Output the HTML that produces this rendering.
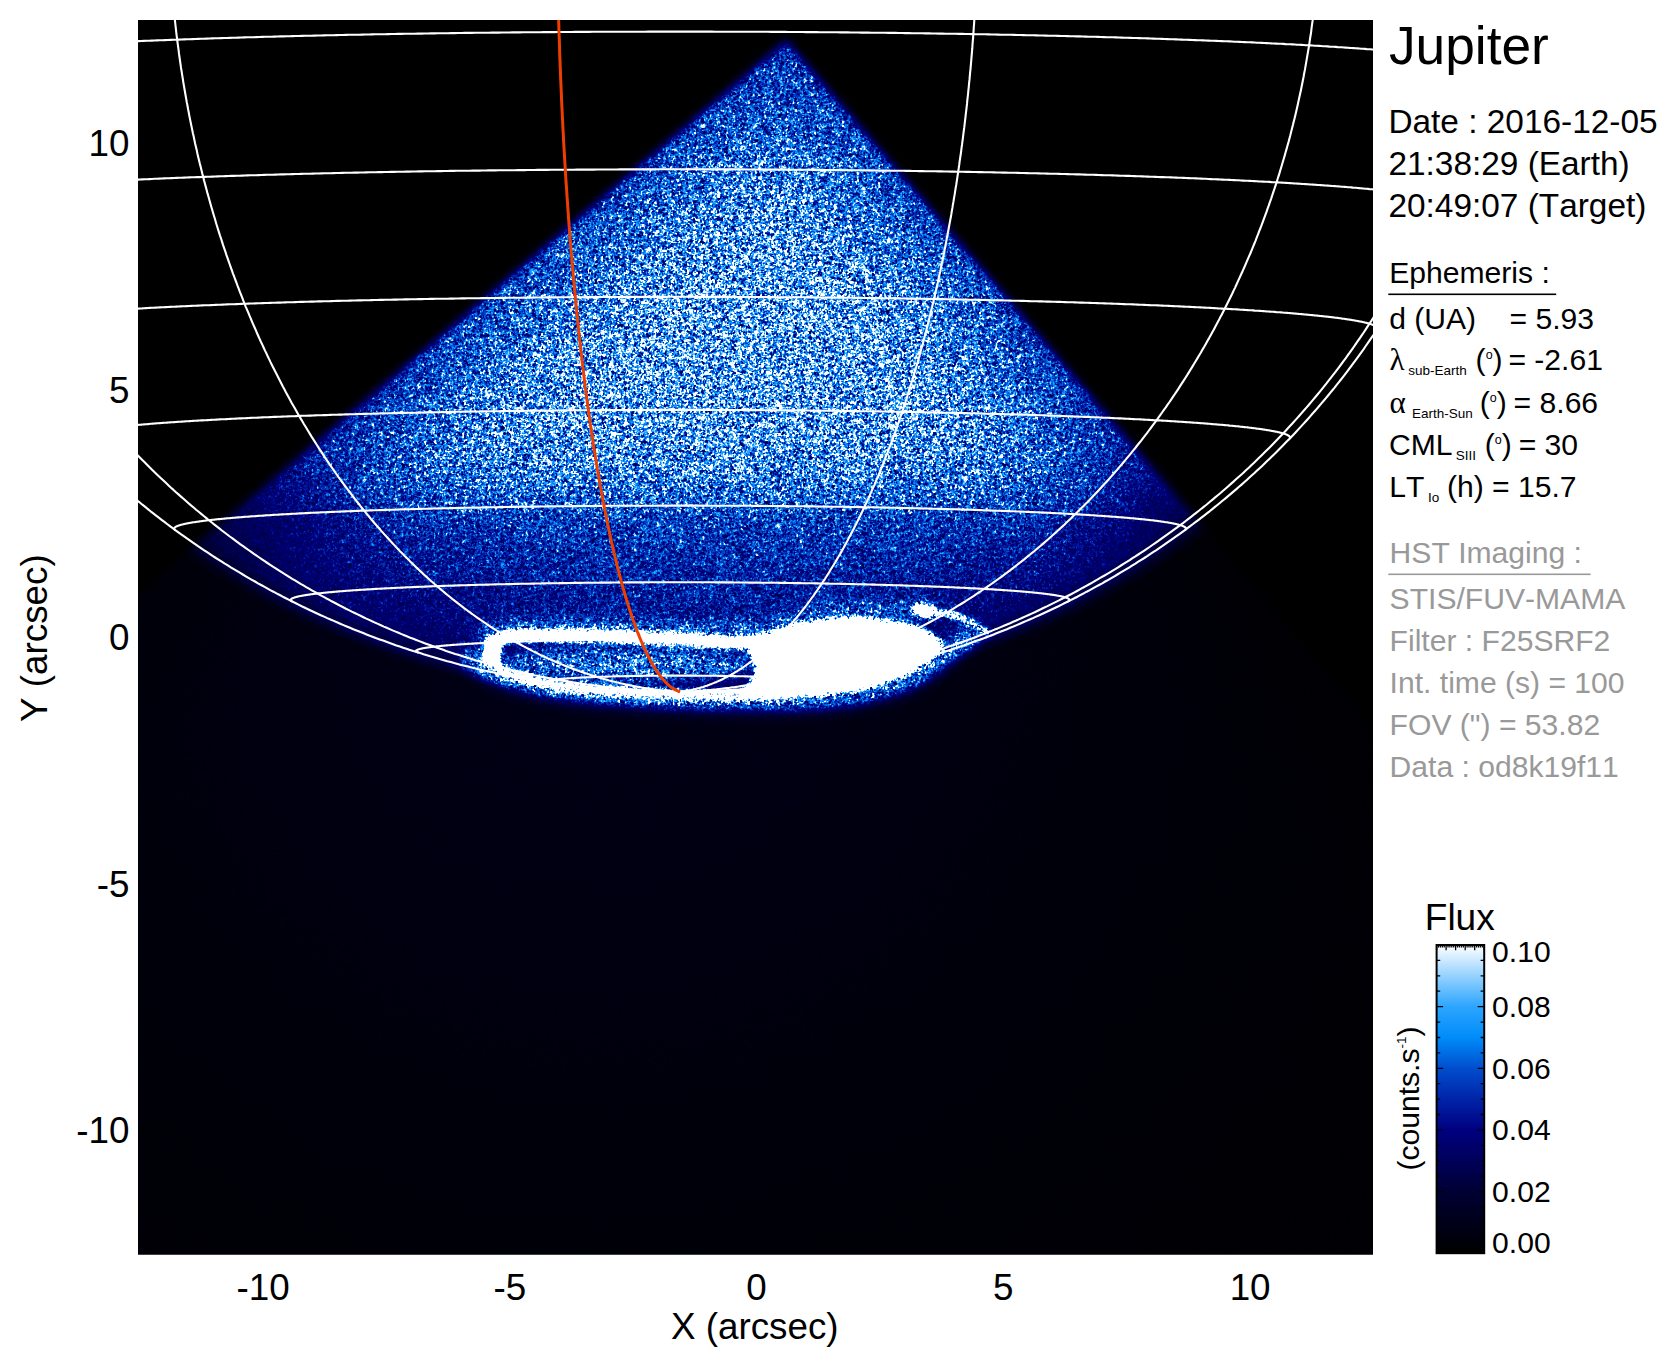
<!DOCTYPE html>
<html lang="en"><head><meta charset="utf-8"><title>Jupiter HST STIS FUV aurora</title>
<style>html,body{margin:0;padding:0;background:#fff;width:1676px;height:1367px}</style></head>
<body>
<svg width="1676" height="1367" viewBox="0 0 1676 1367" style="display:block;position:absolute;left:0;top:0">
<defs>
<clipPath id="plot"><rect x="138" y="20" width="1235" height="1234.5"/></clipPath>
<radialGradient id="disk" gradientUnits="userSpaceOnUse" cx="0" cy="0" r="781.7" gradientTransform="translate(680.09 -73.70) scale(1.06937 1)"><stop offset="0.0000" stop-color="#a9a9a9"/>
<stop offset="0.5882" stop-color="#a9a9a9"/>
<stop offset="0.7353" stop-color="#a7a7a7"/>
<stop offset="0.8333" stop-color="#a4a4a4"/>
<stop offset="0.8824" stop-color="#a1a1a1"/>
<stop offset="0.9314" stop-color="#9d9d9d"/>
<stop offset="0.9657" stop-color="#989898"/>
<stop offset="0.9804" stop-color="#8b8b8b"/>
<stop offset="1.0000" stop-color="#595959"/></radialGradient>
<radialGradient id="vig" gradientUnits="userSpaceOnUse" cx="790" cy="330" r="800"><stop offset="0.0000" stop-color="#000" stop-opacity="0.0000"/><stop offset="0.3750" stop-color="#000" stop-opacity="0.0000"/><stop offset="0.5625" stop-color="#000" stop-opacity="0.0153"/><stop offset="0.7500" stop-color="#000" stop-opacity="0.0315"/><stop offset="1.0000" stop-color="#000" stop-opacity="0.0543"/></radialGradient>
<linearGradient id="latg" gradientUnits="userSpaceOnUse" x1="0" y1="430" x2="0" y2="700"><stop offset="0.0000" stop-color="#000" stop-opacity="0.0000"/><stop offset="0.1481" stop-color="#000" stop-opacity="0.0102"/><stop offset="0.2593" stop-color="#000" stop-opacity="0.0398"/><stop offset="0.3333" stop-color="#000" stop-opacity="0.0663"/><stop offset="0.4815" stop-color="#000" stop-opacity="0.0821"/><stop offset="0.7037" stop-color="#000" stop-opacity="0.0919"/><stop offset="1.0000" stop-color="#000" stop-opacity="0.0987"/></linearGradient>
<filter id="b14" filterUnits="userSpaceOnUse" x="-62" y="-180" width="1635" height="1634.5"><feGaussianBlur stdDeviation="50"/></filter>
<radialGradient id="sky" gradientUnits="userSpaceOnUse" cx="600" cy="620" r="900"><stop offset="0.000" stop-color="#606060"/><stop offset="0.278" stop-color="#5d5d5d"/><stop offset="0.500" stop-color="#555555"/><stop offset="0.722" stop-color="#4b4b4b"/><stop offset="1.000" stop-color="#444444"/></radialGradient>
<filter id="b6" x="-5%" y="-5%" width="110%" height="110%"><feGaussianBlur stdDeviation="6.5"/></filter>
<filter id="b3" x="-10%" y="-10%" width="120%" height="120%"><feGaussianBlur stdDeviation="3"/></filter>
<filter id="b2" x="-20%" y="-50%" width="140%" height="200%"><feGaussianBlur stdDeviation="2"/></filter>
<filter id="b8" x="-20%" y="-60%" width="140%" height="220%"><feGaussianBlur stdDeviation="7"/></filter>
<mask id="detmask2" maskUnits="userSpaceOnUse" x="88" y="-30" width="1335" height="1334.5"><g filter="url(#b3)"><path d="M787.0 18.0 L1987.0 1419.6 L1987.0 1500.0 L-413.0 1500.0 L-413.0 1045.2 Z" fill="#fff"/></g></mask>
<mask id="detmask" maskUnits="userSpaceOnUse" x="88" y="-30" width="1335" height="1334.5"><g filter="url(#b6)"><path d="M787.0 30.0 L1987.0 1431.6 L1987.0 1500.0 L-413.0 1500.0 L-413.0 1057.2 Z" fill="#fff"/></g></mask>
<filter id="cm" filterUnits="userSpaceOnUse" x="138" y="20" width="1235" height="1234.5" color-interpolation-filters="sRGB">
<feTurbulence type="fractalNoise" baseFrequency="2.13" numOctaves="1" seed="7" result="t"/>
<feColorMatrix in="t" type="matrix" values="1.15 1.15 0 0 -0.65  1.15 1.15 0 0 -0.65  1.15 1.15 0 0 -0.65  0 0 0 0 1" result="g"/>
<feConvolveMatrix in="g" order="3" kernelMatrix="0.0784 0.28 0.0784 0.28 1 0.28 0.0784 0.28 0.0784" divisor="2.4336" edgeMode="duplicate" preserveAlpha="true" result="n"/>
<feTurbulence type="fractalNoise" baseFrequency="0.21" numOctaves="2" seed="11" result="t2"/>
<feColorMatrix in="t2" type="matrix" values="1 0 0 0 0  1 0 0 0 0  1 0 0 0 0  0 0 0 0 1" result="g2"/>
<feComposite in="n" in2="g2" operator="arithmetic" k1="0" k2="1" k3="0.15" k4="-0.075" result="n2"/>
<feComponentTransfer in="SourceGraphic" result="sp"><feFuncR type="table" tableValues="0.0200 0.0200 0.0200 0.0200 0.0200 0.0200 0.0200 0.0200 0.0200 0.0200 0.0200 0.0200 0.0200 0.0200 0.0200 0.0200 0.0200 0.0200 0.0200 0.0250 0.0300 0.0450 0.0600 0.0825 0.1050 0.1275 0.1500 0.1700 0.1900 0.1950 0.2000 0.2000 0.2000 0.1875 0.1750 0.1625 0.1500 0.1375 0.1250 0.1125 0.1000"/><feFuncG type="table" tableValues="0.0200 0.0200 0.0200 0.0200 0.0200 0.0200 0.0200 0.0200 0.0200 0.0200 0.0200 0.0200 0.0200 0.0200 0.0200 0.0200 0.0200 0.0200 0.0200 0.0250 0.0300 0.0450 0.0600 0.0825 0.1050 0.1275 0.1500 0.1700 0.1900 0.1950 0.2000 0.2000 0.2000 0.1875 0.1750 0.1625 0.1500 0.1375 0.1250 0.1125 0.1000"/><feFuncB type="table" tableValues="0.0200 0.0200 0.0200 0.0200 0.0200 0.0200 0.0200 0.0200 0.0200 0.0200 0.0200 0.0200 0.0200 0.0200 0.0200 0.0200 0.0200 0.0200 0.0200 0.0250 0.0300 0.0450 0.0600 0.0825 0.1050 0.1275 0.1500 0.1700 0.1900 0.1950 0.2000 0.2000 0.2000 0.1875 0.1750 0.1625 0.1500 0.1375 0.1250 0.1125 0.1000"/></feComponentTransfer>
<feComposite in="sp" in2="n2" operator="arithmetic" k1="4.5" k2="-2.25" k3="0" k4="0.5" result="an"/>
<feComposite in="SourceGraphic" in2="an" operator="arithmetic" k1="0" k2="1" k3="1" k4="-0.5" result="v"/>
<feComponentTransfer in="v"><feFuncR type="table" tableValues="0.000 0.000 0.000 0.000 0.000 0.000 0.000 0.000 0.000 0.000 0.000 0.000 0.000 0.000 0.000 0.000 0.000 0.000 0.000 0.000 0.000 0.000 0.000 0.000 0.000 0.000 0.000 0.000 0.000 0.000 0.000 0.000 0.000 0.000 0.000 0.000 0.000 0.000 0.000 0.000 0.000 0.000 0.000 0.000 0.000 0.000 0.000 0.000 0.000 0.000 0.000 0.000 0.000 0.000 0.000 0.000 0.000 0.000 0.000 0.000 0.000 0.000 0.000 0.000 0.000 0.000 0.000 0.000 0.000 0.000 0.000 0.000 0.000 0.000 0.000 0.000 0.000 0.000 0.025 0.091 0.159 0.302 0.474 0.652 0.837 1.000 1.000 1.000 1.000 1.000 1.000 1.000 1.000 1.000 1.000 1.000 1.000 1.000 1.000 1.000 1.000 1.000 1.000 1.000 1.000 1.000 1.000 1.000 1.000 1.000 1.000 1.000 1.000 1.000 1.000 1.000 1.000 1.000 1.000 1.000 1.000"/><feFuncG type="table" tableValues="0.000 0.000 0.000 0.000 0.000 0.000 0.000 0.000 0.000 0.000 0.000 0.000 0.000 0.000 0.000 0.000 0.000 0.000 0.000 0.000 0.000 0.000 0.000 0.000 0.000 0.000 0.000 0.000 0.000 0.000 0.000 0.000 0.000 0.000 0.000 0.000 0.000 0.000 0.000 0.000 0.000 0.000 0.000 0.000 0.000 0.000 0.000 0.000 0.000 0.000 0.000 0.000 0.000 0.000 0.000 0.000 0.000 0.000 0.000 0.000 0.000 0.000 0.000 0.000 0.000 0.000 0.000 0.000 0.018 0.053 0.089 0.127 0.171 0.220 0.270 0.331 0.412 0.496 0.563 0.599 0.637 0.701 0.774 0.851 0.930 1.000 1.000 1.000 1.000 1.000 1.000 1.000 1.000 1.000 1.000 1.000 1.000 1.000 1.000 1.000 1.000 1.000 1.000 1.000 1.000 1.000 1.000 1.000 1.000 1.000 1.000 1.000 1.000 1.000 1.000 1.000 1.000 1.000 1.000 1.000 1.000"/><feFuncB type="table" tableValues="0.000 0.000 0.000 0.000 0.000 0.000 0.000 0.000 0.000 0.000 0.000 0.000 0.000 0.001 0.001 0.001 0.001 0.002 0.002 0.003 0.003 0.004 0.005 0.006 0.007 0.008 0.009 0.010 0.012 0.014 0.016 0.018 0.021 0.023 0.026 0.030 0.033 0.037 0.041 0.046 0.050 0.056 0.061 0.067 0.074 0.081 0.088 0.096 0.104 0.113 0.123 0.133 0.144 0.155 0.167 0.180 0.193 0.209 0.231 0.254 0.278 0.304 0.331 0.359 0.388 0.419 0.451 0.485 0.521 0.560 0.601 0.643 0.686 0.728 0.773 0.822 0.881 0.942 0.983 0.990 0.998 1.000 1.000 1.000 1.000 1.000 1.000 1.000 1.000 1.000 1.000 1.000 1.000 1.000 1.000 1.000 1.000 1.000 1.000 1.000 1.000 1.000 1.000 1.000 1.000 1.000 1.000 1.000 1.000 1.000 1.000 1.000 1.000 1.000 1.000 1.000 1.000 1.000 1.000 1.000 1.000"/><feFuncA type="linear" slope="0" intercept="1"/></feComponentTransfer>
<feConvolveMatrix order="3" kernelMatrix="0 0 0 0 1 0 0 0 0" divisor="1" edgeMode="duplicate" preserveAlpha="true"/>
</filter>
</defs>
<rect width="1676" height="1367" fill="#fff"/>
<rect x="138" y="20" width="1235" height="1234.5" fill="#000"/>
<g clip-path="url(#plot)">
<g mask="url(#detmask2)">
<g filter="url(#cm)">
<rect x="138" y="20" width="1235" height="1234.5" fill="#000"/>
<g mask="url(#detmask)">
<rect x="138" y="20" width="1235" height="1234.5" fill="url(#sky)"/>
<ellipse cx="680.09" cy="-73.70" rx="835.9" ry="781.7" fill="url(#disk)"/>
<ellipse cx="680.09" cy="-73.70" rx="819.5" ry="766.3" fill="url(#vig)"/>
<ellipse cx="680.09" cy="-73.70" rx="819.5" ry="766.3" fill="url(#latg)"/>
<g filter="url(#b14)" opacity="0.12"><path d="M-413.0 1057.2 L787.0 30.0 L1987.0 1431.6" fill="none" stroke="#000" stroke-width="80"/></g>
<g filter="url(#b8)" fill="none"><path d="M468.0 650.0 C470.0 653.0 471.3 662.3 480.0 668.0 C488.7 673.7 505.0 679.7 520.0 684.0 C535.0 688.3 550.0 691.3 570.0 694.0 C590.0 696.7 615.0 698.5 640.0 700.0 C665.0 701.5 693.3 702.5 720.0 703.0 C746.7 703.5 776.7 704.0 800.0 703.0 C823.3 702.0 841.7 700.5 860.0 697.0 C878.3 693.5 895.0 689.0 910.0 682.0 C925.0 675.0 939.2 663.7 950.0 655.0 C960.8 646.3 970.8 634.2 975.0 630.0" stroke="#a8a8a8" stroke-width="20"/><path d="M480.0 636.0 C486.7 634.3 500.0 627.7 520.0 626.0 C540.0 624.3 570.0 625.5 600.0 626.0 C630.0 626.5 671.7 629.0 700.0 629.0 C728.3 629.0 750.0 628.8 770.0 626.0 C790.0 623.2 801.7 614.7 820.0 612.0 C838.3 609.3 861.7 611.0 880.0 610.0 C898.3 609.0 921.7 606.7 930.0 606.0" stroke="#a5a5a5" stroke-width="12"/></g>
<g filter="url(#b8)"><ellipse cx="628" cy="664" rx="128" ry="17" fill="#a3a3a3"/></g>
<g filter="url(#b3)" fill="none" stroke="#fff" stroke-linecap="round" stroke-linejoin="round">
<path d="M492.0 646.0 C494.2 644.5 500.0 638.8 505.0 637.0 C510.0 635.2 513.3 635.8 522.0 635.5 C530.7 635.2 544.0 635.4 557.0 635.5 C570.0 635.6 588.0 635.8 600.0 636.0 C612.0 636.2 617.3 636.6 629.0 637.0 C640.7 637.4 658.2 638.0 670.0 638.5 C681.8 639.0 689.0 639.4 700.0 640.0 C711.0 640.6 723.5 641.8 736.0 642.0 C748.5 642.2 768.5 641.2 775.0 641.0" stroke-width="8.5"/>
<path d="M490.0 650.0 C490.7 652.2 491.0 659.2 494.0 663.0 C497.0 666.8 500.3 669.8 508.0 673.0 C515.7 676.2 529.7 679.7 540.0 682.0 C550.3 684.3 560.0 685.7 570.0 687.0 C580.0 688.3 588.3 689.1 600.0 690.0 C611.7 690.9 626.7 691.8 640.0 692.5 C653.3 693.2 666.7 694.0 680.0 694.5 C693.3 695.0 706.7 695.3 720.0 695.5 C733.3 695.7 748.3 695.6 760.0 695.5 C771.7 695.4 785.0 695.1 790.0 695.0" stroke-width="4.5"/>
<ellipse cx="492" cy="652" rx="7.5" ry="15" fill="#fff" stroke="none"/>
<path d="M742.0 642.0 C744.8 638.8 761.2 636.5 770.0 634.0 C778.8 631.5 787.0 629.0 795.0 627.0 C803.0 625.0 809.7 623.2 818.0 622.0 C826.3 620.8 834.5 620.1 845.0 620.0 C855.5 619.9 870.5 620.4 881.0 621.5 C891.5 622.6 900.5 624.5 908.0 626.5 C915.5 628.5 920.7 630.6 926.0 633.5 C931.3 636.4 940.0 639.4 940.0 644.0 C940.0 648.6 932.8 655.7 926.0 661.0 C919.2 666.3 908.0 672.0 899.0 676.0 C890.0 680.0 881.0 682.6 872.0 685.0 C863.0 687.4 855.3 689.0 845.0 690.5 C834.7 692.0 821.7 693.2 810.0 694.0 C798.3 694.8 786.3 694.9 775.0 695.0 C763.7 695.1 745.7 696.5 742.0 694.5 C738.3 692.5 750.2 687.4 753.0 683.0 C755.8 678.6 759.0 673.0 759.0 668.0 C759.0 663.0 755.8 657.3 753.0 653.0 C750.2 648.7 739.2 645.2 742.0 642.0 Z" fill="#fff" stroke-width="2"/>
<ellipse cx="924" cy="610.5" rx="11" ry="5.5" fill="#fff" stroke="none" transform="rotate(8 924 610.5)"/>
</g>
<g filter="url(#b2)"><path d="M934.0 612.0 C937.2 612.5 946.3 613.0 953.0 615.0 C959.7 617.0 968.2 620.8 974.0 624.0 C979.8 627.2 985.7 632.3 988.0 634.0" fill="none" stroke="#c1c1c1" stroke-width="6" stroke-linecap="round"/></g>
</g>
</g>
<g filter="url(#b2)" fill="none" stroke="#fff" stroke-linecap="round" stroke-linejoin="round">
<path d="M492.0 646.0 C494.2 644.5 500.0 638.8 505.0 637.0 C510.0 635.2 513.3 635.8 522.0 635.5 C530.7 635.2 544.0 635.4 557.0 635.5 C570.0 635.6 588.0 635.8 600.0 636.0 C612.0 636.2 617.3 636.6 629.0 637.0 C640.7 637.4 658.2 638.0 670.0 638.5 C681.8 639.0 689.0 639.4 700.0 640.0 C711.0 640.6 723.5 641.8 736.0 642.0 C748.5 642.2 768.5 641.2 775.0 641.0" stroke-width="6.5"/>
<path d="M490.0 650.0 C490.7 652.2 491.0 659.2 494.0 663.0 C497.0 666.8 500.3 669.8 508.0 673.0 C515.7 676.2 529.7 679.7 540.0 682.0 C550.3 684.3 560.0 685.7 570.0 687.0 C580.0 688.3 588.3 689.1 600.0 690.0 C611.7 690.9 626.7 691.8 640.0 692.5 C653.3 693.2 666.7 694.0 680.0 694.5 C693.3 695.0 706.7 695.3 720.0 695.5 C733.3 695.7 748.3 695.6 760.0 695.5 C771.7 695.4 785.0 695.1 790.0 695.0" stroke-width="3"/>
<ellipse cx="492" cy="652" rx="5" ry="12" fill="#fff" stroke="none"/>
<path d="M749.6 644.1 C752.2 641.4 767.4 639.4 775.6 637.2 C783.8 635.1 791.4 632.9 798.9 631.2 C806.3 629.5 812.5 627.9 820.2 626.9 C828.0 625.9 835.6 625.3 845.4 625.2 C855.1 625.1 869.1 625.5 878.8 626.5 C888.6 627.4 897.0 629.0 903.9 630.8 C910.9 632.5 915.7 634.3 920.7 636.8 C925.6 639.3 933.7 641.9 933.7 645.8 C933.7 649.8 927.0 655.9 920.7 660.4 C914.3 665.0 903.9 669.9 895.6 673.3 C887.2 676.8 878.8 679.0 870.5 681.1 C862.1 683.2 855.0 684.5 845.4 685.8 C835.7 687.1 823.6 688.2 812.8 688.8 C801.9 689.5 790.8 689.6 780.2 689.7 C769.7 689.8 753.0 691.0 749.6 689.2 C746.1 687.5 757.2 683.2 759.8 679.4 C762.4 675.6 765.4 670.8 765.4 666.5 C765.4 662.2 762.4 657.3 759.8 653.6 C757.2 649.8 746.9 646.8 749.6 644.1 Z" fill="#fff" stroke="none"/>
<ellipse cx="924" cy="610.5" rx="8" ry="3.5" fill="#fff" stroke="none" transform="rotate(8 924 610.5)"/>
</g>
</g>
<g fill="none" stroke="#fff" stroke-width="2.1" stroke-linejoin="round">
<path d="M552.6 683.4 L552.4 683.4 L552.3 683.4 L552.1 683.3 L551.9 683.3 L551.8 683.3 L551.6 683.3 L551.5 683.2 L551.3 683.2 L551.2 683.2 L551.0 683.2 L550.9 683.1 L550.7 683.1 L550.6 683.1 L550.4 683.1 L550.3 683.0 L550.2 683.0 L550.1 683.0 L549.9 683.0 L549.8 682.9 L549.7 682.9 L549.6 682.9 L549.4 682.9 L549.3 682.8 L549.2 682.8 L549.1 682.8 L549.0 682.8 L548.9 682.7 L548.8 682.7 L548.7 682.7 L548.6 682.6 L548.5 682.6 L548.4 682.6 L548.3 682.6 L548.2 682.5 L548.1 682.5 L548.1 682.5 L548.0 682.5 L547.9 682.4 L547.8 682.4 L547.8 682.4 L547.7 682.4 L547.6 682.3 L547.6 682.3 L547.5 682.3 L547.4 682.3 L547.4 682.2 L547.3 682.2 L547.3 682.2 L547.2 682.2 L547.2 682.1 L547.1 682.1 L547.1 682.1 L547.0 682.0 L547.0 682.0 L547.0 682.0 L546.9 682.0 L546.9 681.9 L546.9 681.9 L546.9 681.9 L546.8 681.9 L546.8 681.8 L546.8 681.8 L546.8 681.8 L546.8 681.8 L546.8 681.7 L546.8 681.7 L546.8 681.7 L546.8 681.7 L546.8 681.6 L546.8 681.6 L546.8 681.6 L546.8 681.5 L546.8 681.5 L546.8 681.5 L546.8 681.5 L546.8 681.4 L546.9 681.4 L546.9 681.4 L546.9 681.4 L546.9 681.3 L547.0 681.3 L547.0 681.3 L547.0 681.3 L547.1 681.2 L547.1 681.2 L547.2 681.2 L547.2 681.1 L547.3 681.1 L547.3 681.1 L547.4 681.1 L547.4 681.0 L547.5 681.0 L547.6 681.0 L547.6 681.0 L547.7 680.9 L547.8 680.9 L547.8 680.9 L547.9 680.9 L548.0 680.8 L548.1 680.8 L548.1 680.8 L548.2 680.8 L548.3 680.7 L548.4 680.7 L548.5 680.7 L548.6 680.7 L548.7 680.6 L548.8 680.6 L548.9 680.6 L549.0 680.5 L549.1 680.5 L549.2 680.5 L549.3 680.5 L549.4 680.4 L549.6 680.4 L549.7 680.4 L549.8 680.4 L549.9 680.3 L550.1 680.3 L550.2 680.3 L550.3 680.3 L550.4 680.2 L550.6 680.2 L550.7 680.2 L550.9 680.2 L551.0 680.1 L551.2 680.1 L551.3 680.1 L551.5 680.1 L551.6 680.0 L551.8 680.0 L551.9 680.0 L552.1 680.0 L552.3 679.9 L552.4 679.9 L552.6 679.9 L552.8 679.9 L552.9 679.8 L553.1 679.8 L553.3 679.8 L553.5 679.8 L553.7 679.7 L553.8 679.7 L554.0 679.7 L554.2 679.7 L554.4 679.6 L554.6 679.6 L554.8 679.6 L555.0 679.6 L555.2 679.5 L555.4 679.5 L555.6 679.5 L555.8 679.5 L556.0 679.4 L556.3 679.4 L556.5 679.4 L556.7 679.4 L556.9 679.3 L557.1 679.3 L557.4 679.3 L557.6 679.3 L557.8 679.2 L558.1 679.2 L558.3 679.2 L558.5 679.2 L558.8 679.1 L559.0 679.1 L559.3 679.1 L559.5 679.1 L559.8 679.0 L560.0 679.0 L560.3 679.0 L560.5 679.0 L560.8 679.0 L561.0 678.9 L561.3 678.9 L561.6 678.9 L561.8 678.9 L562.1 678.8 L562.4 678.8 L562.6 678.8 L562.9 678.8 L563.2 678.7 L563.5 678.7 L563.8 678.7 L564.0 678.7 L564.3 678.6 L564.6 678.6 L564.9 678.6 L565.2 678.6 L565.5 678.6 L565.8 678.5 L566.1 678.5 L566.4 678.5 L566.7 678.5 L567.0 678.4 L567.3 678.4 L567.6 678.4 L568.0 678.4 L568.3 678.4 L568.6 678.3 L568.9 678.3 L569.2 678.3 L569.6 678.3 L569.9 678.2 L570.2 678.2 L570.5 678.2 L570.9 678.2 L571.2 678.2 L571.5 678.1 L571.9 678.1 L572.2 678.1 L572.6 678.1 L572.9 678.1 L573.3 678.0 L573.6 678.0 L574.0 678.0 L574.3 678.0 L574.7 677.9 L575.0 677.9 L575.4 677.9 L575.7 677.9 L576.1 677.9 L576.5 677.8 L576.8 677.8 L577.2 677.8 L577.6 677.8 L578.0 677.8 L578.3 677.7 L578.7 677.7 L579.1 677.7 L579.5 677.7 L579.9 677.7 L580.2 677.6 L580.6 677.6 L581.0 677.6 L581.4 677.6 L581.8 677.6 L582.2 677.5 L582.6 677.5 L583.0 677.5 L583.4 677.5 L583.8 677.5 L584.2 677.4 L584.6 677.4 L585.0 677.4 L585.4 677.4 L585.8 677.4 L586.2 677.4 L586.6 677.3 L587.1 677.3 L587.5 677.3 L587.9 677.3 L588.3 677.3 L588.7 677.2 L589.2 677.2 L589.6 677.2 L590.0 677.2 L590.4 677.2 L590.9 677.2 L591.3 677.1 L591.7 677.1 L592.2 677.1 L592.6 677.1 L593.1 677.1 L593.5 677.1 L593.9 677.0 L594.4 677.0 L594.8 677.0 L595.3 677.0 L595.7 677.0 L596.2 677.0 L596.6 676.9 L597.1 676.9 L597.5 676.9 L598.0 676.9 L598.5 676.9 L598.9 676.9 L599.4 676.8 L599.9 676.8 L600.3 676.8 L600.8 676.8 L601.3 676.8 L601.7 676.8 L602.2 676.7 L602.7 676.7 L603.1 676.7 L603.6 676.7 L604.1 676.7 L604.6 676.7 L605.1 676.7 L605.5 676.6 L606.0 676.6 L606.5 676.6 L607.0 676.6 L607.5 676.6 L608.0 676.6 L608.5 676.5 L608.9 676.5 L609.4 676.5 L609.9 676.5 L610.4 676.5 L610.9 676.5 L611.4 676.5 L611.9 676.5 L612.4 676.4 L612.9 676.4 L613.4 676.4 L613.9 676.4 L614.4 676.4 L614.9 676.4 L615.5 676.4 L616.0 676.3 L616.5 676.3 L617.0 676.3 L617.5 676.3 L618.0 676.3 L618.5 676.3 L619.0 676.3 L619.6 676.3 L620.1 676.2 L620.6 676.2 L621.1 676.2 L621.6 676.2 L622.2 676.2 L622.7 676.2 L623.2 676.2 L623.7 676.2 L624.3 676.2 L624.8 676.1 L625.3 676.1 L625.9 676.1 L626.4 676.1 L626.9 676.1 L627.5 676.1 L628.0 676.1 L628.5 676.1 L629.1 676.1 L629.6 676.1 L630.1 676.0 L630.7 676.0 L631.2 676.0 L631.8 676.0 L632.3 676.0 L632.9 676.0 L633.4 676.0 L633.9 676.0 L634.5 676.0 L635.0 676.0 L635.6 675.9 L636.1 675.9 L636.7 675.9 L637.2 675.9 L637.8 675.9 L638.3 675.9 L638.9 675.9 L639.4 675.9 L640.0 675.9 L640.6 675.9 L641.1 675.9 L641.7 675.9 L642.2 675.9 L642.8 675.8 L643.3 675.8 L643.9 675.8 L644.5 675.8 L645.0 675.8 L645.6 675.8 L646.1 675.8 L646.7 675.8 L647.3 675.8 L647.8 675.8 L648.4 675.8 L649.0 675.8 L649.5 675.8 L650.1 675.8 L650.7 675.8 L651.2 675.7 L651.8 675.7 L652.4 675.7 L652.9 675.7 L653.5 675.7 L654.1 675.7 L654.7 675.7 L655.2 675.7 L655.8 675.7 L656.4 675.7 L656.9 675.7 L657.5 675.7 L658.1 675.7 L658.7 675.7 L659.2 675.7 L659.8 675.7 L660.4 675.7 L661.0 675.7 L661.5 675.7 L662.1 675.7 L662.7 675.7 L663.3 675.7 L663.8 675.6 L664.4 675.6 L665.0 675.6 L665.6 675.6 L666.2 675.6 L666.7 675.6 L667.3 675.6 L667.9 675.6 L668.5 675.6 L669.0 675.6 L669.6 675.6 L670.2 675.6 L670.8 675.6 L671.4 675.6 L672.0 675.6 L672.5 675.6 L673.1 675.6 L673.7 675.6 L674.3 675.6 L674.9 675.6 L675.4 675.6 L676.0 675.6 L676.6 675.6 L677.2 675.6 L677.8 675.6 L678.3 675.6 L678.9 675.6 L679.5 675.6 L680.1 675.6 L680.7 675.6 L681.3 675.6 L681.8 675.6 L682.4 675.6 L683.0 675.6 L683.6 675.6 L684.2 675.6 L684.7 675.6 L685.3 675.6 L685.9 675.6 L686.5 675.6 L687.1 675.6 L687.6 675.6 L688.2 675.6 L688.8 675.6 L689.4 675.6 L690.0 675.6 L690.6 675.6 L691.1 675.6 L691.7 675.6 L692.3 675.6 L692.9 675.6 L693.4 675.6 L694.0 675.6 L694.6 675.6 L695.2 675.6 L695.8 675.6 L696.3 675.6 L696.9 675.7 L697.5 675.7 L698.1 675.7 L698.6 675.7 L699.2 675.7 L699.8 675.7 L700.4 675.7 L700.9 675.7 L701.5 675.7 L702.1 675.7 L702.7 675.7 L703.2 675.7 L703.8 675.7 L704.4 675.7 L705.0 675.7 L705.5 675.7 L706.1 675.7 L706.7 675.7 L707.2 675.7 L707.8 675.7 L708.4 675.7 L708.9 675.7 L709.5 675.8 L710.1 675.8 L710.6 675.8 L711.2 675.8 L711.8 675.8 L712.3 675.8 L712.9 675.8 L713.5 675.8 L714.0 675.8 L714.6 675.8 L715.2 675.8 L715.7 675.8 L716.3 675.8 L716.8 675.8 L717.4 675.8 L718.0 675.9 L718.5 675.9 L719.1 675.9 L719.6 675.9 L720.2 675.9 L720.7 675.9 L721.3 675.9 L721.8 675.9 L722.4 675.9 L722.9 675.9 L723.5 675.9 L724.0 675.9 L724.6 675.9 L725.1 676.0 L725.7 676.0 L726.2 676.0 L726.8 676.0 L727.3 676.0 L727.9 676.0 L728.4 676.0 L729.0 676.0 L729.5 676.0 L730.0 676.0 L730.6 676.1 L731.1 676.1 L731.6 676.1 L732.2 676.1 L732.7 676.1 L733.3 676.1 L733.8 676.1 L734.3 676.1 L734.8 676.1 L735.4 676.1 L735.9 676.2 L736.4 676.2 L737.0 676.2 L737.5 676.2 L738.0 676.2 L738.5 676.2 L739.1 676.2 L739.6 676.2 L740.1 676.2 L740.6 676.3 L741.1 676.3 L741.7 676.3 L742.2 676.3 L742.7 676.3 L743.2 676.3 L743.7 676.3 L744.2 676.3 L744.7 676.4 L745.2 676.4 L745.7 676.4 L746.2 676.4 L746.8 676.4 L747.3 676.4 L747.8 676.4 L748.3 676.5 L748.8 676.5 L749.3 676.5 L749.8 676.5 L750.2 676.5 L750.7 676.5 L751.2 676.5 L751.7 676.5 L752.2 676.6 L752.7 676.6 L753.2 676.6 L753.7 676.6 L754.2 676.6 L754.6 676.6 L755.1 676.7 L755.6 676.7 L756.1 676.7 L756.6 676.7 L757.0 676.7 L757.5 676.7 L758.0 676.7 L758.5 676.8 L758.9 676.8 L759.4 676.8 L759.9 676.8 L760.3 676.8 L760.8 676.8 L761.3 676.9 L761.7 676.9 L762.2 676.9 L762.6 676.9 L763.1 676.9 L763.5 676.9 L764.0 677.0 L764.4 677.0 L764.9 677.0 L765.3 677.0 L765.8 677.0 L766.2 677.0 L766.7 677.1 L767.1 677.1 L767.6 677.1 L768.0 677.1 L768.4 677.1 L768.9 677.1 L769.3 677.2 L769.7 677.2 L770.2 677.2 L770.6 677.2 L771.0 677.2 L771.4 677.2 L771.9 677.3 L772.3 677.3 L772.7 677.3 L773.1 677.3 L773.5 677.3 L774.0 677.4 L774.4 677.4 L774.8 677.4 L775.2 677.4 L775.6 677.4 L776.0 677.4 L776.4 677.5 L776.8 677.5 L777.2 677.5 L777.6 677.5 L778.0 677.5 L778.4 677.6 L778.8 677.6 L779.2 677.6 L779.6 677.6 L779.9 677.6 L780.3 677.7 L780.7 677.7 L781.1 677.7 L781.5 677.7 L781.8 677.7 L782.2 677.8 L782.6 677.8 L783.0 677.8 L783.3 677.8 L783.7 677.8 L784.1 677.9 L784.4 677.9 L784.8 677.9 L785.2 677.9 L785.5 677.9 L785.9 678.0 L786.2 678.0 L786.6 678.0 L786.9 678.0 L787.3 678.1 L787.6 678.1 L788.0 678.1 L788.3 678.1 L788.6 678.1 L789.0 678.2 L789.3 678.2 L789.6 678.2 L790.0 678.2 L790.3 678.2 L790.6 678.3 L790.9 678.3 L791.3 678.3 L791.6 678.3 L791.9 678.4 L792.2 678.4 L792.5 678.4 L792.8 678.4 L793.2 678.4 L793.5 678.5 L793.8 678.5 L794.1 678.5 L794.4 678.5 L794.7 678.6 L795.0 678.6 L795.3 678.6 L795.6 678.6 L795.8 678.6 L796.1 678.7 L796.4 678.7 L796.7 678.7 L797.0 678.7 L797.3 678.8 L797.5 678.8 L797.8 678.8 L798.1 678.8 L798.4 678.9 L798.6 678.9 L798.9 678.9 L799.1 678.9 L799.4 679.0 L799.7 679.0 L799.9 679.0 L800.2 679.0 L800.4 679.0 L800.7 679.1 L800.9 679.1 L801.2 679.1 L801.4 679.1 L801.7 679.2 L801.9 679.2 L802.1 679.2 L802.4 679.2 L802.6 679.3 L802.8 679.3 L803.0 679.3 L803.3 679.3 L803.5 679.4 L803.7 679.4 L803.9 679.4 L804.1 679.4 L804.4 679.5 L804.6 679.5 L804.8 679.5 L805.0 679.5 L805.2 679.6 L805.4 679.6 L805.6 679.6 L805.8 679.6 L806.0 679.7 L806.2 679.7 L806.3 679.7 L806.5 679.7 L806.7 679.8 L806.9 679.8 L807.1 679.8 L807.2 679.8 L807.4 679.9 L807.6 679.9 L807.8 679.9 L807.9 679.9 L808.1 680.0 L808.3 680.0 L808.4 680.0 L808.6 680.0 L808.7 680.1 L808.9 680.1 L809.0 680.1 L809.2 680.1 L809.3 680.2 L809.5 680.2 L809.6 680.2 L809.7 680.2 L809.9 680.3 L810.0 680.3 L810.1 680.3 L810.3 680.3 L810.4 680.4 L810.5 680.4 L810.6 680.4 L810.7 680.4 L810.9 680.5 L811.0 680.5 L811.1 680.5 L811.2 680.5 L811.3 680.6 L811.4 680.6 L811.5 680.6 L811.6 680.7 L811.7 680.7 L811.8 680.7 L811.9 680.7 L812.0 680.8 L812.0 680.8 L812.1 680.8 L812.2 680.8 L812.3 680.9 L812.4 680.9 L812.4 680.9 L812.5 680.9 L812.6 681.0 L812.6 681.0 L812.7 681.0 L812.7 681.0 L812.8 681.1 L812.9 681.1 L812.9 681.1 L813.0 681.1 L813.0 681.2 L813.0 681.2 L813.1 681.2 L813.1 681.3 L813.2 681.3 L813.2 681.3 L813.2 681.3 L813.3 681.4 L813.3 681.4 L813.3 681.4 L813.3 681.4 L813.4 681.5 L813.4 681.5 L813.4 681.5 L813.4 681.5 L813.4 681.6 L813.4 681.6 L813.4 681.6 L813.4 681.7 L813.4 681.7 L813.4 681.7 L813.4 681.7 L813.4 681.8 L813.4 681.8 L813.4 681.8 L813.4 681.8 L813.3 681.9 L813.3 681.9 L813.3 681.9 L813.3 681.9 L813.2 682.0 L813.2 682.0 L813.2 682.0 L813.1 682.0 L813.1 682.1 L813.0 682.1 L813.0 682.1 L813.0 682.2 L812.9 682.2 L812.9 682.2 L812.8 682.2 L812.7 682.3 L812.7 682.3 L812.6 682.3 L812.6 682.3 L812.5 682.4 L812.4 682.4 L812.4 682.4 L812.3 682.4 L812.2 682.5 L812.1 682.5 L812.0 682.5 L812.0 682.5 L811.9 682.6 L811.8 682.6 L811.7 682.6 L811.6 682.6 L811.5 682.7 L811.4 682.7 L811.3 682.7 L811.2 682.8 L811.1 682.8 L811.0 682.8 L810.9 682.8 L810.7 682.9 L810.6 682.9 L810.5 682.9 L810.4 682.9 L810.3 683.0 L810.1 683.0 L810.0 683.0 L809.9 683.0 L809.7 683.1 L809.6 683.1 L809.5 683.1 L809.3 683.1 L809.2 683.2 L809.0 683.2 L808.9 683.2 L808.7 683.2 L808.6 683.3 L808.4 683.3 L808.3 683.3 L808.1 683.3 L807.9 683.4 L807.8 683.4 L807.6 683.4"/>
<path d="M418.6 652.7 L418.5 652.6 L418.3 652.6 L418.2 652.5 L418.0 652.5 L417.9 652.4 L417.7 652.4 L417.6 652.3 L417.5 652.3 L417.4 652.2 L417.3 652.2 L417.1 652.1 L417.0 652.1 L416.9 652.0 L416.9 652.0 L416.8 651.9 L416.7 651.9 L416.6 651.8 L416.5 651.8 L416.5 651.7 L416.4 651.6 L416.3 651.6 L416.3 651.5 L416.2 651.5 L416.2 651.4 L416.2 651.4 L416.1 651.3 L416.1 651.3 L416.1 651.2 L416.1 651.2 L416.1 651.1 L416.0 651.1 L416.0 651.0 L416.0 651.0 L416.1 650.9 L416.1 650.9 L416.1 650.8 L416.1 650.8 L416.1 650.7 L416.2 650.7 L416.2 650.6 L416.2 650.6 L416.3 650.5 L416.3 650.4 L416.4 650.4 L416.5 650.3 L416.5 650.3 L416.6 650.2 L416.7 650.2 L416.8 650.1 L416.9 650.1 L416.9 650.0 L417.0 650.0 L417.1 649.9 L417.3 649.9 L417.4 649.8 L417.5 649.8 L417.6 649.7 L417.7 649.7 L417.9 649.6 L418.0 649.6 L418.2 649.5 L418.3 649.5 L418.5 649.4 L418.6 649.4 L418.8 649.3 L418.9 649.3 L419.1 649.2 L419.3 649.1 L419.5 649.1 L419.7 649.0 L419.9 649.0 L420.1 648.9 L420.3 648.9 L420.5 648.8 L420.7 648.8 L420.9 648.7 L421.1 648.7 L421.3 648.6 L421.6 648.6 L421.8 648.5 L422.1 648.5 L422.3 648.4 L422.6 648.4 L422.8 648.3 L423.1 648.3 L423.3 648.2 L423.6 648.2 L423.9 648.1 L424.2 648.1 L424.5 648.0 L424.7 648.0 L425.0 647.9 L425.3 647.9 L425.6 647.8 L426.0 647.8 L426.3 647.7 L426.6 647.7 L426.9 647.6 L427.2 647.6 L427.6 647.5 L427.9 647.5 L428.3 647.4 L428.6 647.4 L429.0 647.3 L429.3 647.3 L429.7 647.2 L430.1 647.2 L430.4 647.1 L430.8 647.1 L431.2 647.0 L431.6 647.0 L432.0 646.9 L432.4 646.9 L432.8 646.8 L433.2 646.8 L433.6 646.7 L434.0 646.7 L434.4 646.6 L434.8 646.6 L435.3 646.5 L435.7 646.5 L436.1 646.4 L436.6 646.4 L437.0 646.3 L437.5 646.3 L437.9 646.2 L438.4 646.2 L438.9 646.2 L439.3 646.1 L439.8 646.1 L440.3 646.0 L440.8 646.0 L441.3 645.9 L441.8 645.9 L442.3 645.8 L442.8 645.8 L443.3 645.7 L443.8 645.7 L444.3 645.6 L444.8 645.6 L445.3 645.5 L445.9 645.5 L446.4 645.4 L446.9 645.4 L447.5 645.4 L448.0 645.3 L448.6 645.3 L449.1 645.2 L449.7 645.2 L450.3 645.1 L450.8 645.1 L451.4 645.0 L452.0 645.0 L452.6 644.9 L453.2 644.9 L453.8 644.9 L454.4 644.8 L455.0 644.8 L455.6 644.7 L456.2 644.7 L456.8 644.6 L457.4 644.6 L458.0 644.5 L458.6 644.5 L459.3 644.5 L459.9 644.4 L460.5 644.4 L461.2 644.3 L461.8 644.3 L462.5 644.2 L463.1 644.2 L463.8 644.2 L464.5 644.1 L465.1 644.1 L465.8 644.0 L466.5 644.0 L467.1 643.9 L467.8 643.9 L468.5 643.9 L469.2 643.8 L469.9 643.8 L470.6 643.7 L471.3 643.7 L472.0 643.6 L472.7 643.6 L473.4 643.6 L474.2 643.5 L474.9 643.5 L475.6 643.4 L476.3 643.4 L477.1 643.4 L477.8 643.3 L478.6 643.3 L479.3 643.2 L480.1 643.2 L480.8 643.2 L481.6 643.1 L482.3 643.1 L483.1 643.0 L483.9 643.0 L484.6 643.0 L485.4 642.9 L486.2 642.9 L487.0 642.9 L487.8 642.8 L488.6 642.8 L489.4 642.7 L490.1 642.7 L491.0 642.7 L491.8 642.6 L492.6 642.6 L493.4 642.6 L494.2 642.5 L495.0 642.5 L495.8 642.4 L496.7 642.4 L497.5 642.4 L498.3 642.3 L499.2 642.3 L500.0 642.3 L500.9 642.2 L501.7 642.2 L502.6 642.2 L503.4 642.1 L504.3 642.1 L505.1 642.1 L506.0 642.0 L506.9 642.0 L507.7 641.9 L508.6 641.9 L509.5 641.9 L510.4 641.8 L511.2 641.8 L512.1 641.8 L513.0 641.7 L513.9 641.7 L514.8 641.7 L515.7 641.6 L516.6 641.6 L517.5 641.6 L518.4 641.6 L519.3 641.5 L520.3 641.5 L521.2 641.5 L522.1 641.4 L523.0 641.4 L524.0 641.4 L524.9 641.3 L525.8 641.3 L526.8 641.3 L527.7 641.2 L528.6 641.2 L529.6 641.2 L530.5 641.2 L531.5 641.1 L532.4 641.1 L533.4 641.1 L534.4 641.0 L535.3 641.0 L536.3 641.0 L537.2 640.9 L538.2 640.9 L539.2 640.9 L540.2 640.9 L541.1 640.8 L542.1 640.8 L543.1 640.8 L544.1 640.8 L545.1 640.7 L546.1 640.7 L547.1 640.7 L548.1 640.6 L549.1 640.6 L550.1 640.6 L551.1 640.6 L552.1 640.5 L553.1 640.5 L554.1 640.5 L555.1 640.5 L556.1 640.4 L557.1 640.4 L558.2 640.4 L559.2 640.4 L560.2 640.4 L561.2 640.3 L562.3 640.3 L563.3 640.3 L564.3 640.3 L565.4 640.2 L566.4 640.2 L567.5 640.2 L568.5 640.2 L569.5 640.1 L570.6 640.1 L571.6 640.1 L572.7 640.1 L573.7 640.1 L574.8 640.0 L575.9 640.0 L576.9 640.0 L578.0 640.0 L579.0 640.0 L580.1 639.9 L581.2 639.9 L582.2 639.9 L583.3 639.9 L584.4 639.9 L585.5 639.8 L586.5 639.8 L587.6 639.8 L588.7 639.8 L589.8 639.8 L590.9 639.7 L591.9 639.7 L593.0 639.7 L594.1 639.7 L595.2 639.7 L596.3 639.7 L597.4 639.6 L598.5 639.6 L599.6 639.6 L600.7 639.6 L601.8 639.6 L602.9 639.6 L604.0 639.6 L605.1 639.5 L606.2 639.5 L607.3 639.5 L608.4 639.5 L609.5 639.5 L610.6 639.5 L611.7 639.5 L612.9 639.4 L614.0 639.4 L615.1 639.4 L616.2 639.4 L617.3 639.4 L618.4 639.4 L619.6 639.4 L620.7 639.4 L621.8 639.3 L622.9 639.3 L624.1 639.3 L625.2 639.3 L626.3 639.3 L627.4 639.3 L628.6 639.3 L629.7 639.3 L630.8 639.3 L632.0 639.2 L633.1 639.2 L634.2 639.2 L635.4 639.2 L636.5 639.2 L637.6 639.2 L638.8 639.2 L639.9 639.2 L641.1 639.2 L642.2 639.2 L643.3 639.2 L644.5 639.2 L645.6 639.1 L646.8 639.1 L647.9 639.1 L649.1 639.1 L650.2 639.1 L651.3 639.1 L652.5 639.1 L653.6 639.1 L654.8 639.1 L655.9 639.1 L657.1 639.1 L658.2 639.1 L659.4 639.1 L660.5 639.1 L661.7 639.1 L662.8 639.1 L664.0 639.1 L665.1 639.1 L666.3 639.1 L667.4 639.1 L668.6 639.1 L669.7 639.1 L670.9 639.1 L672.0 639.1 L673.2 639.0 L674.3 639.0 L675.5 639.0 L676.6 639.0 L677.8 639.0 L678.9 639.0 L680.1 639.0 L681.2 639.0 L682.4 639.0 L683.5 639.0 L684.7 639.0 L685.9 639.0 L687.0 639.0 L688.2 639.1 L689.3 639.1 L690.5 639.1 L691.6 639.1 L692.8 639.1 L693.9 639.1 L695.1 639.1 L696.2 639.1 L697.4 639.1 L698.5 639.1 L699.7 639.1 L700.8 639.1 L702.0 639.1 L703.1 639.1 L704.3 639.1 L705.4 639.1 L706.5 639.1 L707.7 639.1 L708.8 639.1 L710.0 639.1 L711.1 639.1 L712.3 639.1 L713.4 639.1 L714.6 639.1 L715.7 639.2 L716.8 639.2 L718.0 639.2 L719.1 639.2 L720.3 639.2 L721.4 639.2 L722.5 639.2 L723.7 639.2 L724.8 639.2 L725.9 639.2 L727.1 639.2 L728.2 639.2 L729.3 639.3 L730.5 639.3 L731.6 639.3 L732.7 639.3 L733.9 639.3 L735.0 639.3 L736.1 639.3 L737.2 639.3 L738.4 639.3 L739.5 639.4 L740.6 639.4 L741.7 639.4 L742.9 639.4 L744.0 639.4 L745.1 639.4 L746.2 639.4 L747.3 639.4 L748.4 639.5 L749.5 639.5 L750.7 639.5 L751.8 639.5 L752.9 639.5 L754.0 639.5 L755.1 639.5 L756.2 639.6 L757.3 639.6 L758.4 639.6 L759.5 639.6 L760.6 639.6 L761.7 639.6 L762.8 639.6 L763.9 639.7 L765.0 639.7 L766.1 639.7 L767.1 639.7 L768.2 639.7 L769.3 639.7 L770.4 639.8 L771.5 639.8 L772.6 639.8 L773.6 639.8 L774.7 639.8 L775.8 639.9 L776.9 639.9 L777.9 639.9 L779.0 639.9 L780.1 639.9 L781.1 640.0 L782.2 640.0 L783.3 640.0 L784.3 640.0 L785.4 640.0 L786.4 640.1 L787.5 640.1 L788.5 640.1 L789.6 640.1 L790.6 640.1 L791.7 640.2 L792.7 640.2 L793.8 640.2 L794.8 640.2 L795.8 640.3 L796.9 640.3 L797.9 640.3 L798.9 640.3 L800.0 640.4 L801.0 640.4 L802.0 640.4 L803.0 640.4 L804.1 640.4 L805.1 640.5 L806.1 640.5 L807.1 640.5 L808.1 640.5 L809.1 640.6 L810.1 640.6 L811.1 640.6 L812.1 640.6 L813.1 640.7 L814.1 640.7 L815.1 640.7 L816.1 640.8 L817.1 640.8 L818.1 640.8 L819.0 640.8 L820.0 640.9 L821.0 640.9 L822.0 640.9 L822.9 640.9 L823.9 641.0 L824.9 641.0 L825.8 641.0 L826.8 641.1 L827.7 641.1 L828.7 641.1 L829.6 641.2 L830.6 641.2 L831.5 641.2 L832.5 641.2 L833.4 641.3 L834.4 641.3 L835.3 641.3 L836.2 641.4 L837.2 641.4 L838.1 641.4 L839.0 641.5 L839.9 641.5 L840.8 641.5 L841.7 641.6 L842.7 641.6 L843.6 641.6 L844.5 641.6 L845.4 641.7 L846.3 641.7 L847.2 641.7 L848.0 641.8 L848.9 641.8 L849.8 641.8 L850.7 641.9 L851.6 641.9 L852.5 641.9 L853.3 642.0 L854.2 642.0 L855.1 642.1 L855.9 642.1 L856.8 642.1 L857.6 642.2 L858.5 642.2 L859.3 642.2 L860.2 642.3 L861.0 642.3 L861.8 642.3 L862.7 642.4 L863.5 642.4 L864.3 642.4 L865.2 642.5 L866.0 642.5 L866.8 642.6 L867.6 642.6 L868.4 642.6 L869.2 642.7 L870.0 642.7 L870.8 642.7 L871.6 642.8 L872.4 642.8 L873.2 642.9 L874.0 642.9 L874.8 642.9 L875.5 643.0 L876.3 643.0 L877.1 643.0 L877.9 643.1 L878.6 643.1 L879.4 643.2 L880.1 643.2 L880.9 643.2 L881.6 643.3 L882.4 643.3 L883.1 643.4 L883.8 643.4 L884.6 643.4 L885.3 643.5 L886.0 643.5 L886.7 643.6 L887.5 643.6 L888.2 643.6 L888.9 643.7 L889.6 643.7 L890.3 643.8 L891.0 643.8 L891.7 643.9 L892.3 643.9 L893.0 643.9 L893.7 644.0 L894.4 644.0 L895.1 644.1 L895.7 644.1 L896.4 644.2 L897.0 644.2 L897.7 644.2 L898.4 644.3 L899.0 644.3 L899.6 644.4 L900.3 644.4 L900.9 644.5 L901.5 644.5 L902.2 644.5 L902.8 644.6 L903.4 644.6 L904.0 644.7 L904.6 644.7 L905.2 644.8 L905.8 644.8 L906.4 644.9 L907.0 644.9 L907.6 644.9 L908.2 645.0 L908.8 645.0 L909.3 645.1 L909.9 645.1 L910.5 645.2 L911.0 645.2 L911.6 645.3 L912.1 645.3 L912.7 645.4 L913.2 645.4 L913.8 645.4 L914.3 645.5 L914.8 645.5 L915.4 645.6 L915.9 645.6 L916.4 645.7 L916.9 645.7 L917.4 645.8 L917.9 645.8 L918.4 645.9 L918.9 645.9 L919.4 646.0 L919.9 646.0 L920.4 646.1 L920.8 646.1 L921.3 646.2 L921.8 646.2 L922.2 646.2 L922.7 646.3 L923.1 646.3 L923.6 646.4 L924.0 646.4 L924.5 646.5 L924.9 646.5 L925.3 646.6 L925.8 646.6 L926.2 646.7 L926.6 646.7 L927.0 646.8 L927.4 646.8 L927.8 646.9 L928.2 646.9 L928.6 647.0 L929.0 647.0 L929.4 647.1 L929.8 647.1 L930.1 647.2 L930.5 647.2 L930.9 647.3 L931.2 647.3 L931.6 647.4 L931.9 647.4 L932.3 647.5 L932.6 647.5 L932.9 647.6 L933.3 647.6 L933.6 647.7 L933.9 647.7 L934.2 647.8 L934.5 647.8 L934.8 647.9 L935.1 647.9 L935.4 648.0 L935.7 648.0 L936.0 648.1 L936.3 648.1 L936.6 648.2 L936.8 648.2 L937.1 648.3 L937.4 648.3 L937.6 648.4 L937.9 648.4 L938.1 648.5 L938.4 648.5 L938.6 648.6 L938.8 648.6 L939.1 648.7 L939.3 648.7 L939.5 648.8 L939.7 648.8 L939.9 648.9 L940.1 648.9 L940.3 649.0 L940.5 649.0 L940.7 649.1 L940.9 649.1 L941.1 649.2 L941.2 649.3 L941.4 649.3 L941.6 649.4 L941.7 649.4 L941.9 649.5 L942.0 649.5 L942.2 649.6 L942.3 649.6 L942.4 649.7 L942.6 649.7 L942.7 649.8 L942.8 649.8 L942.9 649.9 L943.0 649.9 L943.1 650.0 L943.2 650.0 L943.3 650.1 L943.4 650.1 L943.5 650.2 L943.6 650.2 L943.6 650.3 L943.7 650.3 L943.8 650.4 L943.8 650.4 L943.9 650.5 L943.9 650.6 L944.0 650.6 L944.0 650.7 L944.0 650.7 L944.1 650.8 L944.1 650.8 L944.1 650.9 L944.1 650.9 L944.1 651.0 L944.1 651.0 L944.1 651.1 L944.1 651.1 L944.1 651.2 L944.1 651.2 L944.1 651.3 L944.0 651.3 L944.0 651.4 L944.0 651.4 L943.9 651.5 L943.9 651.5 L943.8 651.6 L943.8 651.6 L943.7 651.7 L943.6 651.8 L943.6 651.8 L943.5 651.9 L943.4 651.9 L943.3 652.0 L943.2 652.0 L943.1 652.1 L943.0 652.1 L942.9 652.2 L942.8 652.2 L942.7 652.3 L942.6 652.3 L942.4 652.4 L942.3 652.4 L942.2 652.5 L942.0 652.5 L941.9 652.6 L941.7 652.6 L941.6 652.7"/>
<path d="M292.2 601.5 L292.1 601.4 L292.0 601.3 L291.8 601.2 L291.7 601.2 L291.6 601.1 L291.5 601.0 L291.4 600.9 L291.3 600.9 L291.2 600.8 L291.1 600.7 L291.1 600.6 L291.0 600.6 L290.9 600.5 L290.9 600.4 L290.9 600.3 L290.8 600.2 L290.8 600.2 L290.8 600.1 L290.8 600.0 L290.8 599.9 L290.8 599.9 L290.8 599.8 L290.8 599.7 L290.8 599.6 L290.9 599.6 L290.9 599.5 L290.9 599.4 L291.0 599.3 L291.1 599.2 L291.1 599.2 L291.2 599.1 L291.3 599.0 L291.4 598.9 L291.5 598.9 L291.6 598.8 L291.7 598.7 L291.8 598.6 L292.0 598.6 L292.1 598.5 L292.2 598.4 L292.4 598.3 L292.6 598.2 L292.7 598.2 L292.9 598.1 L293.1 598.0 L293.3 597.9 L293.5 597.9 L293.7 597.8 L293.9 597.7 L294.1 597.6 L294.3 597.6 L294.6 597.5 L294.8 597.4 L295.0 597.3 L295.3 597.3 L295.6 597.2 L295.8 597.1 L296.1 597.0 L296.4 596.9 L296.7 596.9 L297.0 596.8 L297.3 596.7 L297.6 596.6 L297.9 596.6 L298.2 596.5 L298.6 596.4 L298.9 596.3 L299.3 596.3 L299.6 596.2 L300.0 596.1 L300.4 596.0 L300.7 596.0 L301.1 595.9 L301.5 595.8 L301.9 595.7 L302.3 595.7 L302.7 595.6 L303.2 595.5 L303.6 595.4 L304.0 595.4 L304.5 595.3 L304.9 595.2 L305.4 595.1 L305.8 595.1 L306.3 595.0 L306.8 594.9 L307.3 594.9 L307.8 594.8 L308.3 594.7 L308.8 594.6 L309.3 594.6 L309.8 594.5 L310.3 594.4 L310.9 594.3 L311.4 594.3 L312.0 594.2 L312.5 594.1 L313.1 594.0 L313.7 594.0 L314.2 593.9 L314.8 593.8 L315.4 593.8 L316.0 593.7 L316.6 593.6 L317.2 593.5 L317.9 593.5 L318.5 593.4 L319.1 593.3 L319.8 593.3 L320.4 593.2 L321.1 593.1 L321.7 593.0 L322.4 593.0 L323.1 592.9 L323.7 592.8 L324.4 592.8 L325.1 592.7 L325.8 592.6 L326.5 592.5 L327.2 592.5 L328.0 592.4 L328.7 592.3 L329.4 592.3 L330.2 592.2 L330.9 592.1 L331.7 592.1 L332.4 592.0 L333.2 591.9 L334.0 591.9 L334.8 591.8 L335.5 591.7 L336.3 591.6 L337.1 591.6 L337.9 591.5 L338.8 591.4 L339.6 591.4 L340.4 591.3 L341.2 591.2 L342.1 591.2 L342.9 591.1 L343.8 591.0 L344.6 591.0 L345.5 590.9 L346.4 590.8 L347.2 590.8 L348.1 590.7 L349.0 590.6 L349.9 590.6 L350.8 590.5 L351.7 590.5 L352.7 590.4 L353.6 590.3 L354.5 590.3 L355.4 590.2 L356.4 590.1 L357.3 590.1 L358.3 590.0 L359.2 589.9 L360.2 589.9 L361.2 589.8 L362.1 589.7 L363.1 589.7 L364.1 589.6 L365.1 589.6 L366.1 589.5 L367.1 589.4 L368.1 589.4 L369.2 589.3 L370.2 589.3 L371.2 589.2 L372.3 589.1 L373.3 589.1 L374.3 589.0 L375.4 588.9 L376.5 588.9 L377.5 588.8 L378.6 588.8 L379.7 588.7 L380.8 588.6 L381.8 588.6 L382.9 588.5 L384.0 588.5 L385.1 588.4 L386.3 588.4 L387.4 588.3 L388.5 588.2 L389.6 588.2 L390.8 588.1 L391.9 588.1 L393.0 588.0 L394.2 588.0 L395.4 587.9 L396.5 587.8 L397.7 587.8 L398.9 587.7 L400.0 587.7 L401.2 587.6 L402.4 587.6 L403.6 587.5 L404.8 587.5 L406.0 587.4 L407.2 587.3 L408.4 587.3 L409.6 587.2 L410.9 587.2 L412.1 587.1 L413.3 587.1 L414.6 587.0 L415.8 587.0 L417.1 586.9 L418.3 586.9 L419.6 586.8 L420.8 586.8 L422.1 586.7 L423.4 586.7 L424.7 586.6 L426.0 586.6 L427.2 586.5 L428.5 586.5 L429.8 586.4 L431.1 586.4 L432.4 586.3 L433.8 586.3 L435.1 586.2 L436.4 586.2 L437.7 586.1 L439.1 586.1 L440.4 586.0 L441.7 586.0 L443.1 585.9 L444.4 585.9 L445.8 585.8 L447.1 585.8 L448.5 585.7 L449.9 585.7 L451.2 585.7 L452.6 585.6 L454.0 585.6 L455.4 585.5 L456.8 585.5 L458.2 585.4 L459.6 585.4 L461.0 585.3 L462.4 585.3 L463.8 585.3 L465.2 585.2 L466.6 585.2 L468.0 585.1 L469.5 585.1 L470.9 585.0 L472.3 585.0 L473.8 585.0 L475.2 584.9 L476.7 584.9 L478.1 584.8 L479.6 584.8 L481.0 584.8 L482.5 584.7 L484.0 584.7 L485.4 584.6 L486.9 584.6 L488.4 584.6 L489.9 584.5 L491.3 584.5 L492.8 584.5 L494.3 584.4 L495.8 584.4 L497.3 584.3 L498.8 584.3 L500.3 584.3 L501.8 584.2 L503.3 584.2 L504.9 584.2 L506.4 584.1 L507.9 584.1 L509.4 584.1 L510.9 584.0 L512.5 584.0 L514.0 584.0 L515.6 583.9 L517.1 583.9 L518.6 583.9 L520.2 583.8 L521.7 583.8 L523.3 583.8 L524.8 583.7 L526.4 583.7 L528.0 583.7 L529.5 583.7 L531.1 583.6 L532.7 583.6 L534.2 583.6 L535.8 583.5 L537.4 583.5 L539.0 583.5 L540.6 583.5 L542.2 583.4 L543.7 583.4 L545.3 583.4 L546.9 583.3 L548.5 583.3 L550.1 583.3 L551.7 583.3 L553.3 583.2 L554.9 583.2 L556.6 583.2 L558.2 583.2 L559.8 583.1 L561.4 583.1 L563.0 583.1 L564.6 583.1 L566.3 583.1 L567.9 583.0 L569.5 583.0 L571.1 583.0 L572.8 583.0 L574.4 582.9 L576.0 582.9 L577.7 582.9 L579.3 582.9 L581.0 582.9 L582.6 582.8 L584.3 582.8 L585.9 582.8 L587.6 582.8 L589.2 582.8 L590.9 582.7 L592.5 582.7 L594.2 582.7 L595.8 582.7 L597.5 582.7 L599.1 582.7 L600.8 582.6 L602.5 582.6 L604.1 582.6 L605.8 582.6 L607.5 582.6 L609.1 582.6 L610.8 582.6 L612.5 582.5 L614.2 582.5 L615.8 582.5 L617.5 582.5 L619.2 582.5 L620.9 582.5 L622.5 582.5 L624.2 582.5 L625.9 582.5 L627.6 582.4 L629.3 582.4 L631.0 582.4 L632.6 582.4 L634.3 582.4 L636.0 582.4 L637.7 582.4 L639.4 582.4 L641.1 582.4 L642.8 582.4 L644.5 582.4 L646.2 582.3 L647.9 582.3 L649.5 582.3 L651.2 582.3 L652.9 582.3 L654.6 582.3 L656.3 582.3 L658.0 582.3 L659.7 582.3 L661.4 582.3 L663.1 582.3 L664.8 582.3 L666.5 582.3 L668.2 582.3 L669.9 582.3 L671.6 582.3 L673.3 582.3 L675.0 582.3 L676.7 582.3 L678.4 582.3 L680.1 582.3 L681.8 582.3 L683.5 582.3 L685.2 582.3 L686.9 582.3 L688.6 582.3 L690.3 582.3 L692.0 582.3 L693.7 582.3 L695.4 582.3 L697.1 582.3 L698.8 582.3 L700.5 582.3 L702.2 582.3 L703.9 582.3 L705.6 582.3 L707.2 582.3 L708.9 582.3 L710.6 582.3 L712.3 582.3 L714.0 582.3 L715.7 582.4 L717.4 582.4 L719.1 582.4 L720.8 582.4 L722.5 582.4 L724.2 582.4 L725.9 582.4 L727.5 582.4 L729.2 582.4 L730.9 582.4 L732.6 582.4 L734.3 582.5 L736.0 582.5 L737.6 582.5 L739.3 582.5 L741.0 582.5 L742.7 582.5 L744.3 582.5 L746.0 582.5 L747.7 582.5 L749.4 582.6 L751.0 582.6 L752.7 582.6 L754.4 582.6 L756.0 582.6 L757.7 582.6 L759.4 582.6 L761.0 582.7 L762.7 582.7 L764.4 582.7 L766.0 582.7 L767.7 582.7 L769.3 582.7 L771.0 582.8 L772.6 582.8 L774.3 582.8 L775.9 582.8 L777.6 582.8 L779.2 582.9 L780.9 582.9 L782.5 582.9 L784.1 582.9 L785.8 582.9 L787.4 583.0 L789.0 583.0 L790.7 583.0 L792.3 583.0 L793.9 583.1 L795.5 583.1 L797.2 583.1 L798.8 583.1 L800.4 583.1 L802.0 583.2 L803.6 583.2 L805.2 583.2 L806.8 583.2 L808.4 583.3 L810.1 583.3 L811.7 583.3 L813.2 583.3 L814.8 583.4 L816.4 583.4 L818.0 583.4 L819.6 583.5 L821.2 583.5 L822.8 583.5 L824.4 583.5 L825.9 583.6 L827.5 583.6 L829.1 583.6 L830.6 583.7 L832.2 583.7 L833.8 583.7 L835.3 583.7 L836.9 583.8 L838.4 583.8 L840.0 583.8 L841.5 583.9 L843.1 583.9 L844.6 583.9 L846.2 584.0 L847.7 584.0 L849.2 584.0 L850.8 584.1 L852.3 584.1 L853.8 584.1 L855.3 584.2 L856.8 584.2 L858.4 584.2 L859.9 584.3 L861.4 584.3 L862.9 584.3 L864.4 584.4 L865.9 584.4 L867.4 584.5 L868.8 584.5 L870.3 584.5 L871.8 584.6 L873.3 584.6 L874.8 584.6 L876.2 584.7 L877.7 584.7 L879.2 584.8 L880.6 584.8 L882.1 584.8 L883.5 584.9 L885.0 584.9 L886.4 585.0 L887.8 585.0 L889.3 585.0 L890.7 585.1 L892.1 585.1 L893.6 585.2 L895.0 585.2 L896.4 585.3 L897.8 585.3 L899.2 585.3 L900.6 585.4 L902.0 585.4 L903.4 585.5 L904.8 585.5 L906.2 585.6 L907.6 585.6 L908.9 585.7 L910.3 585.7 L911.7 585.7 L913.0 585.8 L914.4 585.8 L915.7 585.9 L917.1 585.9 L918.4 586.0 L919.8 586.0 L921.1 586.1 L922.5 586.1 L923.8 586.2 L925.1 586.2 L926.4 586.3 L927.7 586.3 L929.0 586.4 L930.3 586.4 L931.6 586.5 L932.9 586.5 L934.2 586.6 L935.5 586.6 L936.8 586.7 L938.1 586.7 L939.3 586.8 L940.6 586.8 L941.9 586.9 L943.1 586.9 L944.4 587.0 L945.6 587.0 L946.9 587.1 L948.1 587.1 L949.3 587.2 L950.5 587.2 L951.8 587.3 L953.0 587.3 L954.2 587.4 L955.4 587.5 L956.6 587.5 L957.8 587.6 L959.0 587.6 L960.1 587.7 L961.3 587.7 L962.5 587.8 L963.7 587.8 L964.8 587.9 L966.0 588.0 L967.1 588.0 L968.3 588.1 L969.4 588.1 L970.6 588.2 L971.7 588.2 L972.8 588.3 L973.9 588.4 L975.0 588.4 L976.1 588.5 L977.2 588.5 L978.3 588.6 L979.4 588.6 L980.5 588.7 L981.6 588.8 L982.7 588.8 L983.7 588.9 L984.8 588.9 L985.8 589.0 L986.9 589.1 L987.9 589.1 L989.0 589.2 L990.0 589.3 L991.0 589.3 L992.0 589.4 L993.1 589.4 L994.1 589.5 L995.1 589.6 L996.1 589.6 L997.0 589.7 L998.0 589.7 L999.0 589.8 L1000.0 589.9 L1000.9 589.9 L1001.9 590.0 L1002.9 590.1 L1003.8 590.1 L1004.7 590.2 L1005.7 590.3 L1006.6 590.3 L1007.5 590.4 L1008.4 590.5 L1009.4 590.5 L1010.3 590.6 L1011.2 590.6 L1012.0 590.7 L1012.9 590.8 L1013.8 590.8 L1014.7 590.9 L1015.5 591.0 L1016.4 591.0 L1017.3 591.1 L1018.1 591.2 L1018.9 591.2 L1019.8 591.3 L1020.6 591.4 L1021.4 591.4 L1022.2 591.5 L1023.0 591.6 L1023.8 591.6 L1024.6 591.7 L1025.4 591.8 L1026.2 591.9 L1027.0 591.9 L1027.8 592.0 L1028.5 592.1 L1029.3 592.1 L1030.0 592.2 L1030.8 592.3 L1031.5 592.3 L1032.2 592.4 L1032.9 592.5 L1033.7 592.5 L1034.4 592.6 L1035.1 592.7 L1035.8 592.8 L1036.4 592.8 L1037.1 592.9 L1037.8 593.0 L1038.5 593.0 L1039.1 593.1 L1039.8 593.2 L1040.4 593.3 L1041.1 593.3 L1041.7 593.4 L1042.3 593.5 L1042.9 593.5 L1043.6 593.6 L1044.2 593.7 L1044.8 593.8 L1045.4 593.8 L1045.9 593.9 L1046.5 594.0 L1047.1 594.0 L1047.6 594.1 L1048.2 594.2 L1048.8 594.3 L1049.3 594.3 L1049.8 594.4 L1050.4 594.5 L1050.9 594.6 L1051.4 594.6 L1051.9 594.7 L1052.4 594.8 L1052.9 594.9 L1053.4 594.9 L1053.9 595.0 L1054.3 595.1 L1054.8 595.1 L1055.3 595.2 L1055.7 595.3 L1056.2 595.4 L1056.6 595.4 L1057.0 595.5 L1057.4 595.6 L1057.9 595.7 L1058.3 595.7 L1058.7 595.8 L1059.1 595.9 L1059.4 596.0 L1059.8 596.0 L1060.2 596.1 L1060.6 596.2 L1060.9 596.3 L1061.3 596.3 L1061.6 596.4 L1061.9 596.5 L1062.3 596.6 L1062.6 596.6 L1062.9 596.7 L1063.2 596.8 L1063.5 596.9 L1063.8 596.9 L1064.1 597.0 L1064.4 597.1 L1064.6 597.2 L1064.9 597.3 L1065.1 597.3 L1065.4 597.4 L1065.6 597.5 L1065.9 597.6 L1066.1 597.6 L1066.3 597.7 L1066.5 597.8 L1066.7 597.9 L1066.9 597.9 L1067.1 598.0 L1067.3 598.1 L1067.5 598.2 L1067.6 598.2 L1067.8 598.3 L1067.9 598.4 L1068.1 598.5 L1068.2 598.6 L1068.3 598.6 L1068.5 598.7 L1068.6 598.8 L1068.7 598.9 L1068.8 598.9 L1068.9 599.0 L1069.0 599.1 L1069.0 599.2 L1069.1 599.2 L1069.2 599.3 L1069.2 599.4 L1069.3 599.5 L1069.3 599.6 L1069.4 599.6 L1069.4 599.7 L1069.4 599.8 L1069.4 599.9 L1069.4 599.9 L1069.4 600.0 L1069.4 600.1 L1069.4 600.2 L1069.4 600.2 L1069.3 600.3 L1069.3 600.4 L1069.2 600.5 L1069.2 600.6 L1069.1 600.6 L1069.0 600.7 L1069.0 600.8 L1068.9 600.9 L1068.8 600.9 L1068.7 601.0 L1068.6 601.1 L1068.5 601.2 L1068.3 601.2 L1068.2 601.3 L1068.1 601.4 L1067.9 601.5"/>
<path d="M175.1 530.0 L175.0 529.9 L174.9 529.8 L174.8 529.7 L174.7 529.6 L174.6 529.5 L174.5 529.4 L174.4 529.3 L174.4 529.2 L174.3 529.1 L174.3 529.0 L174.2 528.9 L174.2 528.8 L174.2 528.7 L174.2 528.6 L174.2 528.5 L174.2 528.4 L174.2 528.3 L174.3 528.2 L174.3 528.1 L174.4 528.0 L174.4 527.9 L174.5 527.8 L174.6 527.7 L174.7 527.6 L174.8 527.5 L174.9 527.4 L175.0 527.3 L175.1 527.2 L175.3 527.1 L175.4 527.0 L175.6 526.9 L175.8 526.8 L175.9 526.7 L176.1 526.6 L176.3 526.5 L176.5 526.4 L176.7 526.3 L177.0 526.2 L177.2 526.1 L177.5 526.0 L177.7 525.9 L178.0 525.8 L178.2 525.7 L178.5 525.6 L178.8 525.5 L179.1 525.4 L179.4 525.3 L179.8 525.2 L180.1 525.1 L180.4 525.0 L180.8 524.9 L181.1 524.8 L181.5 524.7 L181.9 524.6 L182.3 524.5 L182.7 524.4 L183.1 524.3 L183.5 524.2 L183.9 524.1 L184.4 524.0 L184.8 523.9 L185.3 523.8 L185.7 523.7 L186.2 523.6 L186.7 523.5 L187.2 523.4 L187.7 523.3 L188.2 523.2 L188.7 523.1 L189.2 523.0 L189.8 522.9 L190.3 522.8 L190.9 522.7 L191.4 522.6 L192.0 522.5 L192.6 522.4 L193.2 522.3 L193.8 522.2 L194.4 522.2 L195.0 522.1 L195.7 522.0 L196.3 521.9 L197.0 521.8 L197.6 521.7 L198.3 521.6 L199.0 521.5 L199.6 521.4 L200.3 521.3 L201.1 521.2 L201.8 521.1 L202.5 521.0 L203.2 520.9 L204.0 520.8 L204.7 520.7 L205.5 520.6 L206.2 520.5 L207.0 520.4 L207.8 520.3 L208.6 520.3 L209.4 520.2 L210.2 520.1 L211.0 520.0 L211.9 519.9 L212.7 519.8 L213.6 519.7 L214.4 519.6 L215.3 519.5 L216.2 519.4 L217.0 519.3 L217.9 519.2 L218.8 519.1 L219.8 519.1 L220.7 519.0 L221.6 518.9 L222.5 518.8 L223.5 518.7 L224.4 518.6 L225.4 518.5 L226.4 518.4 L227.4 518.3 L228.3 518.2 L229.3 518.2 L230.3 518.1 L231.4 518.0 L232.4 517.9 L233.4 517.8 L234.5 517.7 L235.5 517.6 L236.6 517.5 L237.6 517.4 L238.7 517.4 L239.8 517.3 L240.9 517.2 L242.0 517.1 L243.1 517.0 L244.2 516.9 L245.3 516.8 L246.5 516.8 L247.6 516.7 L248.8 516.6 L249.9 516.5 L251.1 516.4 L252.2 516.3 L253.4 516.2 L254.6 516.2 L255.8 516.1 L257.0 516.0 L258.2 515.9 L259.5 515.8 L260.7 515.7 L261.9 515.7 L263.2 515.6 L264.4 515.5 L265.7 515.4 L267.0 515.3 L268.2 515.2 L269.5 515.2 L270.8 515.1 L272.1 515.0 L273.4 514.9 L274.7 514.8 L276.1 514.8 L277.4 514.7 L278.7 514.6 L280.1 514.5 L281.4 514.4 L282.8 514.4 L284.2 514.3 L285.6 514.2 L286.9 514.1 L288.3 514.1 L289.7 514.0 L291.1 513.9 L292.6 513.8 L294.0 513.7 L295.4 513.7 L296.8 513.6 L298.3 513.5 L299.7 513.4 L301.2 513.4 L302.7 513.3 L304.1 513.2 L305.6 513.1 L307.1 513.1 L308.6 513.0 L310.1 512.9 L311.6 512.8 L313.1 512.8 L314.7 512.7 L316.2 512.6 L317.7 512.6 L319.3 512.5 L320.8 512.4 L322.4 512.3 L323.9 512.3 L325.5 512.2 L327.1 512.1 L328.7 512.1 L330.3 512.0 L331.9 511.9 L333.5 511.9 L335.1 511.8 L336.7 511.7 L338.3 511.7 L339.9 511.6 L341.6 511.5 L343.2 511.5 L344.9 511.4 L346.5 511.3 L348.2 511.3 L349.9 511.2 L351.5 511.1 L353.2 511.1 L354.9 511.0 L356.6 510.9 L358.3 510.9 L360.0 510.8 L361.7 510.7 L363.4 510.7 L365.2 510.6 L366.9 510.6 L368.6 510.5 L370.4 510.4 L372.1 510.4 L373.9 510.3 L375.6 510.2 L377.4 510.2 L379.2 510.1 L381.0 510.1 L382.7 510.0 L384.5 509.9 L386.3 509.9 L388.1 509.8 L389.9 509.8 L391.7 509.7 L393.6 509.7 L395.4 509.6 L397.2 509.5 L399.0 509.5 L400.9 509.4 L402.7 509.4 L404.6 509.3 L406.4 509.3 L408.3 509.2 L410.1 509.2 L412.0 509.1 L413.9 509.1 L415.8 509.0 L417.6 509.0 L419.5 508.9 L421.4 508.9 L423.3 508.8 L425.2 508.7 L427.1 508.7 L429.1 508.6 L431.0 508.6 L432.9 508.5 L434.8 508.5 L436.8 508.5 L438.7 508.4 L440.6 508.4 L442.6 508.3 L444.5 508.3 L446.5 508.2 L448.5 508.2 L450.4 508.1 L452.4 508.1 L454.4 508.0 L456.3 508.0 L458.3 507.9 L460.3 507.9 L462.3 507.9 L464.3 507.8 L466.3 507.8 L468.3 507.7 L470.3 507.7 L472.3 507.6 L474.3 507.6 L476.3 507.6 L478.4 507.5 L480.4 507.5 L482.4 507.4 L484.5 507.4 L486.5 507.4 L488.5 507.3 L490.6 507.3 L492.6 507.3 L494.7 507.2 L496.7 507.2 L498.8 507.1 L500.9 507.1 L502.9 507.1 L505.0 507.0 L507.1 507.0 L509.1 507.0 L511.2 506.9 L513.3 506.9 L515.4 506.9 L517.5 506.8 L519.6 506.8 L521.7 506.8 L523.8 506.7 L525.9 506.7 L528.0 506.7 L530.1 506.7 L532.2 506.6 L534.3 506.6 L536.4 506.6 L538.5 506.5 L540.6 506.5 L542.8 506.5 L544.9 506.5 L547.0 506.4 L549.2 506.4 L551.3 506.4 L553.4 506.4 L555.6 506.3 L557.7 506.3 L559.8 506.3 L562.0 506.3 L564.1 506.2 L566.3 506.2 L568.4 506.2 L570.6 506.2 L572.8 506.1 L574.9 506.1 L577.1 506.1 L579.2 506.1 L581.4 506.1 L583.6 506.0 L585.7 506.0 L587.9 506.0 L590.1 506.0 L592.2 506.0 L594.4 506.0 L596.6 505.9 L598.8 505.9 L601.0 505.9 L603.1 505.9 L605.3 505.9 L607.5 505.9 L609.7 505.8 L611.9 505.8 L614.1 505.8 L616.2 505.8 L618.4 505.8 L620.6 505.8 L622.8 505.8 L625.0 505.8 L627.2 505.7 L629.4 505.7 L631.6 505.7 L633.8 505.7 L636.0 505.7 L638.2 505.7 L640.4 505.7 L642.6 505.7 L644.8 505.7 L647.0 505.7 L649.2 505.7 L651.4 505.7 L653.6 505.7 L655.8 505.7 L658.0 505.6 L660.2 505.6 L662.4 505.6 L664.6 505.6 L666.8 505.6 L669.1 505.6 L671.3 505.6 L673.5 505.6 L675.7 505.6 L677.9 505.6 L680.1 505.6 L682.3 505.6 L684.5 505.6 L686.7 505.6 L688.9 505.6 L691.1 505.6 L693.3 505.6 L695.5 505.6 L697.7 505.6 L700.0 505.6 L702.2 505.6 L704.4 505.7 L706.6 505.7 L708.8 505.7 L711.0 505.7 L713.2 505.7 L715.4 505.7 L717.6 505.7 L719.8 505.7 L722.0 505.7 L724.2 505.7 L726.4 505.7 L728.6 505.7 L730.8 505.7 L733.0 505.7 L735.2 505.8 L737.4 505.8 L739.6 505.8 L741.7 505.8 L743.9 505.8 L746.1 505.8 L748.3 505.8 L750.5 505.8 L752.7 505.9 L754.9 505.9 L757.0 505.9 L759.2 505.9 L761.4 505.9 L763.6 505.9 L765.8 506.0 L767.9 506.0 L770.1 506.0 L772.3 506.0 L774.5 506.0 L776.6 506.0 L778.8 506.1 L780.9 506.1 L783.1 506.1 L785.3 506.1 L787.4 506.1 L789.6 506.2 L791.7 506.2 L793.9 506.2 L796.0 506.2 L798.2 506.3 L800.3 506.3 L802.5 506.3 L804.6 506.3 L806.8 506.4 L808.9 506.4 L811.0 506.4 L813.2 506.4 L815.3 506.5 L817.4 506.5 L819.5 506.5 L821.7 506.5 L823.8 506.6 L825.9 506.6 L828.0 506.6 L830.1 506.7 L832.2 506.7 L834.3 506.7 L836.4 506.7 L838.5 506.8 L840.6 506.8 L842.7 506.8 L844.8 506.9 L846.9 506.9 L849.0 506.9 L851.0 507.0 L853.1 507.0 L855.2 507.0 L857.3 507.1 L859.3 507.1 L861.4 507.1 L863.4 507.2 L865.5 507.2 L867.6 507.3 L869.6 507.3 L871.6 507.3 L873.7 507.4 L875.7 507.4 L877.8 507.4 L879.8 507.5 L881.8 507.5 L883.8 507.6 L885.9 507.6 L887.9 507.6 L889.9 507.7 L891.9 507.7 L893.9 507.8 L895.9 507.8 L897.9 507.9 L899.9 507.9 L901.9 507.9 L903.8 508.0 L905.8 508.0 L907.8 508.1 L909.8 508.1 L911.7 508.2 L913.7 508.2 L915.6 508.3 L917.6 508.3 L919.5 508.4 L921.5 508.4 L923.4 508.5 L925.3 508.5 L927.3 508.5 L929.2 508.6 L931.1 508.6 L933.0 508.7 L934.9 508.7 L936.8 508.8 L938.7 508.9 L940.6 508.9 L942.5 509.0 L944.4 509.0 L946.3 509.1 L948.2 509.1 L950.0 509.2 L951.9 509.2 L953.8 509.3 L955.6 509.3 L957.5 509.4 L959.3 509.4 L961.1 509.5 L963.0 509.5 L964.8 509.6 L966.6 509.7 L968.4 509.7 L970.3 509.8 L972.1 509.8 L973.9 509.9 L975.7 509.9 L977.4 510.0 L979.2 510.1 L981.0 510.1 L982.8 510.2 L984.5 510.2 L986.3 510.3 L988.1 510.4 L989.8 510.4 L991.5 510.5 L993.3 510.6 L995.0 510.6 L996.7 510.7 L998.5 510.7 L1000.2 510.8 L1001.9 510.9 L1003.6 510.9 L1005.3 511.0 L1007.0 511.1 L1008.6 511.1 L1010.3 511.2 L1012.0 511.3 L1013.6 511.3 L1015.3 511.4 L1017.0 511.5 L1018.6 511.5 L1020.2 511.6 L1021.9 511.7 L1023.5 511.7 L1025.1 511.8 L1026.7 511.9 L1028.3 511.9 L1029.9 512.0 L1031.5 512.1 L1033.1 512.1 L1034.7 512.2 L1036.2 512.3 L1037.8 512.3 L1039.4 512.4 L1040.9 512.5 L1042.5 512.6 L1044.0 512.6 L1045.5 512.7 L1047.0 512.8 L1048.6 512.8 L1050.1 512.9 L1051.6 513.0 L1053.1 513.1 L1054.6 513.1 L1056.0 513.2 L1057.5 513.3 L1059.0 513.4 L1060.4 513.4 L1061.9 513.5 L1063.3 513.6 L1064.8 513.7 L1066.2 513.7 L1067.6 513.8 L1069.0 513.9 L1070.4 514.0 L1071.8 514.1 L1073.2 514.1 L1074.6 514.2 L1076.0 514.3 L1077.4 514.4 L1078.7 514.4 L1080.1 514.5 L1081.4 514.6 L1082.8 514.7 L1084.1 514.8 L1085.4 514.8 L1086.8 514.9 L1088.1 515.0 L1089.4 515.1 L1090.7 515.2 L1091.9 515.2 L1093.2 515.3 L1094.5 515.4 L1095.8 515.5 L1097.0 515.6 L1098.3 515.7 L1099.5 515.7 L1100.7 515.8 L1101.9 515.9 L1103.2 516.0 L1104.4 516.1 L1105.6 516.2 L1106.8 516.2 L1107.9 516.3 L1109.1 516.4 L1110.3 516.5 L1111.4 516.6 L1112.6 516.7 L1113.7 516.8 L1114.9 516.8 L1116.0 516.9 L1117.1 517.0 L1118.2 517.1 L1119.3 517.2 L1120.4 517.3 L1121.5 517.4 L1122.5 517.4 L1123.6 517.5 L1124.7 517.6 L1125.7 517.7 L1126.8 517.8 L1127.8 517.9 L1128.8 518.0 L1129.8 518.1 L1130.8 518.2 L1131.8 518.2 L1132.8 518.3 L1133.8 518.4 L1134.8 518.5 L1135.7 518.6 L1136.7 518.7 L1137.6 518.8 L1138.6 518.9 L1139.5 519.0 L1140.4 519.1 L1141.3 519.1 L1142.2 519.2 L1143.1 519.3 L1144.0 519.4 L1144.9 519.5 L1145.8 519.6 L1146.6 519.7 L1147.5 519.8 L1148.3 519.9 L1149.1 520.0 L1150.0 520.1 L1150.8 520.2 L1151.6 520.3 L1152.4 520.3 L1153.2 520.4 L1153.9 520.5 L1154.7 520.6 L1155.5 520.7 L1156.2 520.8 L1157.0 520.9 L1157.7 521.0 L1158.4 521.1 L1159.1 521.2 L1159.8 521.3 L1160.5 521.4 L1161.2 521.5 L1161.9 521.6 L1162.6 521.7 L1163.2 521.8 L1163.9 521.9 L1164.5 522.0 L1165.1 522.1 L1165.8 522.2 L1166.4 522.2 L1167.0 522.3 L1167.6 522.4 L1168.2 522.5 L1168.7 522.6 L1169.3 522.7 L1169.9 522.8 L1170.4 522.9 L1171.0 523.0 L1171.5 523.1 L1172.0 523.2 L1172.5 523.3 L1173.0 523.4 L1173.5 523.5 L1174.0 523.6 L1174.5 523.7 L1174.9 523.8 L1175.4 523.9 L1175.8 524.0 L1176.3 524.1 L1176.7 524.2 L1177.1 524.3 L1177.5 524.4 L1177.9 524.5 L1178.3 524.6 L1178.7 524.7 L1179.0 524.8 L1179.4 524.9 L1179.7 525.0 L1180.1 525.1 L1180.4 525.2 L1180.7 525.3 L1181.1 525.4 L1181.4 525.5 L1181.6 525.6 L1181.9 525.7 L1182.2 525.8 L1182.5 525.9 L1182.7 526.0 L1183.0 526.1 L1183.2 526.2 L1183.4 526.3 L1183.6 526.4 L1183.9 526.5 L1184.1 526.6 L1184.2 526.7 L1184.4 526.8 L1184.6 526.9 L1184.7 527.0 L1184.9 527.1 L1185.0 527.2 L1185.2 527.3 L1185.3 527.4 L1185.4 527.5 L1185.5 527.6 L1185.6 527.7 L1185.7 527.8 L1185.7 527.9 L1185.8 528.0 L1185.9 528.1 L1185.9 528.2 L1185.9 528.3 L1186.0 528.4 L1186.0 528.5 L1186.0 528.6 L1186.0 528.7 L1186.0 528.8 L1185.9 528.9 L1185.9 529.0 L1185.9 529.1 L1185.8 529.2 L1185.7 529.3 L1185.7 529.4 L1185.6 529.5 L1185.5 529.6 L1185.4 529.7 L1185.3 529.8 L1185.2 529.9 L1185.0 530.0"/>
<path d="M78.1 433.1 L78.5 433.0 L79.0 432.9 L79.4 432.8 L79.9 432.7 L80.4 432.5 L80.8 432.4 L81.4 432.3 L81.9 432.2 L82.4 432.1 L82.9 431.9 L83.5 431.8 L84.0 431.7 L84.6 431.6 L85.2 431.5 L85.8 431.4 L86.4 431.2 L87.0 431.1 L87.6 431.0 L88.3 430.9 L88.9 430.8 L89.6 430.7 L90.2 430.5 L90.9 430.4 L91.6 430.3 L92.3 430.2 L93.0 430.1 L93.8 430.0 L94.5 429.8 L95.3 429.7 L96.0 429.6 L96.8 429.5 L97.6 429.4 L98.4 429.3 L99.2 429.1 L100.0 429.0 L100.8 428.9 L101.7 428.8 L102.5 428.7 L103.4 428.6 L104.2 428.5 L105.1 428.3 L106.0 428.2 L106.9 428.1 L107.8 428.0 L108.8 427.9 L109.7 427.8 L110.7 427.7 L111.6 427.5 L112.6 427.4 L113.6 427.3 L114.6 427.2 L115.6 427.1 L116.6 427.0 L117.6 426.9 L118.6 426.8 L119.7 426.7 L120.7 426.5 L121.8 426.4 L122.9 426.3 L124.0 426.2 L125.1 426.1 L126.2 426.0 L127.3 425.9 L128.4 425.8 L129.6 425.7 L130.7 425.6 L131.9 425.4 L133.0 425.3 L134.2 425.2 L135.4 425.1 L136.6 425.0 L137.8 424.9 L139.1 424.8 L140.3 424.7 L141.5 424.6 L142.8 424.5 L144.1 424.4 L145.3 424.3 L146.6 424.2 L147.9 424.1 L149.2 424.0 L150.5 423.8 L151.9 423.7 L153.2 423.6 L154.5 423.5 L155.9 423.4 L157.3 423.3 L158.6 423.2 L160.0 423.1 L161.4 423.0 L162.8 422.9 L164.2 422.8 L165.7 422.7 L167.1 422.6 L168.5 422.5 L170.0 422.4 L171.5 422.3 L172.9 422.2 L174.4 422.1 L175.9 422.0 L177.4 421.9 L178.9 421.8 L180.5 421.7 L182.0 421.6 L183.5 421.5 L185.1 421.4 L186.6 421.3 L188.2 421.2 L189.8 421.1 L191.4 421.0 L193.0 420.9 L194.6 420.8 L196.2 420.7 L197.8 420.6 L199.4 420.5 L201.1 420.4 L202.7 420.4 L204.4 420.3 L206.1 420.2 L207.8 420.1 L209.4 420.0 L211.1 419.9 L212.8 419.8 L214.6 419.7 L216.3 419.6 L218.0 419.5 L219.8 419.4 L221.5 419.3 L223.3 419.2 L225.0 419.2 L226.8 419.1 L228.6 419.0 L230.4 418.9 L232.2 418.8 L234.0 418.7 L235.8 418.6 L237.7 418.5 L239.5 418.4 L241.3 418.4 L243.2 418.3 L245.0 418.2 L246.9 418.1 L248.8 418.0 L250.7 417.9 L252.6 417.8 L254.5 417.8 L256.4 417.7 L258.3 417.6 L260.2 417.5 L262.2 417.4 L264.1 417.3 L266.1 417.3 L268.0 417.2 L270.0 417.1 L272.0 417.0 L273.9 416.9 L275.9 416.9 L277.9 416.8 L279.9 416.7 L281.9 416.6 L284.0 416.5 L286.0 416.5 L288.0 416.4 L290.1 416.3 L292.1 416.2 L294.2 416.2 L296.2 416.1 L298.3 416.0 L300.4 415.9 L302.5 415.8 L304.6 415.8 L306.7 415.7 L308.8 415.6 L310.9 415.6 L313.0 415.5 L315.1 415.4 L317.3 415.3 L319.4 415.3 L321.6 415.2 L323.7 415.1 L325.9 415.1 L328.1 415.0 L330.2 414.9 L332.4 414.8 L334.6 414.8 L336.8 414.7 L339.0 414.6 L341.2 414.6 L343.4 414.5 L345.7 414.4 L347.9 414.4 L350.1 414.3 L352.4 414.2 L354.6 414.2 L356.9 414.1 L359.1 414.0 L361.4 414.0 L363.7 413.9 L365.9 413.9 L368.2 413.8 L370.5 413.7 L372.8 413.7 L375.1 413.6 L377.4 413.6 L379.7 413.5 L382.1 413.4 L384.4 413.4 L386.7 413.3 L389.0 413.3 L391.4 413.2 L393.7 413.1 L396.1 413.1 L398.4 413.0 L400.8 413.0 L403.2 412.9 L405.6 412.9 L407.9 412.8 L410.3 412.8 L412.7 412.7 L415.1 412.7 L417.5 412.6 L419.9 412.6 L422.3 412.5 L424.7 412.5 L427.1 412.4 L429.6 412.4 L432.0 412.3 L434.4 412.3 L436.9 412.2 L439.3 412.2 L441.8 412.1 L444.2 412.1 L446.7 412.0 L449.1 412.0 L451.6 411.9 L454.1 411.9 L456.5 411.8 L459.0 411.8 L461.5 411.7 L464.0 411.7 L466.5 411.7 L469.0 411.6 L471.5 411.6 L474.0 411.5 L476.5 411.5 L479.0 411.5 L481.5 411.4 L484.0 411.4 L486.6 411.3 L489.1 411.3 L491.6 411.3 L494.1 411.2 L496.7 411.2 L499.2 411.2 L501.8 411.1 L504.3 411.1 L506.9 411.0 L509.4 411.0 L512.0 411.0 L514.5 410.9 L517.1 410.9 L519.7 410.9 L522.2 410.9 L524.8 410.8 L527.4 410.8 L529.9 410.8 L532.5 410.7 L535.1 410.7 L537.7 410.7 L540.3 410.6 L542.9 410.6 L545.5 410.6 L548.1 410.6 L550.7 410.5 L553.3 410.5 L555.9 410.5 L558.5 410.5 L561.1 410.4 L563.7 410.4 L566.3 410.4 L568.9 410.4 L571.6 410.4 L574.2 410.3 L576.8 410.3 L579.4 410.3 L582.0 410.3 L584.7 410.2 L587.3 410.2 L589.9 410.2 L592.6 410.2 L595.2 410.2 L597.8 410.2 L600.5 410.1 L603.1 410.1 L605.8 410.1 L608.4 410.1 L611.0 410.1 L613.7 410.1 L616.3 410.1 L619.0 410.0 L621.6 410.0 L624.3 410.0 L626.9 410.0 L629.6 410.0 L632.2 410.0 L634.9 410.0 L637.5 410.0 L640.2 410.0 L642.9 410.0 L645.5 410.0 L648.2 409.9 L650.8 409.9 L653.5 409.9 L656.1 409.9 L658.8 409.9 L661.5 409.9 L664.1 409.9 L666.8 409.9 L669.4 409.9 L672.1 409.9 L674.8 409.9 L677.4 409.9 L680.1 409.9 L682.8 409.9 L685.4 409.9 L688.1 409.9 L690.7 409.9 L693.4 409.9 L696.1 409.9 L698.7 409.9 L701.4 409.9 L704.0 409.9 L706.7 409.9 L709.4 409.9 L712.0 409.9 L714.7 410.0 L717.3 410.0 L720.0 410.0 L722.6 410.0 L725.3 410.0 L727.9 410.0 L730.6 410.0 L733.3 410.0 L735.9 410.0 L738.6 410.0 L741.2 410.0 L743.8 410.1 L746.5 410.1 L749.1 410.1 L751.8 410.1 L754.4 410.1 L757.1 410.1 L759.7 410.1 L762.3 410.2 L765.0 410.2 L767.6 410.2 L770.2 410.2 L772.9 410.2 L775.5 410.2 L778.1 410.3 L780.8 410.3 L783.4 410.3 L786.0 410.3 L788.6 410.4 L791.2 410.4 L793.9 410.4 L796.5 410.4 L799.1 410.4 L801.7 410.5 L804.3 410.5 L806.9 410.5 L809.5 410.5 L812.1 410.6 L814.7 410.6 L817.3 410.6 L819.9 410.6 L822.5 410.7 L825.1 410.7 L827.6 410.7 L830.2 410.8 L832.8 410.8 L835.4 410.8 L838.0 410.9 L840.5 410.9 L843.1 410.9 L845.7 410.9 L848.2 411.0 L850.8 411.0 L853.3 411.0 L855.9 411.1 L858.4 411.1 L861.0 411.2 L863.5 411.2 L866.0 411.2 L868.6 411.3 L871.1 411.3 L873.6 411.3 L876.2 411.4 L878.7 411.4 L881.2 411.5 L883.7 411.5 L886.2 411.5 L888.7 411.6 L891.2 411.6 L893.7 411.7 L896.2 411.7 L898.7 411.7 L901.2 411.8 L903.6 411.8 L906.1 411.9 L908.6 411.9 L911.0 412.0 L913.5 412.0 L916.0 412.1 L918.4 412.1 L920.9 412.2 L923.3 412.2 L925.7 412.3 L928.2 412.3 L930.6 412.4 L933.0 412.4 L935.4 412.5 L937.9 412.5 L940.3 412.6 L942.7 412.6 L945.1 412.7 L947.5 412.7 L949.9 412.8 L952.2 412.8 L954.6 412.9 L957.0 412.9 L959.4 413.0 L961.7 413.0 L964.1 413.1 L966.4 413.1 L968.8 413.2 L971.1 413.3 L973.5 413.3 L975.8 413.4 L978.1 413.4 L980.4 413.5 L982.8 413.6 L985.1 413.6 L987.4 413.7 L989.7 413.7 L992.0 413.8 L994.2 413.9 L996.5 413.9 L998.8 414.0 L1001.1 414.0 L1003.3 414.1 L1005.6 414.2 L1007.8 414.2 L1010.1 414.3 L1012.3 414.4 L1014.5 414.4 L1016.7 414.5 L1019.0 414.6 L1021.2 414.6 L1023.4 414.7 L1025.6 414.8 L1027.8 414.8 L1029.9 414.9 L1032.1 415.0 L1034.3 415.1 L1036.5 415.1 L1038.6 415.2 L1040.8 415.3 L1042.9 415.3 L1045.0 415.4 L1047.2 415.5 L1049.3 415.6 L1051.4 415.6 L1053.5 415.7 L1055.6 415.8 L1057.7 415.8 L1059.8 415.9 L1061.9 416.0 L1063.9 416.1 L1066.0 416.2 L1068.1 416.2 L1070.1 416.3 L1072.2 416.4 L1074.2 416.5 L1076.2 416.5 L1078.2 416.6 L1080.3 416.7 L1082.3 416.8 L1084.3 416.9 L1086.2 416.9 L1088.2 417.0 L1090.2 417.1 L1092.2 417.2 L1094.1 417.3 L1096.1 417.3 L1098.0 417.4 L1099.9 417.5 L1101.9 417.6 L1103.8 417.7 L1105.7 417.8 L1107.6 417.8 L1109.5 417.9 L1111.4 418.0 L1113.3 418.1 L1115.1 418.2 L1117.0 418.3 L1118.8 418.4 L1120.7 418.4 L1122.5 418.5 L1124.4 418.6 L1126.2 418.7 L1128.0 418.8 L1129.8 418.9 L1131.6 419.0 L1133.4 419.1 L1135.1 419.2 L1136.9 419.2 L1138.7 419.3 L1140.4 419.4 L1142.2 419.5 L1143.9 419.6 L1145.6 419.7 L1147.3 419.8 L1149.0 419.9 L1150.7 420.0 L1152.4 420.1 L1154.1 420.2 L1155.8 420.3 L1157.4 420.4 L1159.1 420.4 L1160.7 420.5 L1162.4 420.6 L1164.0 420.7 L1165.6 420.8 L1167.2 420.9 L1168.8 421.0 L1170.4 421.1 L1172.0 421.2 L1173.5 421.3 L1175.1 421.4 L1176.7 421.5 L1178.2 421.6 L1179.7 421.7 L1181.2 421.8 L1182.8 421.9 L1184.3 422.0 L1185.8 422.1 L1187.2 422.2 L1188.7 422.3 L1190.2 422.4 L1191.6 422.5 L1193.1 422.6 L1194.5 422.7 L1195.9 422.8 L1197.4 422.9 L1198.8 423.0 L1200.2 423.1 L1201.5 423.2 L1202.9 423.3 L1204.3 423.4 L1205.6 423.5 L1207.0 423.6 L1208.3 423.7 L1209.6 423.8 L1211.0 424.0 L1212.3 424.1 L1213.6 424.2 L1214.8 424.3 L1216.1 424.4 L1217.4 424.5 L1218.6 424.6 L1219.9 424.7 L1221.1 424.8 L1222.3 424.9 L1223.6 425.0 L1224.8 425.1 L1226.0 425.2 L1227.1 425.3 L1228.3 425.4 L1229.5 425.6 L1230.6 425.7 L1231.8 425.8 L1232.9 425.9 L1234.0 426.0 L1235.1 426.1 L1236.2 426.2 L1237.3 426.3 L1238.4 426.4 L1239.4 426.5 L1240.5 426.7 L1241.5 426.8 L1242.6 426.9 L1243.6 427.0 L1244.6 427.1 L1245.6 427.2 L1246.6 427.3 L1247.6 427.4 L1248.6 427.5 L1249.5 427.7 L1250.5 427.8 L1251.4 427.9 L1252.3 428.0 L1253.3 428.1 L1254.2 428.2 L1255.0 428.3 L1255.9 428.5 L1256.8 428.6 L1257.7 428.7 L1258.5 428.8 L1259.4 428.9 L1260.2 429.0 L1261.0 429.1 L1261.8 429.3 L1262.6 429.4 L1263.4 429.5 L1264.2 429.6 L1264.9 429.7 L1265.7 429.8 L1266.4 430.0 L1267.1 430.1 L1267.9 430.2 L1268.6 430.3 L1269.3 430.4 L1269.9 430.5 L1270.6 430.7 L1271.3 430.8 L1271.9 430.9 L1272.6 431.0 L1273.2 431.1 L1273.8 431.2 L1274.4 431.4 L1275.0 431.5 L1275.6 431.6 L1276.1 431.7 L1276.7 431.8 L1277.3 431.9 L1277.8 432.1 L1278.3 432.2 L1278.8 432.3 L1279.3 432.4 L1279.8 432.5 L1280.3 432.7 L1280.8 432.8 L1281.2 432.9 L1281.7 433.0 L1282.1 433.1 L1282.5 433.2 L1282.9 433.4 L1283.3 433.5 L1283.7 433.6 L1284.1 433.7 L1284.5 433.8 L1284.8 434.0 L1285.2 434.1 L1285.5 434.2 L1285.8 434.3 L1286.1 434.4 L1286.4 434.6 L1286.7 434.7 L1287.0 434.8 L1287.2 434.9 L1287.5 435.0 L1287.7 435.2 L1287.9 435.3 L1288.2 435.4 L1288.4 435.5 L1288.5 435.6 L1288.7 435.8 L1288.9 435.9 L1289.1 436.0 L1289.2 436.1 L1289.3 436.3 L1289.5 436.4 L1289.6 436.5 L1289.7 436.6 L1289.8 436.7 L1289.8 436.9 L1289.9 437.0 L1289.9 437.1 L1290.0 437.2 L1290.0 437.3 L1290.0 437.5 L1290.0 437.6 L1290.0 437.7 L1290.0 437.8 L1290.0 437.9 L1289.9 438.1 L1289.9 438.2 L1289.8 438.3 L1289.8 438.4 L1289.7 438.5 L1289.6 438.7"/>
<path d="M79.3 312.4 L80.8 312.3 L82.4 312.2 L84.0 312.1 L85.5 311.9 L87.1 311.8 L88.7 311.7 L90.4 311.6 L92.0 311.5 L93.6 311.4 L95.3 311.2 L96.9 311.1 L98.6 311.0 L100.3 310.9 L102.0 310.8 L103.7 310.7 L105.4 310.6 L107.2 310.4 L108.9 310.3 L110.6 310.2 L112.4 310.1 L114.2 310.0 L116.0 309.9 L117.8 309.8 L119.6 309.7 L121.4 309.5 L123.2 309.4 L125.0 309.3 L126.9 309.2 L128.7 309.1 L130.6 309.0 L132.5 308.9 L134.4 308.8 L136.3 308.7 L138.2 308.6 L140.1 308.5 L142.0 308.4 L144.0 308.2 L145.9 308.1 L147.9 308.0 L149.9 307.9 L151.8 307.8 L153.8 307.7 L155.8 307.6 L157.8 307.5 L159.9 307.4 L161.9 307.3 L163.9 307.2 L166.0 307.1 L168.0 307.0 L170.1 306.9 L172.2 306.8 L174.3 306.7 L176.4 306.6 L178.5 306.5 L180.6 306.4 L182.7 306.3 L184.9 306.2 L187.0 306.1 L189.2 306.0 L191.3 305.9 L193.5 305.8 L195.7 305.7 L197.9 305.6 L200.1 305.5 L202.3 305.4 L204.5 305.3 L206.8 305.2 L209.0 305.2 L211.2 305.1 L213.5 305.0 L215.8 304.9 L218.0 304.8 L220.3 304.7 L222.6 304.6 L224.9 304.5 L227.2 304.4 L229.5 304.3 L231.9 304.2 L234.2 304.2 L236.5 304.1 L238.9 304.0 L241.3 303.9 L243.6 303.8 L246.0 303.7 L248.4 303.6 L250.8 303.5 L253.2 303.5 L255.6 303.4 L258.0 303.3 L260.4 303.2 L262.9 303.1 L265.3 303.0 L267.8 303.0 L270.2 302.9 L272.7 302.8 L275.2 302.7 L277.6 302.6 L280.1 302.6 L282.6 302.5 L285.1 302.4 L287.6 302.3 L290.2 302.3 L292.7 302.2 L295.2 302.1 L297.8 302.0 L300.3 301.9 L302.9 301.9 L305.4 301.8 L308.0 301.7 L310.6 301.6 L313.2 301.6 L315.7 301.5 L318.3 301.4 L321.0 301.4 L323.6 301.3 L326.2 301.2 L328.8 301.2 L331.4 301.1 L334.1 301.0 L336.7 300.9 L339.4 300.9 L342.0 300.8 L344.7 300.7 L347.4 300.7 L350.0 300.6 L352.7 300.5 L355.4 300.5 L358.1 300.4 L360.8 300.4 L363.5 300.3 L366.2 300.2 L369.0 300.2 L371.7 300.1 L374.4 300.0 L377.1 300.0 L379.9 299.9 L382.6 299.9 L385.4 299.8 L388.2 299.7 L390.9 299.7 L393.7 299.6 L396.5 299.6 L399.3 299.5 L402.0 299.5 L404.8 299.4 L407.6 299.4 L410.4 299.3 L413.2 299.3 L416.1 299.2 L418.9 299.1 L421.7 299.1 L424.5 299.0 L427.4 299.0 L430.2 298.9 L433.0 298.9 L435.9 298.8 L438.7 298.8 L441.6 298.8 L444.5 298.7 L447.3 298.7 L450.2 298.6 L453.1 298.6 L455.9 298.5 L458.8 298.5 L461.7 298.4 L464.6 298.4 L467.5 298.3 L470.4 298.3 L473.3 298.3 L476.2 298.2 L479.1 298.2 L482.0 298.1 L485.0 298.1 L487.9 298.1 L490.8 298.0 L493.7 298.0 L496.7 298.0 L499.6 297.9 L502.6 297.9 L505.5 297.9 L508.4 297.8 L511.4 297.8 L514.4 297.7 L517.3 297.7 L520.3 297.7 L523.2 297.7 L526.2 297.6 L529.2 297.6 L532.1 297.6 L535.1 297.5 L538.1 297.5 L541.1 297.5 L544.1 297.5 L547.0 297.4 L550.0 297.4 L553.0 297.4 L556.0 297.3 L559.0 297.3 L562.0 297.3 L565.0 297.3 L568.0 297.3 L571.0 297.2 L574.0 297.2 L577.0 297.2 L580.0 297.2 L583.0 297.2 L586.1 297.1 L589.1 297.1 L592.1 297.1 L595.1 297.1 L598.1 297.1 L601.2 297.0 L604.2 297.0 L607.2 297.0 L610.2 297.0 L613.3 297.0 L616.3 297.0 L619.3 297.0 L622.3 297.0 L625.4 296.9 L628.4 296.9 L631.4 296.9 L634.5 296.9 L637.5 296.9 L640.6 296.9 L643.6 296.9 L646.6 296.9 L649.7 296.9 L652.7 296.9 L655.8 296.9 L658.8 296.9 L661.8 296.9 L664.9 296.9 L667.9 296.8 L671.0 296.8 L674.0 296.8 L677.0 296.8 L680.1 296.8 L683.1 296.8 L686.2 296.8 L689.2 296.8 L692.3 296.8 L695.3 296.9 L698.3 296.9 L701.4 296.9 L704.4 296.9 L707.5 296.9 L710.5 296.9 L713.5 296.9 L716.6 296.9 L719.6 296.9 L722.7 296.9 L725.7 296.9 L728.7 296.9 L731.8 296.9 L734.8 296.9 L737.8 297.0 L740.9 297.0 L743.9 297.0 L746.9 297.0 L750.0 297.0 L753.0 297.0 L756.0 297.0 L759.0 297.0 L762.0 297.1 L765.1 297.1 L768.1 297.1 L771.1 297.1 L774.1 297.1 L777.1 297.2 L780.1 297.2 L783.2 297.2 L786.2 297.2 L789.2 297.2 L792.2 297.3 L795.2 297.3 L798.2 297.3 L801.2 297.3 L804.2 297.3 L807.2 297.4 L810.2 297.4 L813.1 297.4 L816.1 297.5 L819.1 297.5 L822.1 297.5 L825.1 297.5 L828.0 297.6 L831.0 297.6 L834.0 297.6 L836.9 297.7 L839.9 297.7 L842.9 297.7 L845.8 297.7 L848.8 297.8 L851.7 297.8 L854.7 297.9 L857.6 297.9 L860.6 297.9 L863.5 298.0 L866.4 298.0 L869.4 298.0 L872.3 298.1 L875.2 298.1 L878.1 298.1 L881.1 298.2 L884.0 298.2 L886.9 298.3 L889.8 298.3 L892.7 298.3 L895.6 298.4 L898.5 298.4 L901.3 298.5 L904.2 298.5 L907.1 298.6 L910.0 298.6 L912.9 298.7 L915.7 298.7 L918.6 298.8 L921.4 298.8 L924.3 298.8 L927.1 298.9 L930.0 298.9 L932.8 299.0 L935.7 299.0 L938.5 299.1 L941.3 299.1 L944.1 299.2 L946.9 299.3 L949.7 299.3 L952.5 299.4 L955.3 299.4 L958.1 299.5 L960.9 299.5 L963.7 299.6 L966.5 299.6 L969.3 299.7 L972.0 299.7 L974.8 299.8 L977.5 299.9 L980.3 299.9 L983.0 300.0 L985.8 300.0 L988.5 300.1 L991.2 300.2 L993.9 300.2 L996.7 300.3 L999.4 300.4 L1002.1 300.4 L1004.8 300.5 L1007.5 300.5 L1010.1 300.6 L1012.8 300.7 L1015.5 300.7 L1018.2 300.8 L1020.8 300.9 L1023.5 300.9 L1026.1 301.0 L1028.7 301.1 L1031.4 301.2 L1034.0 301.2 L1036.6 301.3 L1039.2 301.4 L1041.8 301.4 L1044.4 301.5 L1047.0 301.6 L1049.6 301.6 L1052.2 301.7 L1054.8 301.8 L1057.3 301.9 L1059.9 301.9 L1062.4 302.0 L1065.0 302.1 L1067.5 302.2 L1070.0 302.3 L1072.5 302.3 L1075.0 302.4 L1077.6 302.5 L1080.0 302.6 L1082.5 302.6 L1085.0 302.7 L1087.5 302.8 L1090.0 302.9 L1092.4 303.0 L1094.9 303.0 L1097.3 303.1 L1099.7 303.2 L1102.2 303.3 L1104.6 303.4 L1107.0 303.5 L1109.4 303.5 L1111.8 303.6 L1114.2 303.7 L1116.5 303.8 L1118.9 303.9 L1121.3 304.0 L1123.6 304.1 L1126.0 304.2 L1128.3 304.2 L1130.6 304.3 L1133.0 304.4 L1135.3 304.5 L1137.6 304.6 L1139.9 304.7 L1142.1 304.8 L1144.4 304.9 L1146.7 305.0 L1148.9 305.1 L1151.2 305.2 L1153.4 305.2 L1155.7 305.3 L1157.9 305.4 L1160.1 305.5 L1162.3 305.6 L1164.5 305.7 L1166.7 305.8 L1168.8 305.9 L1171.0 306.0 L1173.2 306.1 L1175.3 306.2 L1177.4 306.3 L1179.6 306.4 L1181.7 306.5 L1183.8 306.6 L1185.9 306.7 L1188.0 306.8 L1190.1 306.9 L1192.1 307.0 L1194.2 307.1 L1196.2 307.2 L1198.3 307.3 L1200.3 307.4 L1202.3 307.5 L1204.4 307.6 L1206.4 307.7 L1208.3 307.8 L1210.3 307.9 L1212.3 308.0 L1214.3 308.1 L1216.2 308.2 L1218.1 308.4 L1220.1 308.5 L1222.0 308.6 L1223.9 308.7 L1225.8 308.8 L1227.7 308.9 L1229.6 309.0 L1231.4 309.1 L1233.3 309.2 L1235.1 309.3 L1237.0 309.4 L1238.8 309.5 L1240.6 309.7 L1242.4 309.8 L1244.2 309.9 L1246.0 310.0 L1247.8 310.1 L1249.5 310.2 L1251.3 310.3 L1253.0 310.4 L1254.8 310.6 L1256.5 310.7 L1258.2 310.8 L1259.9 310.9 L1261.6 311.0 L1263.2 311.1 L1264.9 311.2 L1266.6 311.4 L1268.2 311.5 L1269.8 311.6 L1271.4 311.7 L1273.0 311.8 L1274.6 311.9 L1276.2 312.1 L1277.8 312.2 L1279.4 312.3 L1280.9 312.4 L1282.4 312.5 L1284.0 312.7 L1285.5 312.8 L1287.0 312.9 L1288.5 313.0 L1290.0 313.1 L1291.4 313.3 L1292.9 313.4 L1294.3 313.5 L1295.8 313.6 L1297.2 313.7 L1298.6 313.9 L1300.0 314.0 L1301.4 314.1 L1302.8 314.2 L1304.1 314.4 L1305.5 314.5 L1306.8 314.6 L1308.2 314.7 L1309.5 314.9 L1310.8 315.0 L1312.1 315.1 L1313.3 315.2 L1314.6 315.4 L1315.9 315.5 L1317.1 315.6 L1318.3 315.7 L1319.6 315.9 L1320.8 316.0 L1322.0 316.1 L1323.1 316.2 L1324.3 316.4 L1325.5 316.5 L1326.6 316.6 L1327.8 316.8 L1328.9 316.9 L1330.0 317.0 L1331.1 317.1 L1332.2 317.3 L1333.2 317.4 L1334.3 317.5 L1335.3 317.7 L1336.4 317.8 L1337.4 317.9 L1338.4 318.0 L1339.4 318.2 L1340.4 318.3 L1341.4 318.4 L1342.3 318.6 L1343.3 318.7 L1344.2 318.8 L1345.1 319.0 L1346.0 319.1 L1346.9 319.2 L1347.8 319.4 L1348.7 319.5 L1349.5 319.6 L1350.4 319.8 L1351.2 319.9 L1352.0 320.0 L1352.8 320.2 L1353.6 320.3 L1354.4 320.4 L1355.2 320.6 L1355.9 320.7 L1356.7 320.8 L1357.4 321.0 L1358.1 321.1 L1358.8 321.2 L1359.5 321.4 L1360.2 321.5 L1360.9 321.6 L1361.5 321.8 L1362.2 321.9 L1362.8 322.0 L1363.4 322.2 L1364.0 322.3 L1364.6 322.4 L1365.2 322.6 L1365.7 322.7 L1366.3 322.8 L1366.8 323.0 L1367.3 323.1 L1367.8 323.3 L1368.3 323.4 L1368.8 323.5 L1369.3 323.7 L1369.7 323.8 L1370.2 323.9 L1370.6 324.1 L1371.0 324.2 L1371.4 324.3 L1371.8 324.5 L1372.2 324.6 L1372.6 324.8 L1372.9 324.9 L1373.3 325.0 L1373.6 325.2 L1373.9 325.3 L1374.2 325.4 L1374.5 325.6 L1374.7 325.7 L1375.0 325.9 L1375.2 326.0 L1375.5 326.1 L1375.7 326.3 L1375.9 326.4 L1376.1 326.5 L1376.3 326.7 L1376.4 326.8 L1376.6 327.0 L1376.7 327.1 L1376.9 327.2 L1377.0 327.4 L1377.1 327.5 L1377.2 327.6 L1377.2 327.8 L1377.3 327.9 L1377.3 328.1 L1377.4 328.2 L1377.4 328.3 L1377.4 328.5 L1377.4 328.6 L1377.4 328.8 L1377.3 328.9 L1377.3 329.0 L1377.2 329.2 L1377.2 329.3"/>
<path d="M78.3 182.6 L80.3 182.5 L82.4 182.4 L84.5 182.3 L86.6 182.2 L88.7 182.1 L90.8 181.9 L92.9 181.8 L95.1 181.7 L97.2 181.6 L99.4 181.5 L101.5 181.4 L103.7 181.2 L105.9 181.1 L108.1 181.0 L110.3 180.9 L112.6 180.8 L114.8 180.7 L117.0 180.6 L119.3 180.5 L121.6 180.3 L123.8 180.2 L126.1 180.1 L128.4 180.0 L130.7 179.9 L133.1 179.8 L135.4 179.7 L137.7 179.6 L140.1 179.5 L142.4 179.4 L144.8 179.3 L147.2 179.2 L149.6 179.1 L152.0 179.0 L154.4 178.8 L156.8 178.7 L159.3 178.6 L161.7 178.5 L164.1 178.4 L166.6 178.3 L169.1 178.2 L171.6 178.1 L174.1 178.0 L176.6 177.9 L179.1 177.8 L181.6 177.7 L184.1 177.6 L186.6 177.5 L189.2 177.4 L191.8 177.3 L194.3 177.2 L196.9 177.1 L199.5 177.1 L202.1 177.0 L204.7 176.9 L207.3 176.8 L209.9 176.7 L212.5 176.6 L215.2 176.5 L217.8 176.4 L220.5 176.3 L223.2 176.2 L225.8 176.1 L228.5 176.0 L231.2 175.9 L233.9 175.9 L236.6 175.8 L239.3 175.7 L242.1 175.6 L244.8 175.5 L247.5 175.4 L250.3 175.3 L253.0 175.3 L255.8 175.2 L258.6 175.1 L261.4 175.0 L264.2 174.9 L267.0 174.8 L269.8 174.8 L272.6 174.7 L275.4 174.6 L278.2 174.5 L281.1 174.4 L283.9 174.4 L286.8 174.3 L289.6 174.2 L292.5 174.1 L295.4 174.0 L298.2 174.0 L301.1 173.9 L304.0 173.8 L306.9 173.7 L309.8 173.7 L312.8 173.6 L315.7 173.5 L318.6 173.5 L321.6 173.4 L324.5 173.3 L327.5 173.2 L330.4 173.2 L333.4 173.1 L336.4 173.0 L339.3 173.0 L342.3 172.9 L345.3 172.8 L348.3 172.8 L351.3 172.7 L354.3 172.6 L357.3 172.6 L360.4 172.5 L363.4 172.5 L366.4 172.4 L369.5 172.3 L372.5 172.3 L375.6 172.2 L378.6 172.1 L381.7 172.1 L384.8 172.0 L387.8 172.0 L390.9 171.9 L394.0 171.9 L397.1 171.8 L400.2 171.7 L403.3 171.7 L406.4 171.6 L409.5 171.6 L412.6 171.5 L415.8 171.5 L418.9 171.4 L422.0 171.4 L425.2 171.3 L428.3 171.3 L431.5 171.2 L434.6 171.2 L437.8 171.1 L440.9 171.1 L444.1 171.0 L447.3 171.0 L450.4 170.9 L453.6 170.9 L456.8 170.8 L460.0 170.8 L463.2 170.8 L466.4 170.7 L469.6 170.7 L472.8 170.6 L476.0 170.6 L479.2 170.6 L482.4 170.5 L485.7 170.5 L488.9 170.4 L492.1 170.4 L495.3 170.4 L498.6 170.3 L501.8 170.3 L505.1 170.3 L508.3 170.2 L511.5 170.2 L514.8 170.2 L518.1 170.1 L521.3 170.1 L524.6 170.1 L527.8 170.0 L531.1 170.0 L534.4 170.0 L537.6 169.9 L540.9 169.9 L544.2 169.9 L547.5 169.9 L550.8 169.8 L554.0 169.8 L557.3 169.8 L560.6 169.8 L563.9 169.7 L567.2 169.7 L570.5 169.7 L573.8 169.7 L577.1 169.6 L580.4 169.6 L583.7 169.6 L587.0 169.6 L590.3 169.6 L593.6 169.6 L596.9 169.5 L600.3 169.5 L603.6 169.5 L606.9 169.5 L610.2 169.5 L613.5 169.5 L616.8 169.5 L620.2 169.4 L623.5 169.4 L626.8 169.4 L630.1 169.4 L633.5 169.4 L636.8 169.4 L640.1 169.4 L643.4 169.4 L646.8 169.4 L650.1 169.4 L653.4 169.4 L656.8 169.3 L660.1 169.3 L663.4 169.3 L666.8 169.3 L670.1 169.3 L673.4 169.3 L676.8 169.3 L680.1 169.3 L683.4 169.3 L686.8 169.3 L690.1 169.3 L693.4 169.3 L696.7 169.3 L700.1 169.3 L703.4 169.3 L706.7 169.4 L710.1 169.4 L713.4 169.4 L716.7 169.4 L720.1 169.4 L723.4 169.4 L726.7 169.4 L730.0 169.4 L733.4 169.4 L736.7 169.4 L740.0 169.4 L743.3 169.5 L746.7 169.5 L750.0 169.5 L753.3 169.5 L756.6 169.5 L759.9 169.5 L763.2 169.5 L766.5 169.6 L769.9 169.6 L773.2 169.6 L776.5 169.6 L779.8 169.6 L783.1 169.6 L786.4 169.7 L789.7 169.7 L793.0 169.7 L796.3 169.7 L799.6 169.8 L802.8 169.8 L806.1 169.8 L809.4 169.8 L812.7 169.9 L816.0 169.9 L819.3 169.9 L822.5 169.9 L825.8 170.0 L829.1 170.0 L832.3 170.0 L835.6 170.1 L838.9 170.1 L842.1 170.1 L845.4 170.2 L848.6 170.2 L851.9 170.2 L855.1 170.3 L858.4 170.3 L861.6 170.3 L864.8 170.4 L868.1 170.4 L871.3 170.4 L874.5 170.5 L877.7 170.5 L881.0 170.6 L884.2 170.6 L887.4 170.6 L890.6 170.7 L893.8 170.7 L897.0 170.8 L900.2 170.8 L903.4 170.8 L906.6 170.9 L909.7 170.9 L912.9 171.0 L916.1 171.0 L919.3 171.1 L922.4 171.1 L925.6 171.2 L928.7 171.2 L931.9 171.3 L935.0 171.3 L938.2 171.4 L941.3 171.4 L944.4 171.5 L947.5 171.5 L950.7 171.6 L953.8 171.6 L956.9 171.7 L960.0 171.7 L963.1 171.8 L966.2 171.9 L969.3 171.9 L972.3 172.0 L975.4 172.0 L978.5 172.1 L981.6 172.1 L984.6 172.2 L987.7 172.3 L990.7 172.3 L993.8 172.4 L996.8 172.5 L999.8 172.5 L1002.8 172.6 L1005.9 172.6 L1008.9 172.7 L1011.9 172.8 L1014.9 172.8 L1017.9 172.9 L1020.8 173.0 L1023.8 173.0 L1026.8 173.1 L1029.8 173.2 L1032.7 173.2 L1035.7 173.3 L1038.6 173.4 L1041.6 173.5 L1044.5 173.5 L1047.4 173.6 L1050.3 173.7 L1053.2 173.7 L1056.2 173.8 L1059.0 173.9 L1061.9 174.0 L1064.8 174.0 L1067.7 174.1 L1070.6 174.2 L1073.4 174.3 L1076.3 174.4 L1079.1 174.4 L1082.0 174.5 L1084.8 174.6 L1087.6 174.7 L1090.4 174.8 L1093.2 174.8 L1096.0 174.9 L1098.8 175.0 L1101.6 175.1 L1104.4 175.2 L1107.1 175.3 L1109.9 175.3 L1112.7 175.4 L1115.4 175.5 L1118.1 175.6 L1120.9 175.7 L1123.6 175.8 L1126.3 175.9 L1129.0 175.9 L1131.7 176.0 L1134.4 176.1 L1137.0 176.2 L1139.7 176.3 L1142.3 176.4 L1145.0 176.5 L1147.6 176.6 L1150.3 176.7 L1152.9 176.8 L1155.5 176.9 L1158.1 177.0 L1160.7 177.1 L1163.3 177.1 L1165.9 177.2 L1168.4 177.3 L1171.0 177.4 L1173.5 177.5 L1176.1 177.6 L1178.6 177.7 L1181.1 177.8 L1183.6 177.9 L1186.1 178.0 L1188.6 178.1 L1191.1 178.2 L1193.6 178.3 L1196.0 178.4 L1198.5 178.5 L1200.9 178.6 L1203.4 178.7 L1205.8 178.8 L1208.2 179.0 L1210.6 179.1 L1213.0 179.2 L1215.4 179.3 L1217.7 179.4 L1220.1 179.5 L1222.5 179.6 L1224.8 179.7 L1227.1 179.8 L1229.4 179.9 L1231.8 180.0 L1234.1 180.1 L1236.3 180.2 L1238.6 180.3 L1240.9 180.5 L1243.1 180.6 L1245.4 180.7 L1247.6 180.8 L1249.8 180.9 L1252.1 181.0 L1254.3 181.1 L1256.5 181.2 L1258.6 181.4 L1260.8 181.5 L1263.0 181.6 L1265.1 181.7 L1267.2 181.8 L1269.4 181.9 L1271.5 182.1 L1273.6 182.2 L1275.7 182.3 L1277.8 182.4 L1279.8 182.5 L1281.9 182.6 L1283.9 182.8 L1286.0 182.9 L1288.0 183.0 L1290.0 183.1 L1292.0 183.2 L1294.0 183.4 L1296.0 183.5 L1297.9 183.6 L1299.9 183.7 L1301.8 183.9 L1303.8 184.0 L1305.7 184.1 L1307.6 184.2 L1309.5 184.4 L1311.4 184.5 L1313.2 184.6 L1315.1 184.7 L1316.9 184.9 L1318.8 185.0 L1320.6 185.1 L1322.4 185.2 L1324.2 185.4 L1326.0 185.5 L1327.7 185.6 L1329.5 185.7 L1331.2 185.9 L1333.0 186.0 L1334.7 186.1 L1336.4 186.3 L1338.1 186.4 L1339.8 186.5 L1341.5 186.7 L1343.1 186.8 L1344.8 186.9 L1346.4 187.0 L1348.0 187.2 L1349.6 187.3 L1351.2 187.4 L1352.8 187.6 L1354.4 187.7 L1355.9 187.8 L1357.5 188.0 L1359.0 188.1 L1360.5 188.2 L1362.1 188.4 L1363.5 188.5 L1365.0 188.7 L1366.5 188.8 L1367.9 188.9 L1369.4 189.1 L1370.8 189.2 L1372.2 189.3 L1373.6 189.5 L1375.0 189.6 L1376.4 189.7 L1377.8 189.9 L1379.1 190.0 L1380.4 190.2 L1381.8 190.3 L1383.1 190.4 L1384.4 190.6 L1385.7 190.7 L1386.9 190.9 L1388.2 191.0 L1389.4 191.1 L1390.6 191.3 L1391.9 191.4 L1393.1 191.6 L1394.2 191.7 L1395.4 191.8 L1396.6 192.0 L1397.7 192.1 L1398.9 192.3 L1400.0 192.4 L1401.1 192.6 L1402.2 192.7 L1403.3 192.8 L1404.3 193.0 L1405.4 193.1 L1406.4 193.3 L1407.4 193.4 L1408.4 193.6 L1409.4 193.7 L1410.4 193.8 L1411.4 194.0 L1412.3 194.1 L1413.3 194.3 L1414.2 194.4 L1415.1 194.6 L1416.0 194.7 L1416.9 194.9 L1417.8 195.0 L1418.6 195.2 L1419.5 195.3 L1420.3 195.4 L1421.1 195.6 L1421.9 195.7 L1422.7 195.9 L1423.5 196.0 L1424.2 196.2 L1425.0 196.3 L1425.7 196.5 L1426.4 196.6 L1427.1 196.8 L1427.8 196.9 L1428.5 197.1 L1429.1 197.2 L1429.8 197.4 L1430.4 197.5 L1431.0 197.7 L1431.6 197.8 L1432.2 198.0 L1432.8 198.1"/>
<path d="M79.3 43.8 L81.6 43.7 L84.0 43.6 L86.4 43.5 L88.7 43.4 L91.1 43.2 L93.5 43.1 L95.9 43.0 L98.4 42.9 L100.8 42.8 L103.2 42.7 L105.7 42.5 L108.2 42.4 L110.7 42.3 L113.1 42.2 L115.6 42.1 L118.2 42.0 L120.7 41.9 L123.2 41.8 L125.8 41.7 L128.3 41.5 L130.9 41.4 L133.4 41.3 L136.0 41.2 L138.6 41.1 L141.2 41.0 L143.8 40.9 L146.5 40.8 L149.1 40.7 L151.8 40.6 L154.4 40.5 L157.1 40.4 L159.8 40.3 L162.4 40.2 L165.1 40.1 L167.9 40.0 L170.6 39.9 L173.3 39.8 L176.0 39.7 L178.8 39.6 L181.5 39.5 L184.3 39.4 L187.1 39.3 L189.8 39.2 L192.6 39.1 L195.4 39.0 L198.3 38.9 L201.1 38.8 L203.9 38.7 L206.7 38.6 L209.6 38.5 L212.4 38.4 L215.3 38.3 L218.2 38.2 L221.1 38.1 L224.0 38.0 L226.9 38.0 L229.8 37.9 L232.7 37.8 L235.6 37.7 L238.5 37.6 L241.5 37.5 L244.4 37.4 L247.4 37.3 L250.4 37.3 L253.3 37.2 L256.3 37.1 L259.3 37.0 L262.3 36.9 L265.3 36.8 L268.3 36.8 L271.4 36.7 L274.4 36.6 L277.4 36.5 L280.5 36.4 L283.5 36.4 L286.6 36.3 L289.7 36.2 L292.7 36.1 L295.8 36.0 L298.9 36.0 L302.0 35.9 L305.1 35.8 L308.2 35.7 L311.4 35.7 L314.5 35.6 L317.6 35.5 L320.8 35.5 L323.9 35.4 L327.1 35.3 L330.2 35.2 L333.4 35.2 L336.6 35.1 L339.8 35.0 L342.9 35.0 L346.1 34.9 L349.3 34.8 L352.5 34.8 L355.8 34.7 L359.0 34.7 L362.2 34.6 L365.4 34.5 L368.7 34.5 L371.9 34.4 L375.2 34.3 L378.4 34.3 L381.7 34.2 L384.9 34.2 L388.2 34.1 L391.5 34.0 L394.8 34.0 L398.1 33.9 L401.4 33.9 L404.7 33.8 L408.0 33.8 L411.3 33.7 L414.6 33.7 L417.9 33.6 L421.2 33.6 L424.6 33.5 L427.9 33.5 L431.2 33.4 L434.6 33.4 L437.9 33.3 L441.3 33.3 L444.6 33.2 L448.0 33.2 L451.4 33.1 L454.7 33.1 L458.1 33.0 L461.5 33.0 L464.9 32.9 L468.3 32.9 L471.7 32.9 L475.1 32.8 L478.5 32.8 L481.9 32.7 L485.3 32.7 L488.7 32.7 L492.1 32.6 L495.5 32.6 L498.9 32.6 L502.4 32.5 L505.8 32.5 L509.2 32.5 L512.7 32.4 L516.1 32.4 L519.5 32.4 L523.0 32.3 L526.4 32.3 L529.9 32.3 L533.3 32.2 L536.8 32.2 L540.2 32.2 L543.7 32.1 L547.2 32.1 L550.6 32.1 L554.1 32.1 L557.6 32.0 L561.1 32.0 L564.5 32.0 L568.0 32.0 L571.5 32.0 L575.0 31.9 L578.5 31.9 L581.9 31.9 L585.4 31.9 L588.9 31.9 L592.4 31.8 L595.9 31.8 L599.4 31.8 L602.9 31.8 L606.4 31.8 L609.9 31.8 L613.4 31.7 L616.9 31.7 L620.4 31.7 L623.9 31.7 L627.4 31.7 L630.9 31.7 L634.4 31.7 L637.9 31.7 L641.5 31.7 L645.0 31.7 L648.5 31.6 L652.0 31.6 L655.5 31.6 L659.0 31.6 L662.5 31.6 L666.0 31.6 L669.5 31.6 L673.1 31.6 L676.6 31.6 L680.1 31.6 L683.6 31.6 L687.1 31.6 L690.6 31.6 L694.1 31.6 L697.7 31.6 L701.2 31.6 L704.7 31.6 L708.2 31.6 L711.7 31.6 L715.2 31.7 L718.7 31.7 L722.2 31.7 L725.7 31.7 L729.3 31.7 L732.8 31.7 L736.3 31.7 L739.8 31.7 L743.3 31.7 L746.8 31.7 L750.3 31.8 L753.8 31.8 L757.3 31.8 L760.8 31.8 L764.3 31.8 L767.8 31.8 L771.3 31.9 L774.7 31.9 L778.2 31.9 L781.7 31.9 L785.2 31.9 L788.7 32.0 L792.2 32.0 L795.6 32.0 L799.1 32.0 L802.6 32.0 L806.1 32.1 L809.5 32.1 L813.0 32.1 L816.5 32.1 L819.9 32.2 L823.4 32.2 L826.8 32.2 L830.3 32.3 L833.8 32.3 L837.2 32.3 L840.6 32.4 L844.1 32.4 L847.5 32.4 L851.0 32.5 L854.4 32.5 L857.8 32.5 L861.2 32.6 L864.7 32.6 L868.1 32.6 L871.5 32.7 L874.9 32.7 L878.3 32.7 L881.7 32.8 L885.1 32.8 L888.5 32.9 L891.9 32.9 L895.3 32.9 L898.7 33.0 L902.1 33.0 L905.4 33.1 L908.8 33.1 L912.2 33.2 L915.5 33.2 L918.9 33.3 L922.3 33.3 L925.6 33.4 L928.9 33.4 L932.3 33.5 L935.6 33.5 L938.9 33.6 L942.3 33.6 L945.6 33.7 L948.9 33.7 L952.2 33.8 L955.5 33.8 L958.8 33.9 L962.1 33.9 L965.4 34.0 L968.7 34.0 L972.0 34.1 L975.2 34.2 L978.5 34.2 L981.8 34.3 L985.0 34.3 L988.3 34.4 L991.5 34.5 L994.7 34.5 L998.0 34.6 L1001.2 34.7 L1004.4 34.7 L1007.6 34.8 L1010.8 34.8 L1014.0 34.9 L1017.2 35.0 L1020.4 35.0 L1023.6 35.1 L1026.8 35.2 L1030.0 35.2 L1033.1 35.3 L1036.3 35.4 L1039.4 35.5 L1042.6 35.5 L1045.7 35.6 L1048.8 35.7 L1051.9 35.7 L1055.1 35.8 L1058.2 35.9 L1061.3 36.0 L1064.4 36.0 L1067.4 36.1 L1070.5 36.2 L1073.6 36.3 L1076.6 36.4 L1079.7 36.4 L1082.7 36.5 L1085.8 36.6 L1088.8 36.7 L1091.8 36.8 L1094.9 36.8 L1097.9 36.9 L1100.9 37.0 L1103.9 37.1 L1106.8 37.2 L1109.8 37.3 L1112.8 37.3 L1115.7 37.4 L1118.7 37.5 L1121.6 37.6 L1124.6 37.7 L1127.5 37.8 L1130.4 37.9 L1133.3 38.0 L1136.2 38.0 L1139.1 38.1 L1142.0 38.2 L1144.9 38.3 L1147.7 38.4 L1150.6 38.5 L1153.4 38.6 L1156.3 38.7 L1159.1 38.8 L1161.9 38.9 L1164.7 39.0 L1167.5 39.1 L1170.3 39.2 L1173.1 39.3 L1175.9 39.4 L1178.7 39.5 L1181.4 39.6 L1184.2 39.7 L1186.9 39.8 L1189.6 39.9 L1192.3 40.0 L1195.0 40.1 L1197.7 40.2 L1200.4 40.3 L1203.1 40.4 L1205.8 40.5 L1208.4 40.6 L1211.1 40.7 L1213.7 40.8 L1216.3 40.9 L1218.9 41.0 L1221.6 41.1 L1224.1 41.2 L1226.7 41.3 L1229.3 41.4 L1231.9 41.5 L1234.4 41.7 L1237.0 41.8 L1239.5 41.9 L1242.0 42.0 L1244.5 42.1 L1247.0 42.2 L1249.5 42.3 L1252.0 42.4 L1254.5 42.5 L1256.9 42.7 L1259.4 42.8 L1261.8 42.9 L1264.2 43.0 L1266.7 43.1 L1269.1 43.2 L1271.4 43.4 L1273.8 43.5 L1276.2 43.6 L1278.6 43.7 L1280.9 43.8 L1283.2 43.9 L1285.6 44.1 L1287.9 44.2 L1290.2 44.3 L1292.5 44.4 L1294.7 44.5 L1297.0 44.7 L1299.2 44.8 L1301.5 44.9 L1303.7 45.0 L1305.9 45.2 L1308.1 45.3 L1310.3 45.4 L1312.5 45.5 L1314.7 45.7 L1316.8 45.8 L1319.0 45.9 L1321.1 46.0 L1323.2 46.2 L1325.3 46.3 L1327.4 46.4 L1329.5 46.6 L1331.6 46.7 L1333.7 46.8 L1335.7 46.9 L1337.7 47.1 L1339.8 47.2 L1341.8 47.3 L1343.8 47.5 L1345.8 47.6 L1347.7 47.7 L1349.7 47.9 L1351.6 48.0 L1353.6 48.1 L1355.5 48.3 L1357.4 48.4 L1359.3 48.5 L1361.2 48.7 L1363.0 48.8 L1364.9 48.9 L1366.7 49.1 L1368.6 49.2 L1370.4 49.3 L1372.2 49.5 L1374.0 49.6 L1375.7 49.7 L1377.5 49.9 L1379.3 50.0 L1381.0 50.2 L1382.7 50.3 L1384.4 50.4 L1386.1 50.6 L1387.8 50.7 L1389.5 50.9 L1391.1 51.0 L1392.8 51.1 L1394.4 51.3 L1396.0 51.4 L1397.6 51.6 L1399.2 51.7 L1400.8 51.9 L1402.3 52.0 L1403.9 52.1 L1405.4 52.3 L1406.9 52.4 L1408.5 52.6 L1409.9 52.7 L1411.4 52.9 L1412.9 53.0 L1414.3 53.1 L1415.8 53.3 L1417.2 53.4 L1418.6 53.6 L1420.0 53.7 L1421.4 53.9 L1422.7 54.0 L1424.1 54.2 L1425.4 54.3 L1426.8 54.5 L1428.1 54.6 L1429.4 54.8 L1430.6 54.9 L1431.9 55.1"/>
<path d="M680.1 691.9 L677.0 691.8 L673.9 691.7 L670.7 691.6 L667.6 691.5 L664.5 691.4 L661.4 691.3 L658.3 691.2 L655.2 691.0 L652.1 690.8 L649.0 690.7 L645.8 690.5 L642.7 690.3 L639.6 690.1 L636.5 689.8 L633.4 689.6 L630.3 689.3 L627.2 689.1 L624.1 688.8 L621.0 688.5 L617.9 688.2 L614.7 687.9 L611.6 687.6 L608.5 687.2 L605.4 686.9 L602.3 686.5 L599.2 686.1 L596.1 685.7 L593.0 685.3 L589.9 684.9 L586.8 684.5 L583.7 684.0 L580.6 683.6 L577.5 683.1 L574.4 682.6 L571.4 682.1 L568.3 681.6 L565.2 681.1 L562.1 680.6 L559.0 680.0 L555.9 679.4 L552.8 678.9 L549.8 678.3 L546.7 677.7 L543.6 677.1 L540.5 676.5 L537.4 675.8 L534.4 675.2 L531.3 674.5 L528.2 673.8 L525.2 673.2 L522.1 672.5 L519.0 671.8 L516.0 671.0 L512.9 670.3 L509.8 669.5 L506.8 668.8 L503.7 668.0 L500.7 667.2 L497.6 666.4 L494.6 665.6 L491.5 664.8 L488.5 663.9 L485.5 663.1 L482.4 662.2 L479.4 661.3 L476.3 660.5 L473.3 659.6 L470.3 658.6 L467.3 657.7 L464.2 656.8 L461.2 655.8 L458.2 654.8 L455.2 653.9 L452.2 652.9 L449.2 651.9 L446.2 650.9 L443.2 649.8 L440.2 648.8 L437.2 647.7 L434.2 646.7 L431.2 645.6 L428.2 644.5 L425.2 643.4 L422.2 642.3 L419.2 641.1 L416.3 640.0 L413.3 638.8 L410.3 637.7 L407.4 636.5 L404.4 635.3 L401.5 634.1 L398.5 632.8 L395.6 631.6 L392.6 630.4 L389.7 629.1 L386.7 627.8 L383.8 626.6 L380.9 625.3 L377.9 623.9 L375.0 622.6 L372.1 621.3 L369.2 619.9 L366.3 618.6 L363.4 617.2 L360.5 615.8 L357.6 614.4 L354.7 613.0 L351.8 611.6 L348.9 610.1 L346.0 608.7 L343.2 607.2 L340.3 605.8 L337.4 604.3 L334.6 602.8 L331.7 601.3 L328.8 599.7 L326.0 598.2 L323.2 596.6 L320.3 595.1 L317.5 593.5 L314.7 591.9 L311.8 590.3 L309.0 588.7 L306.2 587.1 L303.4 585.4 L300.6 583.8 L297.8 582.1 L295.0 580.4 L292.2 578.8 L289.5 577.1 L286.7 575.3 L283.9 573.6 L281.2 571.9 L278.4 570.1 L275.7 568.4 L272.9 566.6 L270.2 564.8 L267.4 563.0 L264.7 561.2 L262.0 559.4 L259.3 557.5 L256.6 555.7 L253.9 553.8 L251.2 551.9 L248.5 550.0 L245.8 548.1 L243.1 546.2 L240.4 544.3 L237.8 542.4 L235.1 540.4 L232.5 538.4 L229.8 536.5 L227.2 534.5 L224.6 532.5 L221.9 530.5 L219.3 528.4 L216.7 526.4 L214.1 524.4 L211.5 522.3 L208.9 520.2 L206.4 518.1 L203.8 516.0 L201.2 513.9 L198.7 511.8 L196.1 509.7 L193.6 507.5 L191.0 505.4 L188.5 503.2 L186.0 501.0 L183.5 498.8 L181.0 496.6 L178.5 494.4 L176.0 492.2 L173.5 489.9 L171.0 487.7 L168.6 485.4 L166.1 483.1 L163.7 480.8 L161.2 478.5 L158.8 476.2 L156.4 473.9 L153.9 471.5 L151.5 469.2 L149.1 466.8 L146.8 464.5 L144.4 462.1 L142.0 459.7 L139.6 457.3 L137.3 454.9 L134.9 452.4 L132.6 450.0 L130.3 447.5 L128.0 445.1 L125.7 442.6 L123.4 440.1 L121.1 437.6 L118.8 435.1 L116.5 432.6 L114.3 430.0 L112.0 427.5 L109.8 424.9 L107.6 422.4 L105.3 419.8 L103.1 417.2 L100.9 414.6 L98.7 412.0 L96.5 409.4 L94.4 406.7 L92.2 404.1 L90.1 401.5 L87.9 398.8 L85.8 396.1 L83.7 393.4 L81.6 390.7 L79.5 388.0"/>
<path d="M680.1 691.9 L678.0 691.7 L675.9 691.6 L673.8 691.4 L671.7 691.3 L669.6 691.1 L667.6 690.9 L665.5 690.7 L663.4 690.5 L661.3 690.3 L659.2 690.0 L657.1 689.8 L655.0 689.5 L653.0 689.2 L650.9 688.9 L648.8 688.6 L646.7 688.3 L644.6 688.0 L642.5 687.7 L640.4 687.3 L638.4 686.9 L636.3 686.6 L634.2 686.2 L632.1 685.8 L630.0 685.3 L628.0 684.9 L625.9 684.5 L623.8 684.0 L621.7 683.5 L619.6 683.1 L617.6 682.6 L615.5 682.1 L613.4 681.5 L611.3 681.0 L609.3 680.5 L607.2 679.9 L605.1 679.3 L603.0 678.8 L601.0 678.2 L598.9 677.5 L596.8 676.9 L594.8 676.3 L592.7 675.6 L590.6 675.0 L588.6 674.3 L586.5 673.6 L584.4 672.9 L582.4 672.2 L580.3 671.5 L578.3 670.8 L576.2 670.0 L574.1 669.3 L572.1 668.5 L570.0 667.7 L568.0 666.9 L565.9 666.1 L563.9 665.3 L561.8 664.4 L559.8 663.6 L557.7 662.7 L555.7 661.8 L553.7 660.9 L551.6 660.0 L549.6 659.1 L547.5 658.2 L545.5 657.3 L543.5 656.3 L541.4 655.4 L539.4 654.4 L537.4 653.4 L535.4 652.4 L533.3 651.4 L531.3 650.3 L529.3 649.3 L527.3 648.3 L525.3 647.2 L523.2 646.1 L521.2 645.0 L519.2 643.9 L517.2 642.8 L515.2 641.7 L513.2 640.5 L511.2 639.4 L509.2 638.2 L507.2 637.0 L505.2 635.8 L503.2 634.6 L501.2 633.4 L499.2 632.2 L497.2 630.9 L495.2 629.7 L493.3 628.4 L491.3 627.1 L489.3 625.8 L487.3 624.5 L485.4 623.2 L483.4 621.9 L481.4 620.5 L479.5 619.2 L477.5 617.8 L475.5 616.4 L473.6 615.0 L471.6 613.6 L469.7 612.2 L467.7 610.8 L465.8 609.3 L463.8 607.9 L461.9 606.4 L460.0 604.9 L458.0 603.4 L456.1 601.9 L454.2 600.4 L452.2 598.9 L450.3 597.3 L448.4 595.8 L446.5 594.2 L444.6 592.6 L442.7 591.0 L440.8 589.4 L438.9 587.8 L437.0 586.1 L435.1 584.5 L433.2 582.8 L431.3 581.2 L429.4 579.5 L427.5 577.8 L425.6 576.1 L423.8 574.4 L421.9 572.6 L420.0 570.9 L418.2 569.1 L416.3 567.4 L414.4 565.6 L412.6 563.8 L410.7 562.0 L408.9 560.1 L407.1 558.3 L405.2 556.5 L403.4 554.6 L401.6 552.7 L399.7 550.9 L397.9 549.0 L396.1 547.1 L394.3 545.1 L392.5 543.2 L390.7 541.3 L388.9 539.3 L387.1 537.3 L385.3 535.4 L383.5 533.4 L381.7 531.4 L380.0 529.3 L378.2 527.3 L376.4 525.3 L374.6 523.2 L372.9 521.2 L371.1 519.1 L369.4 517.0 L367.6 514.9 L365.9 512.8 L364.2 510.6 L362.4 508.5 L360.7 506.4 L359.0 504.2 L357.3 502.0 L355.6 499.8 L353.9 497.6 L352.2 495.4 L350.5 493.2 L348.8 491.0 L347.1 488.7 L345.4 486.5 L343.7 484.2 L342.1 481.9 L340.4 479.6 L338.7 477.3 L337.1 475.0 L335.4 472.7 L333.8 470.3 L332.2 468.0 L330.5 465.6 L328.9 463.3 L327.3 460.9 L325.7 458.5 L324.1 456.1 L322.5 453.6 L320.9 451.2 L319.3 448.8 L317.7 446.3 L316.1 443.8 L314.6 441.4 L313.0 438.9 L311.4 436.4 L309.9 433.9 L308.3 431.3 L306.8 428.8 L305.3 426.3 L303.7 423.7 L302.2 421.1 L300.7 418.6 L299.2 416.0 L297.7 413.4 L296.2 410.8 L294.7 408.1 L293.2 405.5 L291.7 402.9 L290.3 400.2 L288.8 397.5 L287.4 394.9 L285.9 392.2 L284.5 389.5 L283.0 386.8 L281.6 384.0 L280.2 381.3 L278.8 378.6 L277.4 375.8 L276.0 373.1 L274.6 370.3 L273.2 367.5 L271.8 364.7 L270.4 361.9 L269.1 359.1 L267.7 356.3 L266.4 353.4 L265.0 350.6 L263.7 347.7 L262.4 344.9 L261.0 342.0 L259.7 339.1 L258.4 336.2 L257.1 333.3 L255.9 330.4 L254.6 327.5 L253.3 324.6 L252.0 321.6 L250.8 318.7 L249.5 315.7 L248.3 312.7 L247.1 309.8 L245.8 306.8 L244.6 303.8 L243.4 300.8 L242.2 297.7 L241.0 294.7 L239.8 291.7 L238.7 288.6 L237.5 285.6 L236.4 282.5 L235.2 279.5 L234.1 276.4 L232.9 273.3 L231.8 270.2 L230.7 267.1 L229.6 264.0 L228.5 260.9 L227.4 257.7 L226.3 254.6 L225.3 251.4 L224.2 248.3 L223.1 245.1 L222.1 241.9 L221.1 238.8 L220.0 235.6 L219.0 232.4 L218.0 229.2 L217.0 226.0 L216.0 222.7 L215.1 219.5 L214.1 216.3 L213.1 213.0 L212.2 209.8 L211.2 206.5 L210.3 203.3 L209.4 200.0 L208.5 196.7 L207.5 193.4 L206.7 190.2 L205.8 186.9 L204.9 183.5 L204.0 180.2 L203.2 176.9 L202.3 173.6 L201.5 170.3 L200.7 166.9 L199.8 163.6 L199.0 160.2 L198.2 156.9 L197.4 153.5 L196.7 150.1 L195.9 146.8 L195.1 143.4 L194.4 140.0 L193.7 136.6 L192.9 133.2 L192.2 129.8 L191.5 126.4 L190.8 123.0 L190.1 119.6 L189.4 116.1 L188.8 112.7 L188.1 109.3 L187.5 105.8 L186.8 102.4 L186.2 98.9 L185.6 95.5 L185.0 92.0 L184.4 88.5 L183.8 85.1 L183.2 81.6 L182.7 78.1 L182.1 74.6 L181.6 71.2 L181.0 67.7 L180.5 64.2 L180.0 60.7 L179.5 57.2 L179.0 53.7 L178.6 50.2 L178.1 46.7 L177.6 43.1 L177.2 39.6 L176.7 36.1 L176.3 32.6 L175.9 29.0 L175.5 25.5 L175.1 22.0 L174.7 18.4 L174.4 14.9 L174.0 11.4 L173.7 7.8 L173.3 4.3 L173.0 0.7 L172.7 -2.8 L172.4 -6.4 L172.1 -9.9 L171.8 -13.5 L171.5 -17.0 L171.3 -20.6 L171.0 -24.2 L170.8 -27.7 L170.5 -31.3 L170.3 -34.9 L170.1 -38.4"/>
<path d="M680.1 691.9 L681.3 691.7 L682.5 691.5 L683.7 691.4 L685.0 691.2 L686.2 691.0 L687.4 690.8 L688.6 690.5 L689.8 690.3 L691.0 690.1 L692.3 689.8 L693.5 689.5 L694.7 689.2 L695.9 688.9 L697.1 688.6 L698.3 688.3 L699.6 688.0 L700.8 687.6 L702.0 687.2 L703.2 686.9 L704.4 686.5 L705.6 686.1 L706.9 685.7 L708.1 685.2 L709.3 684.8 L710.5 684.3 L711.7 683.9 L712.9 683.4 L714.1 682.9 L715.3 682.4 L716.6 681.9 L717.8 681.4 L719.0 680.8 L720.2 680.3 L721.4 679.7 L722.6 679.1 L723.8 678.5 L725.0 677.9 L726.2 677.3 L727.4 676.7 L728.6 676.0 L729.8 675.4 L731.1 674.7 L732.3 674.0 L733.5 673.3 L734.7 672.6 L735.9 671.9 L737.1 671.2 L738.3 670.4 L739.5 669.7 L740.7 668.9 L741.9 668.1 L743.1 667.3 L744.3 666.5 L745.5 665.7 L746.7 664.8 L747.8 664.0 L749.0 663.1 L750.2 662.3 L751.4 661.4 L752.6 660.5 L753.8 659.6 L755.0 658.6 L756.2 657.7 L757.4 656.8 L758.6 655.8 L759.8 654.8 L760.9 653.8 L762.1 652.8 L763.3 651.8 L764.5 650.8 L765.7 649.8 L766.8 648.7 L768.0 647.7 L769.2 646.6 L770.4 645.5 L771.6 644.4 L772.7 643.3 L773.9 642.2 L775.1 641.0 L776.2 639.9 L777.4 638.7 L778.6 637.5 L779.7 636.3 L780.9 635.1 L782.1 633.9 L783.2 632.7 L784.4 631.5 L785.6 630.2 L786.7 628.9 L787.9 627.7 L789.0 626.4 L790.2 625.1 L791.3 623.8 L792.5 622.4 L793.6 621.1 L794.8 619.7 L795.9 618.4 L797.1 617.0 L798.2 615.6 L799.4 614.2 L800.5 612.8 L801.7 611.4 L802.8 609.9 L803.9 608.5 L805.1 607.0 L806.2 605.5 L807.3 604.0 L808.5 602.5 L809.6 601.0 L810.7 599.5 L811.8 597.9 L813.0 596.4 L814.1 594.8 L815.2 593.2 L816.3 591.6 L817.4 590.0 L818.5 588.4 L819.6 586.8 L820.8 585.1 L821.9 583.5 L823.0 581.8 L824.1 580.1 L825.2 578.5 L826.3 576.8 L827.4 575.0 L828.5 573.3 L829.6 571.6 L830.6 569.8 L831.7 568.0 L832.8 566.3 L833.9 564.5 L835.0 562.7 L836.1 560.9 L837.1 559.0 L838.2 557.2 L839.3 555.3 L840.4 553.5 L841.4 551.6 L842.5 549.7 L843.6 547.8 L844.6 545.9 L845.7 544.0 L846.7 542.0 L847.8 540.1 L848.8 538.1 L849.9 536.1 L850.9 534.1 L852.0 532.1 L853.0 530.1 L854.1 528.1 L855.1 526.1 L856.1 524.0 L857.2 522.0 L858.2 519.9 L859.2 517.8 L860.2 515.7 L861.3 513.6 L862.3 511.5 L863.3 509.3 L864.3 507.2 L865.3 505.0 L866.3 502.9 L867.3 500.7 L868.3 498.5 L869.3 496.3 L870.3 494.1 L871.3 491.9 L872.3 489.6 L873.3 487.4 L874.3 485.1 L875.2 482.8 L876.2 480.5 L877.2 478.2 L878.2 475.9 L879.1 473.6 L880.1 471.3 L881.1 468.9 L882.0 466.6 L883.0 464.2 L883.9 461.8 L884.9 459.4 L885.8 457.0 L886.7 454.6 L887.7 452.2 L888.6 449.7 L889.5 447.3 L890.5 444.8 L891.4 442.4 L892.3 439.9 L893.2 437.4 L894.1 434.9 L895.1 432.3 L896.0 429.8 L896.9 427.3 L897.8 424.7 L898.7 422.2 L899.5 419.6 L900.4 417.0 L901.3 414.4 L902.2 411.8 L903.1 409.2 L903.9 406.6 L904.8 403.9 L905.7 401.3 L906.5 398.6 L907.4 395.9 L908.2 393.3 L909.1 390.6 L909.9 387.9 L910.8 385.2 L911.6 382.4 L912.5 379.7 L913.3 376.9 L914.1 374.2 L914.9 371.4 L915.7 368.6 L916.6 365.9 L917.4 363.1 L918.2 360.3 L919.0 357.4 L919.8 354.6 L920.5 351.8 L921.3 348.9 L922.1 346.1 L922.9 343.2 L923.7 340.3 L924.4 337.4 L925.2 334.5 L926.0 331.6 L926.7 328.7 L927.5 325.8 L928.2 322.8 L929.0 319.9 L929.7 316.9 L930.4 314.0 L931.1 311.0 L931.9 308.0 L932.6 305.0 L933.3 302.0 L934.0 299.0 L934.7 296.0 L935.4 293.0 L936.1 289.9 L936.8 286.9 L937.5 283.8 L938.2 280.8 L938.8 277.7 L939.5 274.6 L940.2 271.5 L940.8 268.4 L941.5 265.3 L942.1 262.2 L942.8 259.1 L943.4 255.9 L944.1 252.8 L944.7 249.6 L945.3 246.5 L945.9 243.3 L946.5 240.1 L947.1 236.9 L947.7 233.8 L948.3 230.6 L948.9 227.3 L949.5 224.1 L950.1 220.9 L950.7 217.7 L951.3 214.4 L951.8 211.2 L952.4 207.9 L952.9 204.7 L953.5 201.4 L954.0 198.1 L954.6 194.9 L955.1 191.6 L955.6 188.3 L956.2 185.0 L956.7 181.7 L957.2 178.4 L957.7 175.0 L958.2 171.7 L958.7 168.4 L959.2 165.0 L959.6 161.7 L960.1 158.3 L960.6 155.0 L961.1 151.6 L961.5 148.2 L962.0 144.9 L962.4 141.5 L962.9 138.1 L963.3 134.7 L963.7 131.3 L964.2 127.9 L964.6 124.5 L965.0 121.1 L965.4 117.6 L965.8 114.2 L966.2 110.8 L966.6 107.3 L967.0 103.9 L967.3 100.4 L967.7 97.0 L968.1 93.5 L968.4 90.1 L968.8 86.6 L969.1 83.1 L969.5 79.7 L969.8 76.2 L970.1 72.7 L970.5 69.2 L970.8 65.7 L971.1 62.2 L971.4 58.7 L971.7 55.2 L972.0 51.7 L972.3 48.2 L972.5 44.7 L972.8 41.2 L973.1 37.7 L973.3 34.1 L973.6 30.6 L973.8 27.1 L974.1 23.5 L974.3 20.0 L974.5 16.5 L974.8 12.9 L975.0 9.4 L975.2 5.8 L975.4 2.3 L975.6 -1.3 L975.8 -4.8 L976.0 -8.4 L976.1 -11.9 L976.3 -15.5 L976.5 -19.0 L976.6 -22.6 L976.8 -26.2 L976.9 -29.7 L977.1 -33.3 L977.2 -36.9"/>
<path d="M680.1 691.9 L682.7 691.7 L685.3 691.6 L687.9 691.5 L690.5 691.4 L693.1 691.2 L695.8 691.1 L698.4 690.9 L701.0 690.7 L703.6 690.5 L706.2 690.3 L708.8 690.0 L711.4 689.8 L714.0 689.5 L716.6 689.3 L719.2 689.0 L721.9 688.7 L724.5 688.4 L727.1 688.1 L729.7 687.8 L732.3 687.4 L734.9 687.1 L737.5 686.7 L740.1 686.3 L742.7 685.9 L745.3 685.5 L747.9 685.1 L750.5 684.6 L753.1 684.2 L755.7 683.7 L758.3 683.3 L760.9 682.8 L763.5 682.3 L766.1 681.8 L768.7 681.3 L771.3 680.7 L773.9 680.2 L776.5 679.6 L779.0 679.1 L781.6 678.5 L784.2 677.9 L786.8 677.3 L789.4 676.6 L792.0 676.0 L794.6 675.4 L797.1 674.7 L799.7 674.0 L802.3 673.3 L804.9 672.6 L807.4 671.9 L810.0 671.2 L812.6 670.5 L815.2 669.7 L817.7 668.9 L820.3 668.2 L822.9 667.4 L825.4 666.6 L828.0 665.8 L830.5 664.9 L833.1 664.1 L835.7 663.3 L838.2 662.4 L840.8 661.5 L843.3 660.6 L845.9 659.7 L848.4 658.8 L851.0 657.9 L853.5 656.9 L856.0 656.0 L858.6 655.0 L861.1 654.0 L863.6 653.0 L866.2 652.0 L868.7 651.0 L871.2 650.0 L873.7 648.9 L876.3 647.9 L878.8 646.8 L881.3 645.7 L883.8 644.6 L886.3 643.5 L888.8 642.4 L891.3 641.3 L893.8 640.1 L896.3 639.0 L898.8 637.8 L901.3 636.6 L903.8 635.4 L906.3 634.2 L908.8 633.0 L911.3 631.8 L913.8 630.5 L916.2 629.3 L918.7 628.0 L921.2 626.7 L923.6 625.4 L926.1 624.1 L928.6 622.8 L931.0 621.5 L933.5 620.1 L935.9 618.8 L938.4 617.4 L940.8 616.0 L943.3 614.6 L945.7 613.2 L948.1 611.8 L950.6 610.3 L953.0 608.9 L955.4 607.4 L957.8 605.9 L960.2 604.5 L962.6 603.0 L965.1 601.5 L967.5 599.9 L969.9 598.4 L972.3 596.8 L974.6 595.3 L977.0 593.7 L979.4 592.1 L981.8 590.5 L984.2 588.9 L986.5 587.3 L988.9 585.7 L991.3 584.0 L993.6 582.3 L996.0 580.7 L998.3 579.0 L1000.7 577.3 L1003.0 575.6 L1005.3 573.8 L1007.7 572.1 L1010.0 570.4 L1012.3 568.6 L1014.6 566.8 L1016.9 565.0 L1019.3 563.2 L1021.6 561.4 L1023.9 559.6 L1026.1 557.8 L1028.4 555.9 L1030.7 554.0 L1033.0 552.2 L1035.3 550.3 L1037.5 548.4 L1039.8 546.5 L1042.0 544.6 L1044.3 542.6 L1046.5 540.7 L1048.8 538.7 L1051.0 536.7 L1053.2 534.8 L1055.5 532.8 L1057.7 530.8 L1059.9 528.7 L1062.1 526.7 L1064.3 524.7 L1066.5 522.6 L1068.7 520.5 L1070.9 518.4 L1073.0 516.3 L1075.2 514.2 L1077.4 512.1 L1079.5 510.0 L1081.7 507.8 L1083.8 505.7 L1086.0 503.5 L1088.1 501.4 L1090.2 499.2 L1092.3 497.0 L1094.5 494.7 L1096.6 492.5 L1098.7 490.3 L1100.8 488.0 L1102.8 485.8 L1104.9 483.5 L1107.0 481.2 L1109.1 478.9 L1111.1 476.6 L1113.2 474.3 L1115.2 471.9 L1117.3 469.6 L1119.3 467.2 L1121.3 464.9 L1123.3 462.5 L1125.3 460.1 L1127.3 457.7 L1129.3 455.3 L1131.3 452.9 L1133.3 450.4 L1135.3 448.0 L1137.2 445.5 L1139.2 443.0 L1141.2 440.6 L1143.1 438.1 L1145.0 435.6 L1147.0 433.1 L1148.9 430.5 L1150.8 428.0 L1152.7 425.4 L1154.6 422.9 L1156.5 420.3 L1158.4 417.7 L1160.2 415.1 L1162.1 412.5 L1163.9 409.9 L1165.8 407.3 L1167.6 404.6 L1169.5 402.0 L1171.3 399.3 L1173.1 396.7 L1174.9 394.0 L1176.7 391.3 L1178.5 388.6 L1180.2 385.9 L1182.0 383.1 L1183.8 380.4 L1185.5 377.7 L1187.3 374.9 L1189.0 372.1 L1190.7 369.4 L1192.4 366.6 L1194.1 363.8 L1195.8 361.0 L1197.5 358.1 L1199.2 355.3 L1200.9 352.5 L1202.5 349.6 L1204.2 346.8 L1205.8 343.9 L1207.4 341.0 L1209.1 338.1 L1210.7 335.2 L1212.3 332.3 L1213.9 329.4 L1215.4 326.5 L1217.0 323.5 L1218.6 320.6 L1220.1 317.6 L1221.7 314.7 L1223.2 311.7 L1224.7 308.7 L1226.2 305.7 L1227.7 302.7 L1229.2 299.7 L1230.7 296.7 L1232.2 293.7 L1233.6 290.6 L1235.1 287.6 L1236.5 284.5 L1237.9 281.4 L1239.3 278.4 L1240.7 275.3 L1242.1 272.2 L1243.5 269.1 L1244.9 266.0 L1246.2 262.9 L1247.6 259.7 L1248.9 256.6 L1250.3 253.5 L1251.6 250.3 L1252.9 247.2 L1254.2 244.0 L1255.5 240.8 L1256.7 237.6 L1258.0 234.4 L1259.2 231.2 L1260.5 228.0 L1261.7 224.8 L1262.9 221.6 L1264.1 218.4 L1265.3 215.1 L1266.5 211.9 L1267.6 208.6 L1268.8 205.4 L1269.9 202.1 L1271.1 198.8 L1272.2 195.5 L1273.3 192.2 L1274.4 189.0 L1275.5 185.6 L1276.6 182.3 L1277.6 179.0 L1278.7 175.7 L1279.7 172.4 L1280.7 169.0 L1281.7 165.7 L1282.7 162.3 L1283.7 159.0 L1284.7 155.6 L1285.6 152.3 L1286.6 148.9 L1287.5 145.5 L1288.5 142.1 L1289.4 138.7 L1290.3 135.3 L1291.1 131.9 L1292.0 128.5 L1292.9 125.1 L1293.7 121.7 L1294.6 118.3 L1295.4 114.9 L1296.2 111.4 L1297.0 108.0 L1297.8 104.5 L1298.5 101.1 L1299.3 97.6 L1300.0 94.2 L1300.8 90.7 L1301.5 87.3 L1302.2 83.8 L1302.9 80.3 L1303.6 76.8 L1304.2 73.3 L1304.9 69.9 L1305.5 66.4 L1306.1 62.9 L1306.7 59.4 L1307.3 55.9 L1307.9 52.4 L1308.5 48.9 L1309.1 45.3 L1309.6 41.8 L1310.1 38.3 L1310.7 34.8 L1311.2 31.3 L1311.6 27.7 L1312.1 24.2 L1312.6 20.7 L1313.0 17.1 L1313.5 13.6 L1313.9 10.0 L1314.3 6.5 L1314.7 2.9 L1315.1 -0.6 L1315.4 -4.2 L1315.8 -7.7 L1316.1 -11.3 L1316.5 -14.8 L1316.8 -18.4 L1317.1 -21.9 L1317.4 -25.5 L1317.6 -29.1 L1317.9 -32.6 L1318.1 -36.2 L1318.4 -39.8"/>
<path d="M680.1 691.9 L683.4 691.8 L686.7 691.8 L690.0 691.7 L693.3 691.7 L696.6 691.6 L699.9 691.5 L703.2 691.4 L706.5 691.3 L709.8 691.1 L713.1 691.0 L716.4 690.8 L719.7 690.7 L723.1 690.5 L726.4 690.3 L729.7 690.1 L733.0 689.9 L736.3 689.6 L739.6 689.4 L742.9 689.1 L746.2 688.8 L749.5 688.6 L752.7 688.3 L756.0 688.0 L759.3 687.6 L762.6 687.3 L765.9 686.9 L769.2 686.6 L772.5 686.2 L775.8 685.8 L779.1 685.4 L782.4 685.0 L785.7 684.6 L788.9 684.2 L792.2 683.7 L795.5 683.2 L798.8 682.8 L802.1 682.3 L805.3 681.8 L808.6 681.3 L811.9 680.7 L815.2 680.2 L818.4 679.7 L821.7 679.1 L825.0 678.5 L828.3 677.9 L831.5 677.3 L834.8 676.7 L838.0 676.1 L841.3 675.4 L844.6 674.8 L847.8 674.1 L851.1 673.4 L854.3 672.7 L857.6 672.0 L860.8 671.3 L864.1 670.6 L867.3 669.8 L870.5 669.1 L873.8 668.3 L877.0 667.5 L880.2 666.7 L883.5 665.9 L886.7 665.1 L889.9 664.3 L893.1 663.4 L896.4 662.6 L899.6 661.7 L902.8 660.8 L906.0 659.9 L909.2 659.0 L912.4 658.1 L915.6 657.2 L918.8 656.2 L922.0 655.3 L925.2 654.3 L928.4 653.3 L931.6 652.3 L934.8 651.3 L938.0 650.3 L941.1 649.2 L944.3 648.2 L947.5 647.1 L950.7 646.0 L953.8 644.9 L957.0 643.8 L960.1 642.7 L963.3 641.6 L966.4 640.5 L969.6 639.3 L972.7 638.2 L975.9 637.0 L979.0 635.8 L982.1 634.6 L985.3 633.4 L988.4 632.1 L991.5 630.9 L994.6 629.6 L997.7 628.4 L1000.8 627.1 L1003.9 625.8 L1007.0 624.5 L1010.1 623.2 L1013.2 621.8 L1016.3 620.5 L1019.4 619.1 L1022.4 617.8 L1025.5 616.4 L1028.6 615.0 L1031.6 613.6 L1034.7 612.2 L1037.8 610.7 L1040.8 609.3 L1043.8 607.8 L1046.9 606.4 L1049.9 604.9 L1052.9 603.4 L1056.0 601.9 L1059.0 600.4 L1062.0 598.8 L1065.0 597.3 L1068.0 595.7 L1071.0 594.2 L1074.0 592.6 L1077.0 591.0 L1079.9 589.4 L1082.9 587.7 L1085.9 586.1 L1088.8 584.5 L1091.8 582.8 L1094.7 581.1 L1097.7 579.4 L1100.6 577.7 L1103.6 576.0 L1106.5 574.3 L1109.4 572.6 L1112.3 570.8 L1115.2 569.1 L1118.1 567.3 L1121.0 565.5 L1123.9 563.7 L1126.8 561.9 L1129.7 560.1 L1132.5 558.2 L1135.4 556.4 L1138.3 554.5 L1141.1 552.7 L1143.9 550.8 L1146.8 548.9 L1149.6 547.0 L1152.4 545.0 L1155.2 543.1 L1158.0 541.2 L1160.8 539.2 L1163.6 537.2 L1166.4 535.2 L1169.2 533.2 L1172.0 531.2 L1174.7 529.2 L1177.5 527.2 L1180.2 525.1 L1183.0 523.1 L1185.7 521.0 L1188.4 518.9 L1191.1 516.8 L1193.8 514.7 L1196.5 512.6 L1199.2 510.5 L1201.9 508.3 L1204.6 506.2 L1207.3 504.0 L1209.9 501.8 L1212.6 499.6 L1215.2 497.4 L1217.8 495.2 L1220.5 493.0 L1223.1 490.7 L1225.7 488.5 L1228.3 486.2 L1230.9 483.9 L1233.5 481.6 L1236.0 479.3 L1238.6 477.0 L1241.2 474.7 L1243.7 472.4 L1246.2 470.0 L1248.8 467.7 L1251.3 465.3 L1253.8 462.9 L1256.3 460.5 L1258.8 458.1 L1261.2 455.7 L1263.7 453.3 L1266.2 450.8 L1268.6 448.4 L1271.1 445.9 L1273.5 443.4 L1275.9 440.9 L1278.3 438.4 L1280.7 435.9 L1283.1 433.4 L1285.5 430.9 L1287.9 428.3 L1290.2 425.8 L1292.6 423.2 L1294.9 420.6 L1297.2 418.1 L1299.5 415.5 L1301.8 412.9 L1304.1 410.2 L1306.4 407.6 L1308.7 405.0 L1310.9 402.3 L1313.2 399.6 L1315.4 397.0 L1317.7 394.3 L1319.9 391.6 L1322.1 388.9 L1324.3 386.1 L1326.5 383.4 L1328.6 380.7 L1330.8 377.9 L1332.9 375.2 L1335.1 372.4 L1337.2 369.6 L1339.3 366.8 L1341.4 364.0 L1343.5 361.2 L1345.6 358.4 L1347.6 355.5 L1349.7 352.7 L1351.7 349.9 L1353.7 347.0 L1355.7 344.1 L1357.7 341.2 L1359.7 338.3 L1361.7 335.4 L1363.7 332.5 L1365.6 329.6 L1367.5 326.7 L1369.5 323.7 L1371.4 320.8 L1373.3 317.8 L1375.2 314.8 L1377.0 311.9 L1378.9 308.9 L1380.7 305.9 L1382.6 302.9 L1384.4 299.8 L1386.2 296.8 L1388.0 293.8 L1389.8 290.7 L1391.5 287.7 L1393.3 284.6 L1395.0 281.5 L1396.7 278.5 L1398.4 275.4 L1400.1 272.3 L1401.8 269.2 L1403.5 266.1 L1405.1 262.9 L1406.8 259.8 L1408.4 256.7 L1410.0 253.5 L1411.6 250.3 L1413.2 247.2 L1414.7 244.0 L1416.3 240.8 L1417.8 237.6 L1419.4 234.4 L1420.9 231.2 L1422.4 228.0 L1423.8 224.8 L1425.3 221.6 L1426.7 218.3 L1428.2 215.1 L1429.6 211.8 L1431.0 208.6 L1432.4 205.3"/>
<path d="M1431.6 231.9 L1430.2 235.0 L1428.7 238.0 L1427.3 241.1 L1425.8 244.1 L1424.3 247.2 L1422.8 250.2 L1421.3 253.2 L1419.8 256.3 L1418.2 259.3 L1416.7 262.3 L1415.1 265.3 L1413.5 268.3 L1411.9 271.3 L1410.3 274.3 L1408.6 277.2 L1407.0 280.2 L1405.3 283.2 L1403.7 286.1 L1402.0 289.1 L1400.3 292.0 L1398.6 295.0 L1396.8 297.9 L1395.1 300.8 L1393.3 303.7 L1391.6 306.6 L1389.8 309.5 L1388.0 312.4 L1386.2 315.3 L1384.4 318.2 L1382.5 321.1 L1380.7 323.9 L1378.8 326.8 L1377.0 329.6 L1375.1 332.5 L1373.2 335.3 L1371.2 338.1 L1369.3 340.9 L1367.4 343.7 L1365.4 346.5 L1363.5 349.3 L1361.5 352.1 L1359.5 354.9 L1357.5 357.7 L1355.5 360.4 L1353.4 363.2 L1351.4 365.9 L1349.3 368.7 L1347.3 371.4 L1345.2 374.1 L1343.1 376.8 L1341.0 379.5 L1338.9 382.2 L1336.7 384.9 L1334.6 387.6 L1332.4 390.2 L1330.2 392.9 L1328.1 395.5 L1325.9 398.2 L1323.7 400.8 L1321.4 403.4 L1319.2 406.0 L1317.0 408.6 L1314.7 411.2 L1312.4 413.8 L1310.2 416.4 L1307.9 419.0 L1305.6 421.5 L1303.2 424.1 L1300.9 426.6 L1298.6 429.1 L1296.2 431.7 L1293.9 434.2 L1291.5 436.7 L1289.1 439.2 L1286.7 441.6 L1284.3 444.1 L1281.9 446.6 L1279.4 449.0 L1277.0 451.5 L1274.5 453.9 L1272.1 456.3 L1269.6 458.7 L1267.1 461.1 L1264.6 463.5 L1262.1 465.9 L1259.6 468.3 L1257.0 470.6 L1254.5 473.0 L1251.9 475.3 L1249.4 477.6 L1246.8 480.0 L1244.2 482.3 L1241.6 484.6 L1239.0 486.8 L1236.4 489.1 L1233.7 491.4 L1231.1 493.6 L1228.4 495.9 L1225.8 498.1 L1223.1 500.3 L1220.4 502.5 L1217.7 504.7 L1215.0 506.9 L1212.3 509.1 L1209.6 511.3 L1206.9 513.4 L1204.1 515.6 L1201.4 517.7 L1198.6 519.8 L1195.8 521.9 L1193.0 524.0 L1190.2 526.1 L1187.4 528.2 L1184.6 530.3 L1181.8 532.3 L1179.0 534.4 L1176.1 536.4 L1173.3 538.4 L1170.4 540.4 L1167.5 542.4 L1164.7 544.4 L1161.8 546.4 L1158.9 548.3 L1156.0 550.3 L1153.1 552.2 L1150.1 554.1 L1147.2 556.1 L1144.3 558.0 L1141.3 559.8 L1138.3 561.7 L1135.4 563.6 L1132.4 565.4 L1129.4 567.3 L1126.4 569.1 L1123.4 570.9 L1120.4 572.7 L1117.4 574.5 L1114.4 576.3 L1111.3 578.1 L1108.3 579.8 L1105.2 581.5 L1102.2 583.3 L1099.1 585.0 L1096.0 586.7 L1092.9 588.4 L1089.8 590.1 L1086.7 591.7 L1083.6 593.4 L1080.5 595.0 L1077.4 596.7 L1074.3 598.3 L1071.1 599.9 L1068.0 601.5 L1064.8 603.0 L1061.7 604.6 L1058.5 606.2 L1055.3 607.7 L1052.1 609.2 L1048.9 610.7 L1045.7 612.2 L1042.5 613.7 L1039.3 615.2 L1036.1 616.6 L1032.9 618.1 L1029.7 619.5 L1026.4 620.9 L1023.2 622.3 L1019.9 623.7 L1016.7 625.1 L1013.4 626.5 L1010.1 627.8 L1006.9 629.2 L1003.6 630.5 L1000.3 631.8 L997.0 633.1 L993.7 634.4 L990.4 635.7 L987.1 636.9 L983.8 638.2 L980.4 639.4 L977.1 640.6 L973.8 641.8 L970.4 643.0 L967.1 644.2 L963.7 645.4 L960.4 646.5 L957.0 647.7 L953.6 648.8 L950.3 649.9 L946.9 651.0 L943.5 652.1 L940.1 653.1 L936.7 654.2 L933.3 655.2 L929.9 656.3 L926.5 657.3 L923.1 658.3 L919.7 659.3 L916.3 660.2 L912.8 661.2 L909.4 662.1 L906.0 663.1 L902.5 664.0 L899.1 664.9 L895.6 665.8 L892.2 666.6 L888.7 667.5 L885.3 668.3 L881.8 669.2 L878.3 670.0 L874.9 670.8 L871.4 671.6 L867.9 672.3 L864.4 673.1 L861.0 673.9 L857.5 674.6 L854.0 675.3 L850.5 676.0 L847.0 676.7 L843.5 677.4 L840.0 678.0 L836.5 678.7 L832.9 679.3 L829.4 679.9 L825.9 680.5 L822.4 681.1 L818.9 681.7 L815.3 682.2 L811.8 682.8 L808.3 683.3 L804.8 683.8 L801.2 684.3 L797.7 684.8 L794.1 685.3 L790.6 685.8 L787.1 686.2 L783.5 686.6 L780.0 687.0 L776.4 687.4 L772.9 687.8 L769.3 688.2 L765.8 688.6 L762.2 688.9 L758.6 689.2 L755.1 689.5 L751.5 689.8 L748.0 690.1 L744.4 690.4 L740.8 690.6 L737.3 690.9 L733.7 691.1 L730.1 691.3 L726.5 691.5 L723.0 691.7 L719.4 691.9 L715.8 692.0 L712.3 692.2 L708.7 692.3 L705.1 692.4 L701.5 692.5 L698.0 692.6 L694.4 692.6 L690.8 692.7 L687.2 692.7 L683.7 692.7 L680.1 692.8 L676.5 692.7 L672.9 692.7 L669.4 692.7 L665.8 692.6 L662.2 692.6 L658.6 692.5 L655.1 692.4 L651.5 692.3 L647.9 692.2 L644.3 692.0 L640.8 691.9 L637.2 691.7 L633.6 691.5 L630.1 691.3 L626.5 691.1 L622.9 690.9 L619.4 690.6 L615.8 690.4 L612.2 690.1 L608.7 689.8 L605.1 689.5 L601.5 689.2 L598.0 688.9 L594.4 688.6 L590.9 688.2 L587.3 687.8 L583.8 687.4 L580.2 687.0 L576.7 686.6 L573.1 686.2 L569.6 685.8 L566.0 685.3 L562.5 684.8 L559.0 684.3 L555.4 683.8 L551.9 683.3 L548.4 682.8 L544.8 682.2 L541.3 681.7 L537.8 681.1 L534.3 680.5 L530.7 679.9 L527.2 679.3 L523.7 678.7 L520.2 678.0 L516.7 677.4 L513.2 676.7 L509.7 676.0 L506.2 675.3 L502.7 674.6 L499.2 673.9 L495.7 673.1 L492.3 672.3 L488.8 671.6 L485.3 670.8 L481.8 670.0 L478.4 669.2 L474.9 668.3 L471.4 667.5 L468.0 666.6 L464.5 665.8 L461.1 664.9 L457.6 664.0 L454.2 663.1 L450.8 662.1 L447.3 661.2 L443.9 660.2 L440.5 659.3 L437.1 658.3 L433.7 657.3 L430.3 656.3 L426.9 655.2 L423.5 654.2 L420.1 653.1 L416.7 652.1 L413.3 651.0 L409.9 649.9 L406.5 648.8 L403.2 647.7 L399.8 646.5 L396.4 645.4 L393.1 644.2 L389.7 643.0 L386.4 641.8 L383.1 640.6 L379.7 639.4 L376.4 638.2 L373.1 636.9 L369.8 635.7 L366.5 634.4 L363.2 633.1 L359.9 631.8 L356.6 630.5 L353.3 629.2 L350.0 627.8 L346.8 626.5 L343.5 625.1 L340.2 623.7 L337.0 622.3 L333.8 620.9 L330.5 619.5 L327.3 618.1 L324.1 616.6 L320.8 615.2 L317.6 613.7 L314.4 612.2 L311.2 610.7 L308.0 609.2 L304.9 607.7 L301.7 606.2 L298.5 604.6 L295.4 603.0 L292.2 601.5 L289.1 599.9 L285.9 598.3 L282.8 596.7 L279.7 595.0 L276.5 593.4 L273.4 591.7 L270.3 590.1 L267.2 588.4 L264.2 586.7 L261.1 585.0 L258.0 583.3 L255.0 581.5 L251.9 579.8 L248.9 578.1 L245.8 576.3 L242.8 574.5 L239.8 572.7 L236.8 570.9 L233.8 569.1 L230.8 567.3 L227.8 565.4 L224.8 563.6 L221.8 561.7 L218.9 559.8 L215.9 558.0 L213.0 556.1 L210.0 554.1 L207.1 552.2 L204.2 550.3 L201.3 548.3 L198.4 546.4 L195.5 544.4 L192.6 542.4 L189.8 540.4 L186.9 538.4 L184.1 536.4 L181.2 534.4 L178.4 532.3 L175.6 530.3 L172.7 528.2 L169.9 526.1 L167.1 524.0 L164.4 521.9 L161.6 519.8 L158.8 517.7 L156.1 515.6 L153.3 513.4 L150.6 511.3 L147.9 509.1 L145.2 506.9 L142.4 504.7 L139.8 502.5 L137.1 500.3 L134.4 498.1 L131.7 495.9 L129.1 493.6 L126.4 491.4 L123.8 489.1 L121.2 486.8 L118.6 484.6 L116.0 482.3 L113.4 480.0 L110.8 477.6 L108.3 475.3 L105.7 473.0 L103.1 470.6 L100.6 468.3 L98.1 465.9 L95.6 463.5 L93.1 461.1 L90.6 458.7 L88.1 456.3 L85.6 453.9 L83.2 451.5 L80.7 449.0 L78.3 446.6"/>
</g>
<path d="M680.1 691.9 L679.6 691.7 L679.1 691.5 L678.6 691.3 L678.1 691.1 L677.6 690.9 L677.1 690.7 L676.6 690.5 L676.1 690.2 L675.6 690.0 L675.1 689.7 L674.6 689.4 L674.1 689.1 L673.6 688.8 L673.1 688.5 L672.6 688.2 L672.1 687.8 L671.6 687.5 L671.0 687.1 L670.5 686.7 L670.0 686.3 L669.5 685.9 L669.0 685.5 L668.5 685.0 L668.0 684.6 L667.5 684.1 L667.0 683.6 L666.5 683.2 L666.0 682.7 L665.5 682.1 L665.0 681.6 L664.5 681.1 L664.0 680.5 L663.5 680.0 L663.0 679.4 L662.5 678.8 L662.0 678.2 L661.5 677.6 L661.0 677.0 L660.5 676.3 L660.0 675.7 L659.6 675.0 L659.1 674.3 L658.6 673.6 L658.1 672.9 L657.6 672.2 L657.1 671.5 L656.6 670.7 L656.1 670.0 L655.6 669.2 L655.1 668.5 L654.6 667.7 L654.1 666.9 L653.6 666.0 L653.1 665.2 L652.6 664.4 L652.1 663.5 L651.6 662.6 L651.1 661.8 L650.6 660.9 L650.2 660.0 L649.7 659.0 L649.2 658.1 L648.7 657.2 L648.2 656.2 L647.7 655.2 L647.2 654.3 L646.7 653.3 L646.2 652.3 L645.7 651.2 L645.3 650.2 L644.8 649.2 L644.3 648.1 L643.8 647.0 L643.3 645.9 L642.8 644.9 L642.3 643.7 L641.9 642.6 L641.4 641.5 L640.9 640.3 L640.4 639.2 L639.9 638.0 L639.4 636.8 L639.0 635.6 L638.5 634.4 L638.0 633.2 L637.5 632.0 L637.0 630.7 L636.6 629.5 L636.1 628.2 L635.6 626.9 L635.1 625.6 L634.6 624.3 L634.2 623.0 L633.7 621.6 L633.2 620.3 L632.7 618.9 L632.3 617.5 L631.8 616.2 L631.3 614.8 L630.9 613.3 L630.4 611.9 L629.9 610.5 L629.4 609.0 L629.0 607.6 L628.5 606.1 L628.0 604.6 L627.6 603.1 L627.1 601.6 L626.6 600.1 L626.2 598.5 L625.7 597.0 L625.2 595.4 L624.8 593.9 L624.3 592.3 L623.9 590.7 L623.4 589.1 L622.9 587.4 L622.5 585.8 L622.0 584.1 L621.6 582.5 L621.1 580.8 L620.7 579.1 L620.2 577.4 L619.7 575.7 L619.3 574.0 L618.8 572.2 L618.4 570.5 L617.9 568.7 L617.5 567.0 L617.0 565.2 L616.6 563.4 L616.2 561.6 L615.7 559.7 L615.3 557.9 L614.8 556.1 L614.4 554.2 L613.9 552.3 L613.5 550.4 L613.1 548.5 L612.6 546.6 L612.2 544.7 L611.7 542.8 L611.3 540.8 L610.9 538.9 L610.4 536.9 L610.0 534.9 L609.6 532.9 L609.1 530.9 L608.7 528.9 L608.3 526.9 L607.8 524.8 L607.4 522.8 L607.0 520.7 L606.6 518.6 L606.1 516.5 L605.7 514.4 L605.3 512.3 L604.9 510.2 L604.5 508.0 L604.0 505.9 L603.6 503.7 L603.2 501.5 L602.8 499.4 L602.4 497.2 L602.0 494.9 L601.6 492.7 L601.2 490.5 L600.8 488.2 L600.3 486.0 L599.9 483.7 L599.5 481.4 L599.1 479.1 L598.7 476.8 L598.3 474.5 L597.9 472.2 L597.5 469.8 L597.1 467.5 L596.7 465.1 L596.3 462.7 L596.0 460.4 L595.6 458.0 L595.2 455.5 L594.8 453.1 L594.4 450.7 L594.0 448.2 L593.6 445.8 L593.2 443.3 L592.9 440.8 L592.5 438.4 L592.1 435.9 L591.7 433.3 L591.4 430.8 L591.0 428.3 L590.6 425.7 L590.2 423.2 L589.9 420.6 L589.5 418.0 L589.1 415.4 L588.8 412.8 L588.4 410.2 L588.0 407.6 L587.7 405.0 L587.3 402.3 L587.0 399.7 L586.6 397.0 L586.3 394.3 L585.9 391.6 L585.6 388.9 L585.2 386.2 L584.9 383.5 L584.5 380.8 L584.2 378.0 L583.8 375.3 L583.5 372.5 L583.2 369.7 L582.8 367.0 L582.5 364.2 L582.1 361.4 L581.8 358.6 L581.5 355.7 L581.2 352.9 L580.8 350.1 L580.5 347.2 L580.2 344.3 L579.9 341.5 L579.5 338.6 L579.2 335.7 L578.9 332.8 L578.6 329.9 L578.3 326.9 L578.0 324.0 L577.7 321.1 L577.4 318.1 L577.1 315.2 L576.8 312.2 L576.5 309.2 L576.2 306.2 L575.9 303.2 L575.6 300.2 L575.3 297.2 L575.0 294.2 L574.7 291.1 L574.4 288.1 L574.1 285.0 L573.8 282.0 L573.6 278.9 L573.3 275.8 L573.0 272.7 L572.7 269.7 L572.5 266.5 L572.2 263.4 L571.9 260.3 L571.7 257.2 L571.4 254.0 L571.1 250.9 L570.9 247.7 L570.6 244.6 L570.4 241.4 L570.1 238.2 L569.9 235.0 L569.6 231.8 L569.4 228.6 L569.1 225.4 L568.9 222.2 L568.6 219.0 L568.4 215.7 L568.2 212.5 L567.9 209.3 L567.7 206.0 L567.5 202.7 L567.2 199.5 L567.0 196.2 L566.8 192.9 L566.6 189.6 L566.4 186.3 L566.1 183.0 L565.9 179.7 L565.7 176.4 L565.5 173.1 L565.3 169.7 L565.1 166.4 L564.9 163.0 L564.7 159.7 L564.5 156.3 L564.3 153.0 L564.1 149.6 L563.9 146.2 L563.7 142.8 L563.5 139.5 L563.4 136.1 L563.2 132.7 L563.0 129.3 L562.8 125.9 L562.7 122.4 L562.5 119.0 L562.3 115.6 L562.2 112.2 L562.0 108.7 L561.8 105.3 L561.7 101.8 L561.5 98.4 L561.4 94.9 L561.2 91.5 L561.1 88.0 L560.9 84.5 L560.8 81.1 L560.6 77.6 L560.5 74.1 L560.4 70.6 L560.2 67.1 L560.1 63.6 L560.0 60.1 L559.8 56.6 L559.7 53.1 L559.6 49.6 L559.5 46.1 L559.4 42.6 L559.3 39.1 L559.1 35.6 L559.0 32.0 L558.9 28.5 L558.8 25.0 L558.7 21.4 L558.6 17.9 L558.5 14.4 L558.5 10.8 L558.4 7.3 L558.3 3.7 L558.2 0.2 L558.1 -3.4 L558.0 -6.9 L558.0 -10.5 L557.9 -14.0 L557.8 -17.6 L557.7 -21.2 L557.7 -24.7 L557.6 -28.3 L557.6 -31.8 L557.5 -35.4 L557.4 -39.0" fill="none" stroke="#ee3e00" stroke-width="3"/>
</g>
<g font-family="'Liberation Sans', sans-serif" fill="#000" style="font-kerning:none">
<g font-size="36.8" text-anchor="end">
<text x="129.4" y="156.1">10</text>
<text x="129.4" y="402.9">5</text>
<text x="129.4" y="649.7">0</text>
<text x="129.4" y="896.5">-5</text>
<text x="129.4" y="1143.3">-10</text>
</g>
<g font-size="36.8" text-anchor="middle">
<text x="263.1" y="1300">-10</text>
<text x="509.9" y="1300">-5</text>
<text x="756.4" y="1300">0</text>
<text x="1003.3" y="1300">5</text>
<text x="1250.1" y="1300">10</text>
<text x="754.8" y="1338.8">X (arcsec)</text>
<text transform="translate(47.1 638.1) rotate(-90)">Y (arcsec)</text>
</g>
<text x="1388.9" y="63.5" font-size="53.3">Jupiter</text>
<g font-size="33.4">
<text x="1388.4" y="133.3">Date : 2016-12-05</text>
<text x="1388.4" y="174.5">21:38:29 (Earth)</text>
<text x="1388.4" y="216.6">20:49:07 (Target)</text>
</g>
<text x="1389.2" y="283.4" font-size="30.1" fill="#000" xml:space="preserve" style="white-space:pre">Ephemeris :</text>
<text x="1389.2" y="328.5" font-size="30.1" fill="#000" xml:space="preserve" style="white-space:pre">d (UA)    = 5.93</text>
<text x="1389.5" y="370.2" font-size="31" fill="#000" font-family="'Liberation Serif', 'DejaVu Serif', serif">λ</text>
<text x="1408.2" y="375.4" font-size="13.5" fill="#000">sub-Earth</text>
<text x="1475.6" y="370.2" font-size="30.1" fill="#000" xml:space="preserve" style="white-space:pre">(<tspan font-size="12.5" dy="-11">o</tspan><tspan dy="11">)</tspan></text>
<text x="1508.4" y="370.2" font-size="30.1" fill="#000" xml:space="preserve" style="white-space:pre">= -2.61</text>
<text x="1389.5" y="412.9" font-size="31" fill="#000" font-family="'Liberation Serif', 'DejaVu Serif', serif">α</text>
<text x="1412.0" y="418.1" font-size="13.5" fill="#000">Earth-Sun</text>
<text x="1479.7" y="412.9" font-size="30.1" fill="#000" xml:space="preserve" style="white-space:pre">(<tspan font-size="12.5" dy="-11">o</tspan><tspan dy="11">)</tspan></text>
<text x="1513.6" y="412.9" font-size="30.1" fill="#000" xml:space="preserve" style="white-space:pre">= 8.66</text>
<text x="1389.0" y="455.0" font-size="30.1" fill="#000" xml:space="preserve" style="white-space:pre">CML</text>
<text x="1455.8" y="460.2" font-size="13.5" fill="#000">SIII</text>
<text x="1484.8" y="455.0" font-size="30.1" fill="#000" xml:space="preserve" style="white-space:pre">(<tspan font-size="12.5" dy="-11">o</tspan><tspan dy="11">)</tspan></text>
<text x="1518.7" y="455.0" font-size="30.1" fill="#000" xml:space="preserve" style="white-space:pre">= 30</text>
<text x="1389.2" y="497.0" font-size="30.1" fill="#000" xml:space="preserve" style="white-space:pre">LT</text>
<text x="1428.0" y="502.2" font-size="13.5" fill="#000">Io</text>
<text x="1446.9" y="497.0" font-size="30.1" fill="#000" xml:space="preserve" style="white-space:pre">(h) = 15.7</text>
<rect x="1388.3" y="293.5" width="167.9" height="1.6" fill="#000"/>
<text x="1389.6" y="563.4" font-size="30.1" fill="#999" xml:space="preserve" style="white-space:pre">HST Imaging :</text>
<text x="1389.6" y="609.1" font-size="30.1" fill="#999" xml:space="preserve" style="white-space:pre">STIS/FUV-MAMA</text>
<text x="1389.6" y="650.7" font-size="30.1" fill="#999" xml:space="preserve" style="white-space:pre">Filter : F25SRF2</text>
<text x="1389.6" y="693.0" font-size="30.1" fill="#999" xml:space="preserve" style="white-space:pre">Int. time (s) = 100</text>
<text x="1389.6" y="734.6" font-size="30.1" fill="#999" xml:space="preserve" style="white-space:pre">FOV (&quot;) = 53.82</text>
<text x="1389.6" y="777.0" font-size="30.1" fill="#999" xml:space="preserve" style="white-space:pre">Data : od8k19f11</text>
<rect x="1388.3" y="573.5" width="202.3" height="1.6" fill="#999"/>
<text x="1424.8" y="929.5" font-size="37">Flux</text>
<text transform="translate(1418.8 1098.5) rotate(-90)" font-size="30.1" text-anchor="middle">(counts.s<tspan font-size="13.5" dy="-13">-1</tspan><tspan dy="13">)</tspan></text>
<defs><linearGradient id="cb" gradientUnits="userSpaceOnUse" x1="0" y1="1253.2" x2="0" y2="945"><stop offset="0.00" stop-color="rgb(0,0,0)"/><stop offset="0.10" stop-color="rgb(0,0,26)"/><stop offset="0.20" stop-color="rgb(0,0,52)"/><stop offset="0.30" stop-color="rgb(0,0,90)"/><stop offset="0.40" stop-color="rgb(0,0,128)"/><stop offset="0.50" stop-color="rgb(0,36,168)"/><stop offset="0.60" stop-color="rgb(0,78,205)"/><stop offset="0.70" stop-color="rgb(0,140,250)"/><stop offset="0.80" stop-color="rgb(45,165,255)"/><stop offset="0.90" stop-color="rgb(150,210,255)"/><stop offset="1.00" stop-color="rgb(255,255,255)"/></linearGradient></defs>
<rect x="1436.6" y="945" width="47.6" height="308.2" fill="url(#cb)" stroke="#000" stroke-width="2"/>
<path d="M1436.6 1253.2 h6.5 M1484.2 1253.2 h-6.5 M1436.6 1237.8 h3.6 M1484.2 1237.8 h-3.6 M1436.6 1222.4 h3.6 M1484.2 1222.4 h-3.6 M1436.6 1207.0 h3.6 M1484.2 1207.0 h-3.6 M1436.6 1191.6 h6.5 M1484.2 1191.6 h-6.5 M1436.6 1176.2 h3.6 M1484.2 1176.2 h-3.6 M1436.6 1160.7 h3.6 M1484.2 1160.7 h-3.6 M1436.6 1145.3 h3.6 M1484.2 1145.3 h-3.6 M1436.6 1129.9 h6.5 M1484.2 1129.9 h-6.5 M1436.6 1114.5 h3.6 M1484.2 1114.5 h-3.6 M1436.6 1099.1 h3.6 M1484.2 1099.1 h-3.6 M1436.6 1083.7 h3.6 M1484.2 1083.7 h-3.6 M1436.6 1068.3 h6.5 M1484.2 1068.3 h-6.5 M1436.6 1052.9 h3.6 M1484.2 1052.9 h-3.6 M1436.6 1037.5 h3.6 M1484.2 1037.5 h-3.6 M1436.6 1022.1 h3.6 M1484.2 1022.1 h-3.6 M1436.6 1006.6 h6.5 M1484.2 1006.6 h-6.5 M1436.6 991.2 h3.6 M1484.2 991.2 h-3.6 M1436.6 975.8 h3.6 M1484.2 975.8 h-3.6 M1436.6 960.4 h3.6 M1484.2 960.4 h-3.6 M1436.6 945.0 h6.5 M1484.2 945.0 h-6.5 M1436.6 945 v5.2 M1438.5 945 v2.6 M1440.4 945 v2.6 M1442.3 945 v2.6 M1444.2 945 v2.6 M1446.1 945 v5.2 M1448.0 945 v2.6 M1449.9 945 v2.6 M1451.8 945 v2.6 M1453.7 945 v2.6 M1455.6 945 v5.2 M1457.5 945 v2.6 M1459.4 945 v2.6 M1461.4 945 v2.6 M1463.3 945 v2.6 M1465.2 945 v5.2 M1467.1 945 v2.6 M1469.0 945 v2.6 M1470.9 945 v2.6 M1472.8 945 v2.6 M1474.7 945 v5.2 M1476.6 945 v2.6 M1478.5 945 v2.6 M1480.4 945 v2.6 M1482.3 945 v2.6 M1484.2 945 v5.2" stroke="#000" stroke-width="1.3" fill="none"/>
<g font-size="30.1">
<text x="1492.1" y="962.4">0.10</text>
<text x="1492.1" y="1017.3">0.08</text>
<text x="1492.1" y="1078.6">0.06</text>
<text x="1492.1" y="1140.2">0.04</text>
<text x="1492.1" y="1201.6">0.02</text>
<text x="1492.1" y="1252.9">0.00</text>
</g>
</g>
</svg>
</body></html>
